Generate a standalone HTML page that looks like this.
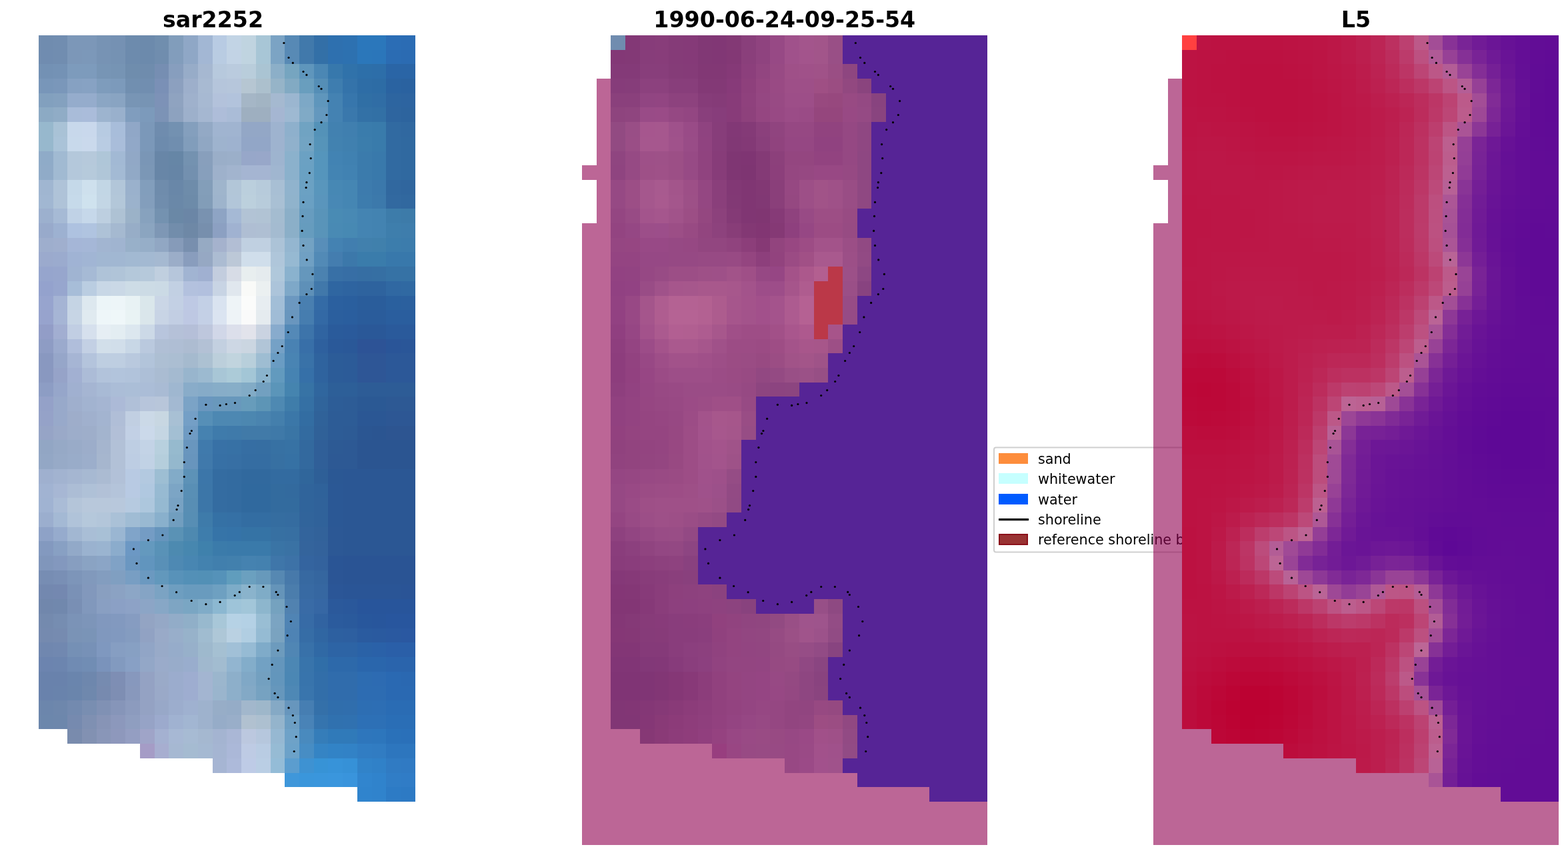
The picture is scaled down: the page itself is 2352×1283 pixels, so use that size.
<!DOCTYPE html>
<html lang="en"><head><meta charset="utf-8"><title>shoreline detection</title>
<style>
html,body{margin:0;padding:0;background:#fff;}
body{width:2352px;height:1283px;overflow:hidden;}
svg{display:block;}
</style></head><body>
<svg width="2352" height="1283" viewBox="0 0 2352 1283">
<rect width="2352" height="1283" fill="#fff"/>
<g font-family="'DejaVu Sans','Liberation Sans',sans-serif" font-size="33.25px" font-weight="bold" fill="#000">
<text x="319.5" y="41" text-anchor="middle">sar2252</text>
<text x="1176.8" y="41" text-anchor="middle">1990-06-24-09-25-54</text>
<text x="2034.0" y="41" text-anchor="middle">L5</text>
</g>
<g id="p1" shape-rendering="crispEdges">
<rect x="58" y="53" width="22" height="22" fill="#708caf"/>
<rect x="80" y="53" width="21" height="22" fill="#718db0"/>
<rect x="101" y="53" width="44" height="22" fill="#7c97b8"/>
<rect x="145" y="53" width="21" height="22" fill="#7793b4"/>
<rect x="166" y="53" width="22" height="22" fill="#7591b3"/>
<rect x="188" y="53" width="22" height="22" fill="#6d8bad"/>
<rect x="210" y="53" width="22" height="22" fill="#6c8aac"/>
<rect x="232" y="53" width="21" height="22" fill="#708eae"/>
<rect x="253" y="53" width="22" height="22" fill="#819dbb"/>
<rect x="275" y="53" width="22" height="22" fill="#8fa7c6"/>
<rect x="297" y="53" width="22" height="22" fill="#a2b7d4"/>
<rect x="319" y="53" width="21" height="22" fill="#b8cbe3"/>
<rect x="340" y="53" width="22" height="22" fill="#c2d4e5"/>
<rect x="362" y="53" width="22" height="22" fill="#c0d4e0"/>
<rect x="384" y="53" width="22" height="22" fill="#a8c6d6"/>
<rect x="406" y="53" width="21" height="22" fill="#7ba3c4"/>
<rect x="427" y="53" width="22" height="22" fill="#5789b5"/>
<rect x="449" y="53" width="22" height="22" fill="#4179ab"/>
<rect x="471" y="53" width="21" height="22" fill="#336fa7"/>
<rect x="492" y="53" width="22" height="22" fill="#2e70af"/>
<rect x="514" y="53" width="22" height="22" fill="#2d71b1"/>
<rect x="536" y="53" width="43" height="22" fill="#2b77bb"/>
<rect x="579" y="53" width="22" height="22" fill="#2b6db5"/>
<rect x="601" y="53" width="22" height="22" fill="#2b6cb4"/>
<rect x="58" y="75" width="22" height="21" fill="#708cb0"/>
<rect x="80" y="75" width="21" height="21" fill="#718db0"/>
<rect x="101" y="75" width="22" height="21" fill="#7c97b8"/>
<rect x="123" y="75" width="22" height="21" fill="#7c98b9"/>
<rect x="145" y="75" width="21" height="21" fill="#7793b4"/>
<rect x="166" y="75" width="22" height="21" fill="#7592b3"/>
<rect x="188" y="75" width="22" height="21" fill="#6d8bad"/>
<rect x="210" y="75" width="22" height="21" fill="#6c8aac"/>
<rect x="232" y="75" width="21" height="21" fill="#708dae"/>
<rect x="253" y="75" width="22" height="21" fill="#829dbc"/>
<rect x="275" y="75" width="22" height="21" fill="#8fa7c6"/>
<rect x="297" y="75" width="22" height="21" fill="#a3b7d4"/>
<rect x="319" y="75" width="21" height="21" fill="#b9cce2"/>
<rect x="340" y="75" width="22" height="21" fill="#c2d3e5"/>
<rect x="362" y="75" width="22" height="21" fill="#c0d4e0"/>
<rect x="384" y="75" width="22" height="21" fill="#a8c6d6"/>
<rect x="406" y="75" width="21" height="21" fill="#7ca4c4"/>
<rect x="427" y="75" width="22" height="21" fill="#588ab5"/>
<rect x="449" y="75" width="22" height="21" fill="#4179ab"/>
<rect x="471" y="75" width="21" height="21" fill="#3370a7"/>
<rect x="492" y="75" width="22" height="21" fill="#2e70af"/>
<rect x="514" y="75" width="22" height="21" fill="#2d71b0"/>
<rect x="536" y="75" width="22" height="21" fill="#2b77ba"/>
<rect x="558" y="75" width="21" height="21" fill="#2b76ba"/>
<rect x="579" y="75" width="22" height="21" fill="#2b6cb3"/>
<rect x="601" y="75" width="22" height="21" fill="#2b6bb2"/>
<rect x="58" y="96" width="22" height="22" fill="#7391b4"/>
<rect x="80" y="96" width="21" height="22" fill="#7492b5"/>
<rect x="101" y="96" width="44" height="22" fill="#7d9bbc"/>
<rect x="145" y="96" width="21" height="22" fill="#7795b5"/>
<rect x="166" y="96" width="22" height="22" fill="#7694b4"/>
<rect x="188" y="96" width="22" height="22" fill="#6f8dad"/>
<rect x="210" y="96" width="22" height="22" fill="#6f8cad"/>
<rect x="232" y="96" width="21" height="22" fill="#768eb2"/>
<rect x="253" y="96" width="22" height="22" fill="#879ebe"/>
<rect x="275" y="96" width="22" height="22" fill="#97acc8"/>
<rect x="297" y="96" width="22" height="22" fill="#a6b8d1"/>
<rect x="319" y="96" width="21" height="22" fill="#b7c9dd"/>
<rect x="340" y="96" width="22" height="22" fill="#bacbde"/>
<rect x="362" y="96" width="22" height="22" fill="#b9cddb"/>
<rect x="384" y="96" width="22" height="22" fill="#aac4d3"/>
<rect x="406" y="96" width="21" height="22" fill="#8cafc8"/>
<rect x="427" y="96" width="22" height="22" fill="#76a5c0"/>
<rect x="449" y="96" width="22" height="22" fill="#5f96bc"/>
<rect x="471" y="96" width="21" height="22" fill="#4b87b4"/>
<rect x="492" y="96" width="22" height="22" fill="#3778ac"/>
<rect x="514" y="96" width="22" height="22" fill="#3072aa"/>
<rect x="536" y="96" width="22" height="22" fill="#2d6fa9"/>
<rect x="558" y="96" width="21" height="22" fill="#2d6ea9"/>
<rect x="579" y="96" width="44" height="22" fill="#2a65a6"/>
<rect x="58" y="118" width="22" height="22" fill="#7896b9"/>
<rect x="80" y="118" width="21" height="22" fill="#7a97ba"/>
<rect x="101" y="118" width="22" height="22" fill="#86a1c2"/>
<rect x="123" y="118" width="22" height="22" fill="#87a2c3"/>
<rect x="145" y="118" width="21" height="22" fill="#7e9cbc"/>
<rect x="166" y="118" width="22" height="22" fill="#7c9abb"/>
<rect x="188" y="118" width="22" height="22" fill="#718fb0"/>
<rect x="210" y="118" width="22" height="22" fill="#718eb0"/>
<rect x="232" y="118" width="21" height="22" fill="#7a90b6"/>
<rect x="253" y="118" width="22" height="22" fill="#8ca0bf"/>
<rect x="275" y="118" width="22" height="22" fill="#9dafcb"/>
<rect x="297" y="118" width="22" height="22" fill="#a8bad2"/>
<rect x="319" y="118" width="21" height="22" fill="#b5c5db"/>
<rect x="340" y="118" width="22" height="22" fill="#b6c6db"/>
<rect x="362" y="118" width="22" height="22" fill="#b6c6d2"/>
<rect x="384" y="118" width="22" height="22" fill="#acc0cd"/>
<rect x="406" y="118" width="21" height="22" fill="#96b4c8"/>
<rect x="427" y="118" width="22" height="22" fill="#82aac3"/>
<rect x="449" y="118" width="22" height="22" fill="#699ebe"/>
<rect x="471" y="118" width="21" height="22" fill="#558eb6"/>
<rect x="492" y="118" width="22" height="22" fill="#3e7daf"/>
<rect x="514" y="118" width="22" height="22" fill="#3473aa"/>
<rect x="536" y="118" width="22" height="22" fill="#2e6da6"/>
<rect x="558" y="118" width="21" height="22" fill="#2d6ca5"/>
<rect x="579" y="118" width="22" height="22" fill="#2a63a1"/>
<rect x="601" y="118" width="22" height="22" fill="#2a62a0"/>
<rect x="58" y="140" width="22" height="21" fill="#82a0be"/>
<rect x="80" y="140" width="21" height="21" fill="#84a1bf"/>
<rect x="101" y="140" width="44" height="21" fill="#95accc"/>
<rect x="145" y="140" width="21" height="21" fill="#8ba6c4"/>
<rect x="166" y="140" width="22" height="21" fill="#89a4c2"/>
<rect x="188" y="140" width="22" height="21" fill="#7895b5"/>
<rect x="210" y="140" width="22" height="21" fill="#7794b4"/>
<rect x="232" y="140" width="21" height="21" fill="#7d92b7"/>
<rect x="253" y="140" width="22" height="21" fill="#8fa3c0"/>
<rect x="275" y="140" width="22" height="21" fill="#9fb1cc"/>
<rect x="297" y="140" width="22" height="21" fill="#a7b9d2"/>
<rect x="319" y="140" width="21" height="21" fill="#b3c2db"/>
<rect x="340" y="140" width="22" height="21" fill="#b2c3dc"/>
<rect x="362" y="140" width="22" height="21" fill="#a5b6c6"/>
<rect x="384" y="140" width="22" height="21" fill="#a2b4c3"/>
<rect x="406" y="140" width="21" height="21" fill="#a5b9d0"/>
<rect x="427" y="140" width="22" height="21" fill="#9bb6d0"/>
<rect x="449" y="140" width="22" height="21" fill="#7da8c6"/>
<rect x="471" y="140" width="21" height="21" fill="#5f96bc"/>
<rect x="492" y="140" width="22" height="21" fill="#4482b2"/>
<rect x="514" y="140" width="22" height="21" fill="#3776ac"/>
<rect x="536" y="140" width="22" height="21" fill="#306fa5"/>
<rect x="558" y="140" width="21" height="21" fill="#306da5"/>
<rect x="579" y="140" width="22" height="21" fill="#2d65a0"/>
<rect x="601" y="140" width="22" height="21" fill="#2d64a0"/>
<rect x="58" y="161" width="22" height="22" fill="#8caac4"/>
<rect x="80" y="161" width="21" height="22" fill="#90acc6"/>
<rect x="101" y="161" width="22" height="22" fill="#a9bcd9"/>
<rect x="123" y="161" width="22" height="22" fill="#aabcda"/>
<rect x="145" y="161" width="21" height="22" fill="#9db4cf"/>
<rect x="166" y="161" width="22" height="22" fill="#99b0cc"/>
<rect x="188" y="161" width="22" height="22" fill="#809dbe"/>
<rect x="210" y="161" width="22" height="22" fill="#7c9abb"/>
<rect x="232" y="161" width="21" height="22" fill="#7c93b6"/>
<rect x="253" y="161" width="22" height="22" fill="#8da2bf"/>
<rect x="275" y="161" width="22" height="22" fill="#9db0cb"/>
<rect x="297" y="161" width="22" height="22" fill="#a5b7d1"/>
<rect x="319" y="161" width="21" height="22" fill="#aebdd9"/>
<rect x="340" y="161" width="22" height="22" fill="#aabcd7"/>
<rect x="362" y="161" width="44" height="22" fill="#9eafc0"/>
<rect x="406" y="161" width="21" height="22" fill="#a5b6d2"/>
<rect x="427" y="161" width="22" height="22" fill="#9eb9d2"/>
<rect x="449" y="161" width="22" height="22" fill="#80aac6"/>
<rect x="471" y="161" width="21" height="22" fill="#6498be"/>
<rect x="492" y="161" width="22" height="22" fill="#4482b2"/>
<rect x="514" y="161" width="22" height="22" fill="#3a78ac"/>
<rect x="536" y="161" width="22" height="22" fill="#3371a6"/>
<rect x="558" y="161" width="21" height="22" fill="#3270a5"/>
<rect x="579" y="161" width="22" height="22" fill="#2e659f"/>
<rect x="601" y="161" width="22" height="22" fill="#2d649e"/>
<rect x="58" y="183" width="22" height="22" fill="#97b8cd"/>
<rect x="80" y="183" width="21" height="22" fill="#a9c2d6"/>
<rect x="101" y="183" width="22" height="22" fill="#c8d8eb"/>
<rect x="123" y="183" width="22" height="22" fill="#c9d8ec"/>
<rect x="145" y="183" width="21" height="22" fill="#b7cbe2"/>
<rect x="166" y="183" width="22" height="22" fill="#a8bdda"/>
<rect x="188" y="183" width="22" height="22" fill="#90a7c7"/>
<rect x="210" y="183" width="22" height="22" fill="#7b98b9"/>
<rect x="232" y="183" width="21" height="22" fill="#6f8cae"/>
<rect x="253" y="183" width="22" height="22" fill="#7391b1"/>
<rect x="275" y="183" width="22" height="22" fill="#849fbd"/>
<rect x="297" y="183" width="22" height="22" fill="#93a9c5"/>
<rect x="319" y="183" width="43" height="22" fill="#a0b4d0"/>
<rect x="362" y="183" width="44" height="22" fill="#93a7c6"/>
<rect x="406" y="183" width="21" height="22" fill="#9eb3cf"/>
<rect x="427" y="183" width="22" height="22" fill="#8eb0cc"/>
<rect x="449" y="183" width="22" height="22" fill="#70a3c2"/>
<rect x="471" y="183" width="21" height="22" fill="#5492b8"/>
<rect x="492" y="183" width="22" height="22" fill="#4281b0"/>
<rect x="514" y="183" width="22" height="22" fill="#407faf"/>
<rect x="536" y="183" width="22" height="22" fill="#3a7cac"/>
<rect x="558" y="183" width="21" height="22" fill="#397bab"/>
<rect x="579" y="183" width="22" height="22" fill="#316aa1"/>
<rect x="601" y="183" width="22" height="22" fill="#3068a0"/>
<rect x="58" y="205" width="22" height="22" fill="#97b8cd"/>
<rect x="80" y="205" width="21" height="22" fill="#aac3d8"/>
<rect x="101" y="205" width="22" height="22" fill="#c8d9eb"/>
<rect x="123" y="205" width="22" height="22" fill="#cad9ec"/>
<rect x="145" y="205" width="21" height="22" fill="#b9cce3"/>
<rect x="166" y="205" width="22" height="22" fill="#a9bdda"/>
<rect x="188" y="205" width="22" height="22" fill="#91a8c8"/>
<rect x="210" y="205" width="22" height="22" fill="#7b98b9"/>
<rect x="232" y="205" width="21" height="22" fill="#6d8bad"/>
<rect x="253" y="205" width="22" height="22" fill="#708eaf"/>
<rect x="275" y="205" width="22" height="22" fill="#819dbb"/>
<rect x="297" y="205" width="22" height="22" fill="#90a7c3"/>
<rect x="319" y="205" width="21" height="22" fill="#9eb3ce"/>
<rect x="340" y="205" width="22" height="22" fill="#9eb2cf"/>
<rect x="362" y="205" width="44" height="22" fill="#92a6c7"/>
<rect x="406" y="205" width="21" height="22" fill="#9eb3cf"/>
<rect x="427" y="205" width="22" height="22" fill="#90b1cc"/>
<rect x="449" y="205" width="22" height="22" fill="#72a4c3"/>
<rect x="471" y="205" width="21" height="22" fill="#5694b9"/>
<rect x="492" y="205" width="22" height="22" fill="#4282b0"/>
<rect x="514" y="205" width="22" height="22" fill="#4080af"/>
<rect x="536" y="205" width="22" height="22" fill="#3b7dac"/>
<rect x="558" y="205" width="21" height="22" fill="#397bab"/>
<rect x="579" y="205" width="22" height="22" fill="#316aa1"/>
<rect x="601" y="205" width="22" height="22" fill="#3069a0"/>
<rect x="58" y="227" width="22" height="21" fill="#8fabc8"/>
<rect x="80" y="227" width="21" height="21" fill="#a1bad2"/>
<rect x="101" y="227" width="22" height="21" fill="#b4c8db"/>
<rect x="123" y="227" width="22" height="21" fill="#b6c9db"/>
<rect x="145" y="227" width="21" height="21" fill="#afc6d8"/>
<rect x="166" y="227" width="22" height="21" fill="#a2b9d4"/>
<rect x="188" y="227" width="22" height="21" fill="#91a8c6"/>
<rect x="210" y="227" width="22" height="21" fill="#7a96b6"/>
<rect x="232" y="227" width="21" height="21" fill="#6886a7"/>
<rect x="253" y="227" width="22" height="21" fill="#6686a6"/>
<rect x="275" y="227" width="22" height="21" fill="#7492b0"/>
<rect x="297" y="227" width="22" height="21" fill="#889fbc"/>
<rect x="319" y="227" width="21" height="21" fill="#9aaec8"/>
<rect x="340" y="227" width="22" height="21" fill="#9bafc9"/>
<rect x="362" y="227" width="22" height="21" fill="#97a7c9"/>
<rect x="384" y="227" width="22" height="21" fill="#98a7c9"/>
<rect x="406" y="227" width="21" height="21" fill="#9eb4cf"/>
<rect x="427" y="227" width="22" height="21" fill="#8bb1cc"/>
<rect x="449" y="227" width="22" height="21" fill="#6ba1c3"/>
<rect x="471" y="227" width="21" height="21" fill="#5595bc"/>
<rect x="492" y="227" width="22" height="21" fill="#4283b3"/>
<rect x="514" y="227" width="22" height="21" fill="#4081b1"/>
<rect x="536" y="227" width="22" height="21" fill="#3b7bac"/>
<rect x="558" y="227" width="21" height="21" fill="#3979ab"/>
<rect x="579" y="227" width="22" height="21" fill="#316aa1"/>
<rect x="601" y="227" width="22" height="21" fill="#3069a0"/>
<rect x="58" y="248" width="22" height="22" fill="#90abc8"/>
<rect x="80" y="248" width="21" height="22" fill="#a1bad2"/>
<rect x="101" y="248" width="22" height="22" fill="#b4c8db"/>
<rect x="123" y="248" width="22" height="22" fill="#b6cadb"/>
<rect x="145" y="248" width="21" height="22" fill="#b0c6d8"/>
<rect x="166" y="248" width="22" height="22" fill="#a3bad4"/>
<rect x="188" y="248" width="22" height="22" fill="#91a9c6"/>
<rect x="210" y="248" width="22" height="22" fill="#7b97b6"/>
<rect x="232" y="248" width="21" height="22" fill="#6886a7"/>
<rect x="253" y="248" width="22" height="22" fill="#6685a6"/>
<rect x="275" y="248" width="22" height="22" fill="#7390af"/>
<rect x="297" y="248" width="22" height="22" fill="#879fbc"/>
<rect x="319" y="248" width="21" height="22" fill="#9eb1cb"/>
<rect x="340" y="248" width="22" height="22" fill="#a2b4ce"/>
<rect x="362" y="248" width="44" height="22" fill="#a5b5d2"/>
<rect x="406" y="248" width="21" height="22" fill="#a0b6d0"/>
<rect x="427" y="248" width="22" height="22" fill="#8bb1cc"/>
<rect x="449" y="248" width="22" height="22" fill="#6aa1c3"/>
<rect x="471" y="248" width="21" height="22" fill="#5595bc"/>
<rect x="492" y="248" width="22" height="22" fill="#4384b3"/>
<rect x="514" y="248" width="22" height="22" fill="#4182b2"/>
<rect x="536" y="248" width="22" height="22" fill="#3b7bac"/>
<rect x="558" y="248" width="21" height="22" fill="#3979ab"/>
<rect x="579" y="248" width="22" height="22" fill="#316aa1"/>
<rect x="601" y="248" width="22" height="22" fill="#3069a0"/>
<rect x="58" y="270" width="22" height="22" fill="#a0b6d1"/>
<rect x="80" y="270" width="21" height="22" fill="#afc3d8"/>
<rect x="101" y="270" width="22" height="22" fill="#c5d9e9"/>
<rect x="123" y="270" width="22" height="22" fill="#cee0ed"/>
<rect x="145" y="270" width="21" height="22" fill="#c2d6e5"/>
<rect x="166" y="270" width="22" height="22" fill="#b2c6d9"/>
<rect x="188" y="270" width="22" height="22" fill="#9ab1cc"/>
<rect x="210" y="270" width="22" height="22" fill="#829ebc"/>
<rect x="232" y="270" width="21" height="22" fill="#6f8cac"/>
<rect x="253" y="270" width="22" height="22" fill="#6987a8"/>
<rect x="275" y="270" width="22" height="22" fill="#6e8caa"/>
<rect x="297" y="270" width="22" height="22" fill="#839eb9"/>
<rect x="319" y="270" width="21" height="22" fill="#9fb5cc"/>
<rect x="340" y="270" width="22" height="22" fill="#b2c6d8"/>
<rect x="362" y="270" width="22" height="22" fill="#bbcfdd"/>
<rect x="384" y="270" width="22" height="22" fill="#b7cbdb"/>
<rect x="406" y="270" width="21" height="22" fill="#a8bfd4"/>
<rect x="427" y="270" width="22" height="22" fill="#90b3cd"/>
<rect x="449" y="270" width="22" height="22" fill="#6ba1c3"/>
<rect x="471" y="270" width="21" height="22" fill="#5996bc"/>
<rect x="492" y="270" width="22" height="22" fill="#4788b4"/>
<rect x="514" y="270" width="22" height="22" fill="#4586b3"/>
<rect x="536" y="270" width="22" height="22" fill="#3d7bad"/>
<rect x="558" y="270" width="21" height="22" fill="#3b78ab"/>
<rect x="579" y="270" width="22" height="22" fill="#31689f"/>
<rect x="601" y="270" width="22" height="22" fill="#30669e"/>
<rect x="58" y="292" width="22" height="21" fill="#a1b7d2"/>
<rect x="80" y="292" width="21" height="21" fill="#afc3d8"/>
<rect x="101" y="292" width="22" height="21" fill="#c6daea"/>
<rect x="123" y="292" width="22" height="21" fill="#cfe2ee"/>
<rect x="145" y="292" width="21" height="21" fill="#c3d6e5"/>
<rect x="166" y="292" width="22" height="21" fill="#b3c7d9"/>
<rect x="188" y="292" width="22" height="21" fill="#9bb2cc"/>
<rect x="210" y="292" width="22" height="21" fill="#839ebc"/>
<rect x="232" y="292" width="21" height="21" fill="#708dad"/>
<rect x="253" y="292" width="22" height="21" fill="#6a88a8"/>
<rect x="275" y="292" width="22" height="21" fill="#6d8ba9"/>
<rect x="297" y="292" width="22" height="21" fill="#829db8"/>
<rect x="319" y="292" width="21" height="21" fill="#9eb4cc"/>
<rect x="340" y="292" width="22" height="21" fill="#b2c6d9"/>
<rect x="362" y="292" width="22" height="21" fill="#bcd0dd"/>
<rect x="384" y="292" width="22" height="21" fill="#b8ccdb"/>
<rect x="406" y="292" width="21" height="21" fill="#a9c0d4"/>
<rect x="427" y="292" width="22" height="21" fill="#90b3cc"/>
<rect x="449" y="292" width="22" height="21" fill="#6aa0c3"/>
<rect x="471" y="292" width="21" height="21" fill="#5a95bc"/>
<rect x="492" y="292" width="22" height="21" fill="#4888b5"/>
<rect x="514" y="292" width="22" height="21" fill="#4586b3"/>
<rect x="536" y="292" width="22" height="21" fill="#3d7cad"/>
<rect x="558" y="292" width="21" height="21" fill="#3c79ab"/>
<rect x="579" y="292" width="22" height="21" fill="#3269a0"/>
<rect x="601" y="292" width="22" height="21" fill="#31689f"/>
<rect x="58" y="313" width="22" height="22" fill="#9cb0ce"/>
<rect x="80" y="313" width="21" height="22" fill="#a6bad5"/>
<rect x="101" y="313" width="22" height="22" fill="#c0d2e6"/>
<rect x="123" y="313" width="22" height="22" fill="#c6d8ea"/>
<rect x="145" y="313" width="21" height="22" fill="#bdcfe0"/>
<rect x="166" y="313" width="22" height="22" fill="#aec2d4"/>
<rect x="188" y="313" width="22" height="22" fill="#9bb2c8"/>
<rect x="210" y="313" width="22" height="22" fill="#87a2be"/>
<rect x="232" y="313" width="21" height="22" fill="#7492b0"/>
<rect x="253" y="313" width="22" height="22" fill="#6a88a6"/>
<rect x="275" y="313" width="22" height="22" fill="#6b86a6"/>
<rect x="297" y="313" width="22" height="22" fill="#7992b0"/>
<rect x="319" y="313" width="21" height="22" fill="#8ea4c4"/>
<rect x="340" y="313" width="22" height="22" fill="#a5b9d5"/>
<rect x="362" y="313" width="22" height="22" fill="#b2c3d5"/>
<rect x="384" y="313" width="22" height="22" fill="#b1c3d4"/>
<rect x="406" y="313" width="21" height="22" fill="#a4bcd0"/>
<rect x="427" y="313" width="22" height="22" fill="#8bafc8"/>
<rect x="449" y="313" width="22" height="22" fill="#679cbf"/>
<rect x="471" y="313" width="21" height="22" fill="#5994b9"/>
<rect x="492" y="313" width="22" height="22" fill="#498bb4"/>
<rect x="514" y="313" width="22" height="22" fill="#4889b4"/>
<rect x="536" y="313" width="22" height="22" fill="#4484b2"/>
<rect x="558" y="313" width="21" height="22" fill="#4383b1"/>
<rect x="579" y="313" width="22" height="22" fill="#3d7caa"/>
<rect x="601" y="313" width="22" height="22" fill="#3d7ba9"/>
<rect x="58" y="335" width="22" height="22" fill="#98aacb"/>
<rect x="80" y="335" width="21" height="22" fill="#9db1d1"/>
<rect x="101" y="335" width="22" height="22" fill="#aec2e0"/>
<rect x="123" y="335" width="22" height="22" fill="#b0c4e0"/>
<rect x="145" y="335" width="21" height="22" fill="#aec2d7"/>
<rect x="166" y="335" width="22" height="22" fill="#a5b9d0"/>
<rect x="188" y="335" width="22" height="22" fill="#97adc7"/>
<rect x="210" y="335" width="22" height="22" fill="#8ba5c0"/>
<rect x="232" y="335" width="21" height="22" fill="#7e97b5"/>
<rect x="253" y="335" width="22" height="22" fill="#728dab"/>
<rect x="275" y="335" width="22" height="22" fill="#6e88a6"/>
<rect x="297" y="335" width="22" height="22" fill="#778fad"/>
<rect x="319" y="335" width="21" height="22" fill="#8ca0c2"/>
<rect x="340" y="335" width="22" height="22" fill="#a0b2d1"/>
<rect x="362" y="335" width="22" height="22" fill="#afbed3"/>
<rect x="384" y="335" width="22" height="22" fill="#afbfd3"/>
<rect x="406" y="335" width="21" height="22" fill="#a4bbd0"/>
<rect x="427" y="335" width="22" height="22" fill="#8bafc8"/>
<rect x="449" y="335" width="22" height="22" fill="#669cbe"/>
<rect x="471" y="335" width="21" height="22" fill="#5994b9"/>
<rect x="492" y="335" width="22" height="22" fill="#498ab4"/>
<rect x="514" y="335" width="22" height="22" fill="#4789b3"/>
<rect x="536" y="335" width="22" height="22" fill="#4484b2"/>
<rect x="558" y="335" width="21" height="22" fill="#4383b1"/>
<rect x="579" y="335" width="22" height="22" fill="#3e7eac"/>
<rect x="601" y="335" width="22" height="22" fill="#3e7dac"/>
<rect x="58" y="357" width="22" height="21" fill="#9eaecd"/>
<rect x="80" y="357" width="21" height="21" fill="#a0afce"/>
<rect x="101" y="357" width="22" height="21" fill="#a5b6d7"/>
<rect x="123" y="357" width="22" height="21" fill="#a5b7d7"/>
<rect x="145" y="357" width="21" height="21" fill="#a2b5d1"/>
<rect x="166" y="357" width="22" height="21" fill="#a0b4d0"/>
<rect x="188" y="357" width="22" height="21" fill="#98b0c9"/>
<rect x="210" y="357" width="22" height="21" fill="#96aec8"/>
<rect x="232" y="357" width="21" height="21" fill="#91a7c3"/>
<rect x="253" y="357" width="22" height="21" fill="#869bb9"/>
<rect x="275" y="357" width="22" height="21" fill="#788fae"/>
<rect x="297" y="357" width="22" height="21" fill="#96aac3"/>
<rect x="319" y="357" width="21" height="21" fill="#a5b2cd"/>
<rect x="340" y="357" width="22" height="21" fill="#b2bed4"/>
<rect x="362" y="357" width="44" height="21" fill="#c0d0e1"/>
<rect x="406" y="357" width="21" height="21" fill="#acc3d7"/>
<rect x="427" y="357" width="22" height="21" fill="#94b6d0"/>
<rect x="449" y="357" width="22" height="21" fill="#73a2c3"/>
<rect x="471" y="357" width="21" height="21" fill="#588eb9"/>
<rect x="492" y="357" width="22" height="21" fill="#4482b2"/>
<rect x="514" y="357" width="22" height="21" fill="#417eaf"/>
<rect x="536" y="357" width="22" height="21" fill="#4180ad"/>
<rect x="558" y="357" width="21" height="21" fill="#4080ac"/>
<rect x="579" y="357" width="22" height="21" fill="#3c7dac"/>
<rect x="601" y="357" width="22" height="21" fill="#3c7cac"/>
<rect x="58" y="378" width="22" height="22" fill="#9baacd"/>
<rect x="80" y="378" width="21" height="22" fill="#9babce"/>
<rect x="101" y="378" width="22" height="22" fill="#a0b3d4"/>
<rect x="123" y="378" width="22" height="22" fill="#a1b5d4"/>
<rect x="145" y="378" width="43" height="22" fill="#a1b7d2"/>
<rect x="188" y="378" width="22" height="22" fill="#a2b9d2"/>
<rect x="210" y="378" width="22" height="22" fill="#a3b9d2"/>
<rect x="232" y="378" width="21" height="22" fill="#a5b9d1"/>
<rect x="253" y="378" width="22" height="22" fill="#9badc8"/>
<rect x="275" y="378" width="22" height="22" fill="#899dbd"/>
<rect x="297" y="378" width="22" height="22" fill="#96a8c3"/>
<rect x="319" y="378" width="21" height="22" fill="#acbcd2"/>
<rect x="340" y="378" width="22" height="22" fill="#bcc8d7"/>
<rect x="362" y="378" width="44" height="22" fill="#d0deeb"/>
<rect x="406" y="378" width="21" height="22" fill="#afc6da"/>
<rect x="427" y="378" width="22" height="22" fill="#96b9d2"/>
<rect x="449" y="378" width="22" height="22" fill="#70a0c3"/>
<rect x="471" y="378" width="21" height="22" fill="#528ab6"/>
<rect x="492" y="378" width="22" height="22" fill="#447daf"/>
<rect x="514" y="378" width="22" height="22" fill="#3c78aa"/>
<rect x="536" y="378" width="43" height="22" fill="#3a7cab"/>
<rect x="579" y="378" width="44" height="22" fill="#3878ab"/>
<rect x="58" y="400" width="22" height="22" fill="#96a5cd"/>
<rect x="80" y="400" width="21" height="22" fill="#97a6cd"/>
<rect x="101" y="400" width="22" height="22" fill="#a0b4d2"/>
<rect x="123" y="400" width="22" height="22" fill="#a6bad5"/>
<rect x="145" y="400" width="21" height="22" fill="#afc3d8"/>
<rect x="166" y="400" width="22" height="22" fill="#b0c4d8"/>
<rect x="188" y="400" width="22" height="22" fill="#b4c8da"/>
<rect x="210" y="400" width="22" height="22" fill="#b6c9db"/>
<rect x="232" y="400" width="21" height="22" fill="#c0cfdf"/>
<rect x="253" y="400" width="22" height="22" fill="#b6c6db"/>
<rect x="275" y="400" width="22" height="22" fill="#a1b4d2"/>
<rect x="297" y="400" width="22" height="22" fill="#a0b0d1"/>
<rect x="319" y="400" width="21" height="22" fill="#c3cdde"/>
<rect x="340" y="400" width="22" height="22" fill="#d7dce6"/>
<rect x="362" y="400" width="22" height="22" fill="#e8eeef"/>
<rect x="384" y="400" width="22" height="22" fill="#e5ebee"/>
<rect x="406" y="400" width="21" height="22" fill="#b0c8db"/>
<rect x="427" y="400" width="22" height="22" fill="#8ab2ce"/>
<rect x="449" y="400" width="22" height="22" fill="#6597bc"/>
<rect x="471" y="400" width="21" height="22" fill="#4b82b0"/>
<rect x="492" y="400" width="22" height="22" fill="#3870a6"/>
<rect x="514" y="400" width="22" height="22" fill="#376ea5"/>
<rect x="536" y="400" width="22" height="22" fill="#366ea3"/>
<rect x="558" y="400" width="21" height="22" fill="#366fa3"/>
<rect x="579" y="400" width="44" height="22" fill="#3672a5"/>
<rect x="58" y="422" width="22" height="22" fill="#94a2cd"/>
<rect x="80" y="422" width="21" height="22" fill="#97a6ce"/>
<rect x="101" y="422" width="22" height="22" fill="#a7bdd8"/>
<rect x="123" y="422" width="22" height="22" fill="#bacde1"/>
<rect x="145" y="422" width="21" height="22" fill="#c8d7e6"/>
<rect x="166" y="422" width="22" height="22" fill="#cad8e6"/>
<rect x="188" y="422" width="22" height="22" fill="#cddce6"/>
<rect x="210" y="422" width="22" height="22" fill="#ccdbe5"/>
<rect x="232" y="422" width="21" height="22" fill="#cbdae5"/>
<rect x="253" y="422" width="22" height="22" fill="#c2d0e3"/>
<rect x="275" y="422" width="22" height="22" fill="#b3c1de"/>
<rect x="297" y="422" width="22" height="22" fill="#b2c0de"/>
<rect x="319" y="422" width="21" height="22" fill="#c8d4e4"/>
<rect x="340" y="422" width="22" height="22" fill="#e0e7ee"/>
<rect x="362" y="422" width="22" height="22" fill="#f9faf8"/>
<rect x="384" y="422" width="22" height="22" fill="#ebf0f1"/>
<rect x="406" y="422" width="21" height="22" fill="#acc4da"/>
<rect x="427" y="422" width="22" height="22" fill="#7ea8c8"/>
<rect x="449" y="422" width="22" height="22" fill="#5e90b8"/>
<rect x="471" y="422" width="21" height="22" fill="#4178aa"/>
<rect x="492" y="422" width="22" height="22" fill="#2f66a1"/>
<rect x="514" y="422" width="22" height="22" fill="#2e64a0"/>
<rect x="536" y="422" width="43" height="22" fill="#2e639e"/>
<rect x="579" y="422" width="22" height="22" fill="#3068a2"/>
<rect x="601" y="422" width="22" height="22" fill="#3069a2"/>
<rect x="58" y="444" width="22" height="21" fill="#97a4ce"/>
<rect x="80" y="444" width="21" height="21" fill="#a5b4d4"/>
<rect x="101" y="444" width="22" height="21" fill="#c5d4e4"/>
<rect x="123" y="444" width="22" height="21" fill="#dde8ef"/>
<rect x="145" y="444" width="21" height="21" fill="#ecf5f8"/>
<rect x="166" y="444" width="22" height="21" fill="#edf5f8"/>
<rect x="188" y="444" width="22" height="21" fill="#e8f2f4"/>
<rect x="210" y="444" width="22" height="21" fill="#dae7eb"/>
<rect x="232" y="444" width="21" height="21" fill="#cad6e6"/>
<rect x="253" y="444" width="22" height="21" fill="#c3d0e4"/>
<rect x="275" y="444" width="22" height="21" fill="#bec9e4"/>
<rect x="297" y="444" width="22" height="21" fill="#c3d0e6"/>
<rect x="319" y="444" width="21" height="21" fill="#d9e3f0"/>
<rect x="340" y="444" width="22" height="21" fill="#eef4f7"/>
<rect x="362" y="444" width="22" height="21" fill="#fbfcfb"/>
<rect x="384" y="444" width="22" height="21" fill="#e7edf1"/>
<rect x="406" y="444" width="21" height="21" fill="#a2bed7"/>
<rect x="427" y="444" width="22" height="21" fill="#6c98c0"/>
<rect x="449" y="444" width="22" height="21" fill="#497fb0"/>
<rect x="471" y="444" width="21" height="21" fill="#346ba6"/>
<rect x="492" y="444" width="22" height="21" fill="#2b609f"/>
<rect x="514" y="444" width="22" height="21" fill="#2a5f9e"/>
<rect x="536" y="444" width="43" height="21" fill="#2a5d9b"/>
<rect x="579" y="444" width="22" height="21" fill="#2a609e"/>
<rect x="601" y="444" width="22" height="21" fill="#2b609e"/>
<rect x="58" y="465" width="22" height="22" fill="#97a3cd"/>
<rect x="80" y="465" width="21" height="22" fill="#a6b5d5"/>
<rect x="101" y="465" width="22" height="22" fill="#c7d5e5"/>
<rect x="123" y="465" width="22" height="22" fill="#e0eaf0"/>
<rect x="145" y="465" width="21" height="22" fill="#eef6f9"/>
<rect x="166" y="465" width="22" height="22" fill="#eff7f9"/>
<rect x="188" y="465" width="22" height="22" fill="#e9f3f4"/>
<rect x="210" y="465" width="22" height="22" fill="#dae6eb"/>
<rect x="232" y="465" width="21" height="22" fill="#c8d4e5"/>
<rect x="253" y="465" width="22" height="22" fill="#c2cee3"/>
<rect x="275" y="465" width="22" height="22" fill="#bec8e3"/>
<rect x="297" y="465" width="22" height="22" fill="#c4d0e6"/>
<rect x="319" y="465" width="21" height="22" fill="#dbe4f1"/>
<rect x="340" y="465" width="22" height="22" fill="#eef3f7"/>
<rect x="362" y="465" width="22" height="22" fill="#fafafa"/>
<rect x="384" y="465" width="22" height="22" fill="#e5ebef"/>
<rect x="406" y="465" width="21" height="22" fill="#a0bcd6"/>
<rect x="427" y="465" width="22" height="22" fill="#6996be"/>
<rect x="449" y="465" width="22" height="22" fill="#467daf"/>
<rect x="471" y="465" width="21" height="22" fill="#3369a5"/>
<rect x="492" y="465" width="22" height="22" fill="#2b5f9e"/>
<rect x="514" y="465" width="22" height="22" fill="#2a5e9e"/>
<rect x="536" y="465" width="43" height="22" fill="#2a5c9b"/>
<rect x="579" y="465" width="44" height="22" fill="#2a5e9e"/>
<rect x="58" y="487" width="22" height="22" fill="#929dc7"/>
<rect x="80" y="487" width="21" height="22" fill="#a2aed1"/>
<rect x="101" y="487" width="22" height="22" fill="#c1cee3"/>
<rect x="123" y="487" width="22" height="22" fill="#d6e0ed"/>
<rect x="145" y="487" width="21" height="22" fill="#e6eef4"/>
<rect x="166" y="487" width="22" height="22" fill="#e3edf2"/>
<rect x="188" y="487" width="22" height="22" fill="#dce7ef"/>
<rect x="210" y="487" width="22" height="22" fill="#ccd9e7"/>
<rect x="232" y="487" width="21" height="22" fill="#b8c5dd"/>
<rect x="253" y="487" width="22" height="22" fill="#b5c1d8"/>
<rect x="275" y="487" width="22" height="22" fill="#b5bfd8"/>
<rect x="297" y="487" width="22" height="22" fill="#bec7dd"/>
<rect x="319" y="487" width="21" height="22" fill="#d1d7e8"/>
<rect x="340" y="487" width="22" height="22" fill="#dcdfeb"/>
<rect x="362" y="487" width="22" height="22" fill="#e2e3eb"/>
<rect x="384" y="487" width="22" height="22" fill="#cad3e1"/>
<rect x="406" y="487" width="21" height="22" fill="#88abcd"/>
<rect x="427" y="487" width="22" height="22" fill="#5489b7"/>
<rect x="449" y="487" width="22" height="22" fill="#3d74aa"/>
<rect x="471" y="487" width="21" height="22" fill="#3064a1"/>
<rect x="492" y="487" width="22" height="22" fill="#2a5b9b"/>
<rect x="514" y="487" width="22" height="22" fill="#2a5a9b"/>
<rect x="536" y="487" width="43" height="22" fill="#2a5898"/>
<rect x="579" y="487" width="44" height="22" fill="#2a5a9b"/>
<rect x="58" y="509" width="22" height="21" fill="#8e9cc4"/>
<rect x="80" y="509" width="21" height="21" fill="#9baacd"/>
<rect x="101" y="509" width="22" height="21" fill="#b0bedb"/>
<rect x="123" y="509" width="22" height="21" fill="#c3d0e4"/>
<rect x="145" y="509" width="21" height="21" fill="#d2dfea"/>
<rect x="166" y="509" width="22" height="21" fill="#d1deea"/>
<rect x="188" y="509" width="22" height="21" fill="#c8d7e6"/>
<rect x="210" y="509" width="22" height="21" fill="#bac9de"/>
<rect x="232" y="509" width="21" height="21" fill="#b0bfd5"/>
<rect x="253" y="509" width="22" height="21" fill="#afbed4"/>
<rect x="275" y="509" width="22" height="21" fill="#adbcd1"/>
<rect x="297" y="509" width="22" height="21" fill="#b3c1d5"/>
<rect x="319" y="509" width="21" height="21" fill="#c3d0e0"/>
<rect x="340" y="509" width="22" height="21" fill="#cdd7e4"/>
<rect x="362" y="509" width="22" height="21" fill="#cbd6e1"/>
<rect x="384" y="509" width="22" height="21" fill="#b1c5d7"/>
<rect x="406" y="509" width="21" height="21" fill="#75a1c6"/>
<rect x="427" y="509" width="22" height="21" fill="#4982b3"/>
<rect x="449" y="509" width="22" height="21" fill="#386fa8"/>
<rect x="471" y="509" width="21" height="21" fill="#2e609e"/>
<rect x="492" y="509" width="22" height="21" fill="#2a5999"/>
<rect x="514" y="509" width="22" height="21" fill="#2a5898"/>
<rect x="536" y="509" width="43" height="21" fill="#2d5396"/>
<rect x="579" y="509" width="22" height="21" fill="#2a5598"/>
<rect x="601" y="509" width="22" height="21" fill="#2a5698"/>
<rect x="58" y="530" width="22" height="22" fill="#8998c0"/>
<rect x="80" y="530" width="21" height="22" fill="#96a6c9"/>
<rect x="101" y="530" width="22" height="22" fill="#a6b5d4"/>
<rect x="123" y="530" width="22" height="22" fill="#b4c4dc"/>
<rect x="145" y="530" width="43" height="22" fill="#becee1"/>
<rect x="188" y="530" width="22" height="22" fill="#b9c9de"/>
<rect x="210" y="530" width="22" height="22" fill="#b2c4da"/>
<rect x="232" y="530" width="21" height="22" fill="#adbfd3"/>
<rect x="253" y="530" width="22" height="22" fill="#abbed2"/>
<rect x="275" y="530" width="22" height="22" fill="#a5bace"/>
<rect x="297" y="530" width="22" height="22" fill="#acc1d2"/>
<rect x="319" y="530" width="21" height="22" fill="#bccfdb"/>
<rect x="340" y="530" width="22" height="22" fill="#c1d4de"/>
<rect x="362" y="530" width="22" height="22" fill="#b8cfdb"/>
<rect x="384" y="530" width="22" height="22" fill="#9ebdd2"/>
<rect x="406" y="530" width="21" height="22" fill="#6a9cc3"/>
<rect x="427" y="530" width="22" height="22" fill="#4984b3"/>
<rect x="449" y="530" width="22" height="22" fill="#3972a8"/>
<rect x="471" y="530" width="21" height="22" fill="#2f639e"/>
<rect x="492" y="530" width="22" height="22" fill="#2c5c98"/>
<rect x="514" y="530" width="22" height="22" fill="#2c5b98"/>
<rect x="536" y="530" width="43" height="22" fill="#2e5696"/>
<rect x="579" y="530" width="44" height="22" fill="#2c5898"/>
<rect x="58" y="552" width="22" height="22" fill="#8998c0"/>
<rect x="80" y="552" width="21" height="22" fill="#96a3c8"/>
<rect x="101" y="552" width="22" height="22" fill="#a2b0d2"/>
<rect x="123" y="552" width="22" height="22" fill="#acbcd7"/>
<rect x="145" y="552" width="21" height="22" fill="#b2c3db"/>
<rect x="166" y="552" width="22" height="22" fill="#b2c4dc"/>
<rect x="188" y="552" width="22" height="22" fill="#b1c3db"/>
<rect x="210" y="552" width="22" height="22" fill="#adbfd7"/>
<rect x="232" y="552" width="21" height="22" fill="#aabcd2"/>
<rect x="253" y="552" width="22" height="22" fill="#a4bad0"/>
<rect x="275" y="552" width="22" height="22" fill="#98b5cd"/>
<rect x="297" y="552" width="22" height="22" fill="#9cbad0"/>
<rect x="319" y="552" width="21" height="22" fill="#a8c6d6"/>
<rect x="340" y="552" width="22" height="22" fill="#accbd8"/>
<rect x="362" y="552" width="22" height="22" fill="#a3c6d6"/>
<rect x="384" y="552" width="22" height="22" fill="#8ab3cc"/>
<rect x="406" y="552" width="21" height="22" fill="#629abe"/>
<rect x="427" y="552" width="22" height="22" fill="#4683b2"/>
<rect x="449" y="552" width="22" height="22" fill="#3670a8"/>
<rect x="471" y="552" width="21" height="22" fill="#2f639e"/>
<rect x="492" y="552" width="22" height="22" fill="#2c5c98"/>
<rect x="514" y="552" width="22" height="22" fill="#2c5b98"/>
<rect x="536" y="552" width="43" height="22" fill="#2e5696"/>
<rect x="579" y="552" width="44" height="22" fill="#2c5898"/>
<rect x="58" y="574" width="22" height="21" fill="#8d9dc4"/>
<rect x="80" y="574" width="21" height="21" fill="#96a6ca"/>
<rect x="101" y="574" width="22" height="21" fill="#a0b0d0"/>
<rect x="123" y="574" width="22" height="21" fill="#a5b5d2"/>
<rect x="145" y="574" width="21" height="21" fill="#a8bad5"/>
<rect x="166" y="574" width="22" height="21" fill="#abbdd7"/>
<rect x="188" y="574" width="22" height="21" fill="#abbed7"/>
<rect x="210" y="574" width="22" height="21" fill="#abbdd7"/>
<rect x="232" y="574" width="21" height="21" fill="#a9bbd4"/>
<rect x="253" y="574" width="22" height="21" fill="#9fb7d0"/>
<rect x="275" y="574" width="22" height="21" fill="#89acc9"/>
<rect x="297" y="574" width="22" height="21" fill="#86abc8"/>
<rect x="319" y="574" width="21" height="21" fill="#87adc8"/>
<rect x="340" y="574" width="22" height="21" fill="#87aec8"/>
<rect x="362" y="574" width="22" height="21" fill="#82abc6"/>
<rect x="384" y="574" width="22" height="21" fill="#72a0c0"/>
<rect x="406" y="574" width="21" height="21" fill="#5b95b9"/>
<rect x="427" y="574" width="22" height="21" fill="#4584af"/>
<rect x="449" y="574" width="22" height="21" fill="#3773a5"/>
<rect x="471" y="574" width="21" height="21" fill="#30669e"/>
<rect x="492" y="574" width="44" height="21" fill="#2d5f98"/>
<rect x="536" y="574" width="87" height="21" fill="#2d5c96"/>
<rect x="58" y="595" width="22" height="22" fill="#94a1c8"/>
<rect x="80" y="595" width="21" height="22" fill="#98a9ca"/>
<rect x="101" y="595" width="22" height="22" fill="#9fafcd"/>
<rect x="123" y="595" width="22" height="22" fill="#a2b3d0"/>
<rect x="145" y="595" width="21" height="22" fill="#a5b5d2"/>
<rect x="166" y="595" width="22" height="22" fill="#acbad7"/>
<rect x="188" y="595" width="22" height="22" fill="#b0c0d8"/>
<rect x="210" y="595" width="22" height="22" fill="#b7c5db"/>
<rect x="232" y="595" width="21" height="22" fill="#b8c6da"/>
<rect x="253" y="595" width="22" height="22" fill="#a3b9d2"/>
<rect x="275" y="595" width="22" height="22" fill="#7ba3c6"/>
<rect x="297" y="595" width="22" height="22" fill="#6a97bf"/>
<rect x="319" y="595" width="21" height="22" fill="#6998bc"/>
<rect x="340" y="595" width="22" height="22" fill="#6898bc"/>
<rect x="362" y="595" width="22" height="22" fill="#679cbb"/>
<rect x="384" y="595" width="22" height="22" fill="#5d95b6"/>
<rect x="406" y="595" width="21" height="22" fill="#4e89b2"/>
<rect x="427" y="595" width="22" height="22" fill="#3f7daa"/>
<rect x="449" y="595" width="22" height="22" fill="#3570a4"/>
<rect x="471" y="595" width="21" height="22" fill="#30649b"/>
<rect x="492" y="595" width="22" height="22" fill="#2d5d97"/>
<rect x="514" y="595" width="22" height="22" fill="#2d5c96"/>
<rect x="536" y="595" width="43" height="22" fill="#2b5994"/>
<rect x="579" y="595" width="44" height="22" fill="#2d5994"/>
<rect x="58" y="617" width="22" height="22" fill="#95a2c8"/>
<rect x="80" y="617" width="21" height="22" fill="#98a9ca"/>
<rect x="101" y="617" width="22" height="22" fill="#9eadca"/>
<rect x="123" y="617" width="22" height="22" fill="#a0b0cd"/>
<rect x="145" y="617" width="21" height="22" fill="#a3b4d0"/>
<rect x="166" y="617" width="22" height="22" fill="#b0bed7"/>
<rect x="188" y="617" width="22" height="22" fill="#c1cfe2"/>
<rect x="210" y="617" width="22" height="22" fill="#cbd9e7"/>
<rect x="232" y="617" width="21" height="22" fill="#c8d7e2"/>
<rect x="253" y="617" width="22" height="22" fill="#a8c0d4"/>
<rect x="275" y="617" width="22" height="22" fill="#749fc6"/>
<rect x="297" y="617" width="22" height="22" fill="#568fb7"/>
<rect x="319" y="617" width="43" height="22" fill="#4d88b2"/>
<rect x="362" y="617" width="22" height="22" fill="#4c87b0"/>
<rect x="384" y="617" width="22" height="22" fill="#4a84af"/>
<rect x="406" y="617" width="21" height="22" fill="#447fac"/>
<rect x="427" y="617" width="22" height="22" fill="#3b77a8"/>
<rect x="449" y="617" width="22" height="22" fill="#336da2"/>
<rect x="471" y="617" width="21" height="22" fill="#306299"/>
<rect x="492" y="617" width="44" height="22" fill="#2d5c96"/>
<rect x="536" y="617" width="43" height="22" fill="#2b5794"/>
<rect x="579" y="617" width="44" height="22" fill="#2d5794"/>
<rect x="58" y="639" width="22" height="21" fill="#96a4c6"/>
<rect x="80" y="639" width="21" height="21" fill="#9aa9c8"/>
<rect x="101" y="639" width="22" height="21" fill="#9dadca"/>
<rect x="123" y="639" width="22" height="21" fill="#9eaeca"/>
<rect x="145" y="639" width="21" height="21" fill="#a3b4ce"/>
<rect x="166" y="639" width="22" height="21" fill="#b2bfd7"/>
<rect x="188" y="639" width="22" height="21" fill="#c2d0e5"/>
<rect x="210" y="639" width="22" height="21" fill="#cbd9ea"/>
<rect x="232" y="639" width="21" height="21" fill="#c5d6e3"/>
<rect x="253" y="639" width="22" height="21" fill="#a3bfd3"/>
<rect x="275" y="639" width="22" height="21" fill="#6f9bc3"/>
<rect x="297" y="639" width="22" height="21" fill="#4682b0"/>
<rect x="319" y="639" width="21" height="21" fill="#3f7bab"/>
<rect x="340" y="639" width="22" height="21" fill="#3f7aaa"/>
<rect x="362" y="639" width="44" height="21" fill="#417aa8"/>
<rect x="406" y="639" width="21" height="21" fill="#3f79a8"/>
<rect x="427" y="639" width="22" height="21" fill="#3a75a5"/>
<rect x="449" y="639" width="22" height="21" fill="#336ba0"/>
<rect x="471" y="639" width="21" height="21" fill="#306198"/>
<rect x="492" y="639" width="22" height="21" fill="#2d5c96"/>
<rect x="514" y="639" width="22" height="21" fill="#2d5b95"/>
<rect x="536" y="639" width="22" height="21" fill="#2b5692"/>
<rect x="558" y="639" width="21" height="21" fill="#2b5591"/>
<rect x="579" y="639" width="44" height="21" fill="#2d5591"/>
<rect x="58" y="660" width="22" height="22" fill="#92a6c4"/>
<rect x="80" y="660" width="21" height="22" fill="#96a9c6"/>
<rect x="101" y="660" width="22" height="22" fill="#99abc8"/>
<rect x="123" y="660" width="22" height="22" fill="#9cadca"/>
<rect x="145" y="660" width="21" height="22" fill="#a5b5ce"/>
<rect x="166" y="660" width="22" height="22" fill="#b2c1d7"/>
<rect x="188" y="660" width="22" height="22" fill="#becee3"/>
<rect x="210" y="660" width="22" height="22" fill="#c3d3e6"/>
<rect x="232" y="660" width="21" height="22" fill="#b8d0de"/>
<rect x="253" y="660" width="22" height="22" fill="#96bace"/>
<rect x="275" y="660" width="22" height="22" fill="#6996be"/>
<rect x="297" y="660" width="22" height="22" fill="#407aac"/>
<rect x="319" y="660" width="21" height="22" fill="#3871a6"/>
<rect x="340" y="660" width="22" height="22" fill="#3771a5"/>
<rect x="362" y="660" width="22" height="22" fill="#366ea3"/>
<rect x="384" y="660" width="22" height="22" fill="#366ea2"/>
<rect x="406" y="660" width="21" height="22" fill="#3771a3"/>
<rect x="427" y="660" width="22" height="22" fill="#3772a4"/>
<rect x="449" y="660" width="22" height="22" fill="#33699e"/>
<rect x="471" y="660" width="21" height="22" fill="#305f98"/>
<rect x="492" y="660" width="22" height="22" fill="#2d5a94"/>
<rect x="514" y="660" width="22" height="22" fill="#2d5994"/>
<rect x="536" y="660" width="87" height="22" fill="#2b5591"/>
<rect x="58" y="682" width="22" height="22" fill="#93a7c5"/>
<rect x="80" y="682" width="21" height="22" fill="#97aac7"/>
<rect x="101" y="682" width="22" height="22" fill="#99acc9"/>
<rect x="123" y="682" width="22" height="22" fill="#9caecb"/>
<rect x="145" y="682" width="21" height="22" fill="#a6b6ce"/>
<rect x="166" y="682" width="22" height="22" fill="#b2c1d7"/>
<rect x="188" y="682" width="22" height="22" fill="#bdcde3"/>
<rect x="210" y="682" width="22" height="22" fill="#c1d2e5"/>
<rect x="232" y="682" width="21" height="22" fill="#b5cedc"/>
<rect x="253" y="682" width="22" height="22" fill="#94b8cd"/>
<rect x="275" y="682" width="22" height="22" fill="#6895bd"/>
<rect x="297" y="682" width="22" height="22" fill="#4079ab"/>
<rect x="319" y="682" width="21" height="22" fill="#3770a5"/>
<rect x="340" y="682" width="22" height="22" fill="#376fa4"/>
<rect x="362" y="682" width="44" height="22" fill="#356da2"/>
<rect x="406" y="682" width="21" height="22" fill="#3770a2"/>
<rect x="427" y="682" width="22" height="22" fill="#3671a4"/>
<rect x="449" y="682" width="22" height="22" fill="#33699e"/>
<rect x="471" y="682" width="21" height="22" fill="#305f98"/>
<rect x="492" y="682" width="44" height="22" fill="#2d5994"/>
<rect x="536" y="682" width="87" height="22" fill="#2b5591"/>
<rect x="58" y="704" width="22" height="22" fill="#9fb0cf"/>
<rect x="80" y="704" width="21" height="22" fill="#a2b3d0"/>
<rect x="101" y="704" width="22" height="22" fill="#a5b6d1"/>
<rect x="123" y="704" width="22" height="22" fill="#a7b9d2"/>
<rect x="145" y="704" width="21" height="22" fill="#abbbd2"/>
<rect x="166" y="704" width="22" height="22" fill="#b2c1d8"/>
<rect x="188" y="704" width="22" height="22" fill="#b8cae3"/>
<rect x="210" y="704" width="22" height="22" fill="#b3c9e0"/>
<rect x="232" y="704" width="21" height="22" fill="#9dbed3"/>
<rect x="253" y="704" width="22" height="22" fill="#82abc8"/>
<rect x="275" y="704" width="22" height="22" fill="#5d92b7"/>
<rect x="297" y="704" width="22" height="22" fill="#3c76a9"/>
<rect x="319" y="704" width="21" height="22" fill="#346ca1"/>
<rect x="340" y="704" width="22" height="22" fill="#336ba0"/>
<rect x="362" y="704" width="44" height="22" fill="#31699e"/>
<rect x="406" y="704" width="43" height="22" fill="#336ba0"/>
<rect x="449" y="704" width="22" height="22" fill="#30669b"/>
<rect x="471" y="704" width="21" height="22" fill="#2e5f97"/>
<rect x="492" y="704" width="22" height="22" fill="#2b5894"/>
<rect x="514" y="704" width="109" height="22" fill="#2b5794"/>
<rect x="58" y="726" width="22" height="21" fill="#a1b3d2"/>
<rect x="80" y="726" width="21" height="21" fill="#a7b7d4"/>
<rect x="101" y="726" width="22" height="21" fill="#acbdd5"/>
<rect x="123" y="726" width="22" height="21" fill="#afc1d7"/>
<rect x="145" y="726" width="21" height="21" fill="#b2c1d7"/>
<rect x="166" y="726" width="22" height="21" fill="#b4c4da"/>
<rect x="188" y="726" width="22" height="21" fill="#b8cae3"/>
<rect x="210" y="726" width="22" height="21" fill="#b0c8e0"/>
<rect x="232" y="726" width="21" height="21" fill="#97bad2"/>
<rect x="253" y="726" width="22" height="21" fill="#7ca5c5"/>
<rect x="275" y="726" width="22" height="21" fill="#598fb5"/>
<rect x="297" y="726" width="22" height="21" fill="#3c76a8"/>
<rect x="319" y="726" width="21" height="21" fill="#346ca1"/>
<rect x="340" y="726" width="22" height="21" fill="#336ba0"/>
<rect x="362" y="726" width="44" height="21" fill="#30699e"/>
<rect x="406" y="726" width="21" height="21" fill="#336b9e"/>
<rect x="427" y="726" width="22" height="21" fill="#336a9e"/>
<rect x="449" y="726" width="22" height="21" fill="#30649b"/>
<rect x="471" y="726" width="21" height="21" fill="#2f629a"/>
<rect x="492" y="726" width="22" height="21" fill="#2b5895"/>
<rect x="514" y="726" width="109" height="21" fill="#2b5794"/>
<rect x="58" y="747" width="22" height="22" fill="#a0b3d2"/>
<rect x="80" y="747" width="21" height="22" fill="#aabcd6"/>
<rect x="101" y="747" width="22" height="22" fill="#b4c5d9"/>
<rect x="123" y="747" width="43" height="22" fill="#b8c8db"/>
<rect x="166" y="747" width="22" height="22" fill="#b8c8dc"/>
<rect x="188" y="747" width="22" height="22" fill="#b6cae0"/>
<rect x="210" y="747" width="22" height="22" fill="#adc7dd"/>
<rect x="232" y="747" width="21" height="22" fill="#95b9d1"/>
<rect x="253" y="747" width="22" height="22" fill="#78a2c3"/>
<rect x="275" y="747" width="22" height="22" fill="#588eb4"/>
<rect x="297" y="747" width="22" height="22" fill="#3c76a8"/>
<rect x="319" y="747" width="21" height="22" fill="#346ca1"/>
<rect x="340" y="747" width="22" height="22" fill="#336ba0"/>
<rect x="362" y="747" width="44" height="22" fill="#30699e"/>
<rect x="406" y="747" width="43" height="22" fill="#336b9e"/>
<rect x="449" y="747" width="22" height="22" fill="#30649b"/>
<rect x="471" y="747" width="21" height="22" fill="#30629a"/>
<rect x="492" y="747" width="22" height="22" fill="#2b5895"/>
<rect x="514" y="747" width="109" height="22" fill="#2b5794"/>
<rect x="58" y="769" width="22" height="22" fill="#9baece"/>
<rect x="80" y="769" width="21" height="22" fill="#a4b9d4"/>
<rect x="101" y="769" width="22" height="22" fill="#b0c3d9"/>
<rect x="123" y="769" width="22" height="22" fill="#b5c8db"/>
<rect x="145" y="769" width="21" height="22" fill="#b3c6da"/>
<rect x="166" y="769" width="22" height="22" fill="#aac1d7"/>
<rect x="188" y="769" width="22" height="22" fill="#a0bcd4"/>
<rect x="210" y="769" width="22" height="22" fill="#99b9d2"/>
<rect x="232" y="769" width="21" height="22" fill="#89b0cc"/>
<rect x="253" y="769" width="22" height="22" fill="#719ebf"/>
<rect x="275" y="769" width="22" height="22" fill="#578eb4"/>
<rect x="297" y="769" width="22" height="22" fill="#3e7baa"/>
<rect x="319" y="769" width="21" height="22" fill="#3571a5"/>
<rect x="340" y="769" width="22" height="22" fill="#3570a5"/>
<rect x="362" y="769" width="44" height="22" fill="#336da2"/>
<rect x="406" y="769" width="21" height="22" fill="#356da0"/>
<rect x="427" y="769" width="22" height="22" fill="#356ca0"/>
<rect x="449" y="769" width="22" height="22" fill="#31649b"/>
<rect x="471" y="769" width="21" height="22" fill="#30629a"/>
<rect x="492" y="769" width="22" height="22" fill="#2b5895"/>
<rect x="514" y="769" width="109" height="22" fill="#2b5794"/>
<rect x="58" y="791" width="22" height="21" fill="#8ea2c7"/>
<rect x="80" y="791" width="21" height="21" fill="#96abcd"/>
<rect x="101" y="791" width="22" height="21" fill="#a2b7d2"/>
<rect x="123" y="791" width="22" height="21" fill="#a9bed6"/>
<rect x="145" y="791" width="21" height="21" fill="#a8c0d6"/>
<rect x="166" y="791" width="22" height="21" fill="#9ab6d2"/>
<rect x="188" y="791" width="22" height="21" fill="#80a4c9"/>
<rect x="210" y="791" width="22" height="21" fill="#749cc4"/>
<rect x="232" y="791" width="21" height="21" fill="#6695bd"/>
<rect x="253" y="791" width="22" height="21" fill="#5a92b5"/>
<rect x="275" y="791" width="22" height="21" fill="#4e89b0"/>
<rect x="297" y="791" width="22" height="21" fill="#3e7dac"/>
<rect x="319" y="791" width="21" height="21" fill="#3674a8"/>
<rect x="340" y="791" width="22" height="21" fill="#3573a8"/>
<rect x="362" y="791" width="44" height="21" fill="#3573a5"/>
<rect x="406" y="791" width="21" height="21" fill="#3770a2"/>
<rect x="427" y="791" width="22" height="21" fill="#376fa2"/>
<rect x="449" y="791" width="22" height="21" fill="#33649c"/>
<rect x="471" y="791" width="21" height="21" fill="#32629a"/>
<rect x="492" y="791" width="22" height="21" fill="#2c5895"/>
<rect x="514" y="791" width="109" height="21" fill="#2b5794"/>
<rect x="58" y="812" width="22" height="22" fill="#8399bf"/>
<rect x="80" y="812" width="21" height="22" fill="#88a0c3"/>
<rect x="101" y="812" width="22" height="22" fill="#92a9c8"/>
<rect x="123" y="812" width="22" height="22" fill="#9ab2cf"/>
<rect x="145" y="812" width="21" height="22" fill="#9ab4d0"/>
<rect x="166" y="812" width="22" height="22" fill="#8baccc"/>
<rect x="188" y="812" width="22" height="22" fill="#6c98c4"/>
<rect x="210" y="812" width="22" height="22" fill="#6499be"/>
<rect x="232" y="812" width="21" height="22" fill="#5992b7"/>
<rect x="253" y="812" width="22" height="22" fill="#4d8ab0"/>
<rect x="275" y="812" width="22" height="22" fill="#4787af"/>
<rect x="297" y="812" width="22" height="22" fill="#3f81ac"/>
<rect x="319" y="812" width="21" height="22" fill="#3b7baa"/>
<rect x="340" y="812" width="66" height="22" fill="#3a7aaa"/>
<rect x="406" y="812" width="21" height="22" fill="#3a74a5"/>
<rect x="427" y="812" width="22" height="22" fill="#3a72a4"/>
<rect x="449" y="812" width="22" height="22" fill="#34649c"/>
<rect x="471" y="812" width="21" height="22" fill="#33629b"/>
<rect x="492" y="812" width="22" height="22" fill="#2c5895"/>
<rect x="514" y="812" width="109" height="22" fill="#2b5794"/>
<rect x="58" y="834" width="22" height="22" fill="#8096bb"/>
<rect x="80" y="834" width="21" height="22" fill="#8398be"/>
<rect x="101" y="834" width="22" height="22" fill="#879ec0"/>
<rect x="123" y="834" width="22" height="22" fill="#8aa3c3"/>
<rect x="145" y="834" width="21" height="22" fill="#8ba5c6"/>
<rect x="166" y="834" width="22" height="22" fill="#80a2c6"/>
<rect x="188" y="834" width="22" height="22" fill="#6b97c1"/>
<rect x="210" y="834" width="22" height="22" fill="#6195be"/>
<rect x="232" y="834" width="21" height="22" fill="#5990b7"/>
<rect x="253" y="834" width="22" height="22" fill="#4e89b3"/>
<rect x="275" y="834" width="22" height="22" fill="#4886b2"/>
<rect x="297" y="834" width="22" height="22" fill="#4382af"/>
<rect x="319" y="834" width="21" height="22" fill="#417fad"/>
<rect x="340" y="834" width="22" height="22" fill="#4280ad"/>
<rect x="362" y="834" width="22" height="22" fill="#4582b0"/>
<rect x="384" y="834" width="22" height="22" fill="#4481af"/>
<rect x="406" y="834" width="21" height="22" fill="#3f76a9"/>
<rect x="427" y="834" width="22" height="22" fill="#3d72a7"/>
<rect x="449" y="834" width="22" height="22" fill="#34649f"/>
<rect x="471" y="834" width="21" height="22" fill="#33629d"/>
<rect x="492" y="834" width="22" height="22" fill="#2a5595"/>
<rect x="514" y="834" width="109" height="22" fill="#2a5494"/>
<rect x="58" y="856" width="22" height="21" fill="#778db3"/>
<rect x="80" y="856" width="21" height="21" fill="#798fb5"/>
<rect x="101" y="856" width="22" height="21" fill="#7d95b9"/>
<rect x="123" y="856" width="22" height="21" fill="#8199bc"/>
<rect x="145" y="856" width="21" height="21" fill="#839dbf"/>
<rect x="166" y="856" width="22" height="21" fill="#809fc1"/>
<rect x="188" y="856" width="22" height="21" fill="#789ec3"/>
<rect x="210" y="856" width="22" height="21" fill="#6b99c0"/>
<rect x="232" y="856" width="21" height="21" fill="#6298bc"/>
<rect x="253" y="856" width="22" height="21" fill="#5892b9"/>
<rect x="275" y="856" width="22" height="21" fill="#5390b7"/>
<rect x="297" y="856" width="22" height="21" fill="#5290b6"/>
<rect x="319" y="856" width="21" height="21" fill="#5592b9"/>
<rect x="340" y="856" width="22" height="21" fill="#609dbd"/>
<rect x="362" y="856" width="22" height="21" fill="#6ba0bf"/>
<rect x="384" y="856" width="22" height="21" fill="#6799bb"/>
<rect x="406" y="856" width="21" height="21" fill="#5688b2"/>
<rect x="427" y="856" width="22" height="21" fill="#4779aa"/>
<rect x="449" y="856" width="22" height="21" fill="#3769a1"/>
<rect x="471" y="856" width="21" height="21" fill="#35669f"/>
<rect x="492" y="856" width="22" height="21" fill="#2b5595"/>
<rect x="514" y="856" width="109" height="21" fill="#2a5494"/>
<rect x="58" y="877" width="22" height="22" fill="#7388af"/>
<rect x="80" y="877" width="21" height="22" fill="#7488b0"/>
<rect x="101" y="877" width="22" height="22" fill="#7a91b6"/>
<rect x="123" y="877" width="22" height="22" fill="#8298bc"/>
<rect x="145" y="877" width="21" height="22" fill="#899fc0"/>
<rect x="166" y="877" width="22" height="22" fill="#8ba2c3"/>
<rect x="188" y="877" width="22" height="22" fill="#8ca6c6"/>
<rect x="210" y="877" width="22" height="22" fill="#85a4c5"/>
<rect x="232" y="877" width="21" height="22" fill="#7ba3c3"/>
<rect x="253" y="877" width="22" height="22" fill="#6e9ec0"/>
<rect x="275" y="877" width="44" height="22" fill="#699bbe"/>
<rect x="319" y="877" width="21" height="22" fill="#6ea0c1"/>
<rect x="340" y="877" width="22" height="22" fill="#7dacc8"/>
<rect x="362" y="877" width="22" height="22" fill="#8ab3cc"/>
<rect x="384" y="877" width="22" height="22" fill="#7facc7"/>
<rect x="406" y="877" width="21" height="22" fill="#6594b9"/>
<rect x="427" y="877" width="22" height="22" fill="#4b7dac"/>
<rect x="449" y="877" width="22" height="22" fill="#386aa3"/>
<rect x="471" y="877" width="21" height="22" fill="#3667a1"/>
<rect x="492" y="877" width="22" height="22" fill="#2b5697"/>
<rect x="514" y="877" width="87" height="22" fill="#2a5596"/>
<rect x="601" y="877" width="22" height="22" fill="#2a5496"/>
<rect x="58" y="899" width="22" height="22" fill="#7187ac"/>
<rect x="80" y="899" width="21" height="22" fill="#7188ad"/>
<rect x="101" y="899" width="22" height="22" fill="#798fb4"/>
<rect x="123" y="899" width="22" height="22" fill="#8198bc"/>
<rect x="145" y="899" width="21" height="22" fill="#899fc2"/>
<rect x="166" y="899" width="22" height="22" fill="#8ba0c5"/>
<rect x="188" y="899" width="22" height="22" fill="#8da2c6"/>
<rect x="210" y="899" width="22" height="22" fill="#8ca5c6"/>
<rect x="232" y="899" width="21" height="22" fill="#87a7c6"/>
<rect x="253" y="899" width="22" height="22" fill="#7ea5c3"/>
<rect x="275" y="899" width="22" height="22" fill="#7aa6c3"/>
<rect x="297" y="899" width="22" height="22" fill="#80acc8"/>
<rect x="319" y="899" width="21" height="22" fill="#8cb8d1"/>
<rect x="340" y="899" width="22" height="22" fill="#9ec4d9"/>
<rect x="362" y="899" width="22" height="22" fill="#a2c6d9"/>
<rect x="384" y="899" width="22" height="22" fill="#8db6cd"/>
<rect x="406" y="899" width="21" height="22" fill="#75a2bf"/>
<rect x="427" y="899" width="22" height="22" fill="#5182b0"/>
<rect x="449" y="899" width="22" height="22" fill="#396ba6"/>
<rect x="471" y="899" width="21" height="22" fill="#3667a4"/>
<rect x="492" y="899" width="22" height="22" fill="#2b599b"/>
<rect x="514" y="899" width="22" height="22" fill="#2a589b"/>
<rect x="536" y="899" width="87" height="22" fill="#28559b"/>
<rect x="58" y="921" width="22" height="22" fill="#748aae"/>
<rect x="80" y="921" width="21" height="22" fill="#768db1"/>
<rect x="101" y="921" width="22" height="22" fill="#7b93b7"/>
<rect x="123" y="921" width="22" height="22" fill="#7d95b9"/>
<rect x="145" y="921" width="21" height="22" fill="#8198be"/>
<rect x="166" y="921" width="22" height="22" fill="#8299bf"/>
<rect x="188" y="921" width="22" height="22" fill="#869cc1"/>
<rect x="210" y="921" width="22" height="22" fill="#93a4c3"/>
<rect x="232" y="921" width="21" height="22" fill="#95a8c6"/>
<rect x="253" y="921" width="22" height="22" fill="#92acc8"/>
<rect x="275" y="921" width="22" height="22" fill="#90afc8"/>
<rect x="297" y="921" width="22" height="22" fill="#98b9ce"/>
<rect x="319" y="921" width="21" height="22" fill="#a8c7d8"/>
<rect x="340" y="921" width="22" height="22" fill="#b6d2e5"/>
<rect x="362" y="921" width="22" height="22" fill="#b4d1e5"/>
<rect x="384" y="921" width="22" height="22" fill="#99bed4"/>
<rect x="406" y="921" width="21" height="22" fill="#7ba4c2"/>
<rect x="427" y="921" width="22" height="22" fill="#5084b4"/>
<rect x="449" y="921" width="22" height="22" fill="#376ba6"/>
<rect x="471" y="921" width="21" height="22" fill="#3163a1"/>
<rect x="492" y="921" width="22" height="22" fill="#2b5b9d"/>
<rect x="514" y="921" width="22" height="22" fill="#2a5a9c"/>
<rect x="536" y="921" width="22" height="22" fill="#28579c"/>
<rect x="558" y="921" width="21" height="22" fill="#28569c"/>
<rect x="579" y="921" width="44" height="22" fill="#28569e"/>
<rect x="58" y="943" width="22" height="21" fill="#758aaf"/>
<rect x="80" y="943" width="21" height="21" fill="#768bb0"/>
<rect x="101" y="943" width="22" height="21" fill="#7a93b6"/>
<rect x="123" y="943" width="22" height="21" fill="#7a94b7"/>
<rect x="145" y="943" width="21" height="21" fill="#8098be"/>
<rect x="166" y="943" width="22" height="21" fill="#8199bf"/>
<rect x="188" y="943" width="22" height="21" fill="#849cc0"/>
<rect x="210" y="943" width="22" height="21" fill="#91a2c3"/>
<rect x="232" y="943" width="21" height="21" fill="#99aac8"/>
<rect x="253" y="943" width="22" height="21" fill="#98aeca"/>
<rect x="275" y="943" width="22" height="21" fill="#97b2ca"/>
<rect x="297" y="943" width="22" height="21" fill="#a0bcd0"/>
<rect x="319" y="943" width="21" height="21" fill="#aec7d7"/>
<rect x="340" y="943" width="22" height="21" fill="#bad1e2"/>
<rect x="362" y="943" width="22" height="21" fill="#b1cee2"/>
<rect x="384" y="943" width="22" height="21" fill="#95bbd3"/>
<rect x="406" y="943" width="21" height="21" fill="#7aa3c0"/>
<rect x="427" y="943" width="22" height="21" fill="#4e83b4"/>
<rect x="449" y="943" width="22" height="21" fill="#366da6"/>
<rect x="471" y="943" width="21" height="21" fill="#3066a2"/>
<rect x="492" y="943" width="22" height="21" fill="#2d60a0"/>
<rect x="514" y="943" width="22" height="21" fill="#2d5fa0"/>
<rect x="536" y="943" width="22" height="21" fill="#2a5b9f"/>
<rect x="558" y="943" width="21" height="21" fill="#2a5a9f"/>
<rect x="579" y="943" width="22" height="21" fill="#2a59a0"/>
<rect x="601" y="943" width="22" height="21" fill="#2a58a1"/>
<rect x="58" y="964" width="22" height="22" fill="#7087af"/>
<rect x="80" y="964" width="21" height="22" fill="#7188b0"/>
<rect x="101" y="964" width="22" height="22" fill="#7590b5"/>
<rect x="123" y="964" width="22" height="22" fill="#7791b7"/>
<rect x="145" y="964" width="21" height="22" fill="#7f98bf"/>
<rect x="166" y="964" width="22" height="22" fill="#869ec2"/>
<rect x="188" y="964" width="22" height="22" fill="#87a0c3"/>
<rect x="210" y="964" width="22" height="22" fill="#91a5c6"/>
<rect x="232" y="964" width="21" height="22" fill="#98aac8"/>
<rect x="253" y="964" width="22" height="22" fill="#96acca"/>
<rect x="275" y="964" width="22" height="22" fill="#97b0ca"/>
<rect x="297" y="964" width="22" height="22" fill="#9eb9cd"/>
<rect x="319" y="964" width="21" height="22" fill="#a5c0d2"/>
<rect x="340" y="964" width="22" height="22" fill="#a1c0d7"/>
<rect x="362" y="964" width="22" height="22" fill="#96bbd4"/>
<rect x="384" y="964" width="22" height="22" fill="#7fabc9"/>
<rect x="406" y="964" width="21" height="22" fill="#6d9bbd"/>
<rect x="427" y="964" width="22" height="22" fill="#5086b4"/>
<rect x="449" y="964" width="22" height="22" fill="#3871a9"/>
<rect x="471" y="964" width="21" height="22" fill="#3069a5"/>
<rect x="492" y="964" width="44" height="22" fill="#2d64a5"/>
<rect x="536" y="964" width="22" height="22" fill="#2a62a7"/>
<rect x="558" y="964" width="21" height="22" fill="#2a61a8"/>
<rect x="579" y="964" width="44" height="22" fill="#2a5fa8"/>
<rect x="58" y="986" width="22" height="22" fill="#6c84af"/>
<rect x="80" y="986" width="21" height="22" fill="#6c85af"/>
<rect x="101" y="986" width="22" height="22" fill="#708bb3"/>
<rect x="123" y="986" width="22" height="22" fill="#718db4"/>
<rect x="145" y="986" width="21" height="22" fill="#7a93bb"/>
<rect x="166" y="986" width="22" height="22" fill="#829abf"/>
<rect x="188" y="986" width="22" height="22" fill="#88a0c5"/>
<rect x="210" y="986" width="22" height="22" fill="#93a7c7"/>
<rect x="232" y="986" width="21" height="22" fill="#9aabca"/>
<rect x="253" y="986" width="22" height="22" fill="#98acca"/>
<rect x="275" y="986" width="22" height="22" fill="#99adcd"/>
<rect x="297" y="986" width="22" height="22" fill="#a0b8ce"/>
<rect x="319" y="986" width="21" height="22" fill="#a2bcd0"/>
<rect x="340" y="986" width="22" height="22" fill="#92b5d0"/>
<rect x="362" y="986" width="22" height="22" fill="#83adca"/>
<rect x="384" y="986" width="22" height="22" fill="#72a1c3"/>
<rect x="406" y="986" width="21" height="22" fill="#6496bc"/>
<rect x="427" y="986" width="22" height="22" fill="#4c87b4"/>
<rect x="449" y="986" width="22" height="22" fill="#3874ab"/>
<rect x="471" y="986" width="21" height="22" fill="#306ea8"/>
<rect x="492" y="986" width="44" height="22" fill="#2d69aa"/>
<rect x="536" y="986" width="43" height="22" fill="#2a66ac"/>
<rect x="579" y="986" width="44" height="22" fill="#2a64ac"/>
<rect x="58" y="1008" width="43" height="21" fill="#6982ac"/>
<rect x="101" y="1008" width="22" height="21" fill="#6a85ad"/>
<rect x="123" y="1008" width="22" height="21" fill="#6e87ad"/>
<rect x="145" y="1008" width="21" height="21" fill="#768bb0"/>
<rect x="166" y="1008" width="22" height="21" fill="#7e8eb4"/>
<rect x="188" y="1008" width="22" height="21" fill="#8798bd"/>
<rect x="210" y="1008" width="22" height="21" fill="#94a2c3"/>
<rect x="232" y="1008" width="21" height="21" fill="#9aaac8"/>
<rect x="253" y="1008" width="22" height="21" fill="#9baccd"/>
<rect x="275" y="1008" width="22" height="21" fill="#9eadd0"/>
<rect x="297" y="1008" width="22" height="21" fill="#a3b5d1"/>
<rect x="319" y="1008" width="21" height="21" fill="#9bb6cd"/>
<rect x="340" y="1008" width="22" height="21" fill="#8dafca"/>
<rect x="362" y="1008" width="22" height="21" fill="#80a8c6"/>
<rect x="384" y="1008" width="22" height="21" fill="#73a0c0"/>
<rect x="406" y="1008" width="21" height="21" fill="#6396bc"/>
<rect x="427" y="1008" width="22" height="21" fill="#4b87b4"/>
<rect x="449" y="1008" width="22" height="21" fill="#3874ac"/>
<rect x="471" y="1008" width="21" height="21" fill="#326ea9"/>
<rect x="492" y="1008" width="44" height="21" fill="#306cac"/>
<rect x="536" y="1008" width="22" height="21" fill="#2d6cb1"/>
<rect x="558" y="1008" width="21" height="21" fill="#2d6bb2"/>
<rect x="579" y="1008" width="22" height="21" fill="#2a69b2"/>
<rect x="601" y="1008" width="22" height="21" fill="#2a68b1"/>
<rect x="58" y="1029" width="22" height="22" fill="#6982ac"/>
<rect x="80" y="1029" width="21" height="22" fill="#6983ac"/>
<rect x="101" y="1029" width="22" height="22" fill="#6a85ac"/>
<rect x="123" y="1029" width="22" height="22" fill="#6f88ad"/>
<rect x="145" y="1029" width="21" height="22" fill="#778aaf"/>
<rect x="166" y="1029" width="22" height="22" fill="#7e8eb3"/>
<rect x="188" y="1029" width="22" height="22" fill="#8898bc"/>
<rect x="210" y="1029" width="22" height="22" fill="#94a2c3"/>
<rect x="232" y="1029" width="21" height="22" fill="#9aa9c8"/>
<rect x="253" y="1029" width="22" height="22" fill="#9baccd"/>
<rect x="275" y="1029" width="22" height="22" fill="#9eadd0"/>
<rect x="297" y="1029" width="22" height="22" fill="#a3b5d1"/>
<rect x="319" y="1029" width="21" height="22" fill="#9ab5cd"/>
<rect x="340" y="1029" width="22" height="22" fill="#8dafca"/>
<rect x="362" y="1029" width="22" height="22" fill="#83a9c6"/>
<rect x="384" y="1029" width="22" height="22" fill="#76a2c1"/>
<rect x="406" y="1029" width="21" height="22" fill="#6697bc"/>
<rect x="427" y="1029" width="22" height="22" fill="#4e88b5"/>
<rect x="449" y="1029" width="22" height="22" fill="#3975ad"/>
<rect x="471" y="1029" width="21" height="22" fill="#326ea9"/>
<rect x="492" y="1029" width="44" height="22" fill="#306cac"/>
<rect x="536" y="1029" width="43" height="22" fill="#2d6cb2"/>
<rect x="579" y="1029" width="44" height="22" fill="#2a69b2"/>
<rect x="58" y="1051" width="22" height="22" fill="#6c86ac"/>
<rect x="80" y="1051" width="21" height="22" fill="#6e87ac"/>
<rect x="101" y="1051" width="22" height="22" fill="#738aaf"/>
<rect x="123" y="1051" width="22" height="22" fill="#798eb1"/>
<rect x="145" y="1051" width="21" height="22" fill="#8091b4"/>
<rect x="166" y="1051" width="22" height="22" fill="#8695b9"/>
<rect x="188" y="1051" width="22" height="22" fill="#8c9bbe"/>
<rect x="210" y="1051" width="22" height="22" fill="#94a2c3"/>
<rect x="232" y="1051" width="21" height="22" fill="#98a8c8"/>
<rect x="253" y="1051" width="22" height="22" fill="#9cadcd"/>
<rect x="275" y="1051" width="22" height="22" fill="#9fb1d0"/>
<rect x="297" y="1051" width="22" height="22" fill="#9eb2cd"/>
<rect x="319" y="1051" width="21" height="22" fill="#97adc7"/>
<rect x="340" y="1051" width="22" height="22" fill="#95acc7"/>
<rect x="362" y="1051" width="22" height="22" fill="#a2b7cc"/>
<rect x="384" y="1051" width="22" height="22" fill="#9eb7ca"/>
<rect x="406" y="1051" width="21" height="22" fill="#85a9c5"/>
<rect x="427" y="1051" width="22" height="22" fill="#6796bd"/>
<rect x="449" y="1051" width="22" height="22" fill="#467eb2"/>
<rect x="471" y="1051" width="21" height="22" fill="#3470a9"/>
<rect x="492" y="1051" width="22" height="22" fill="#306eac"/>
<rect x="514" y="1051" width="22" height="22" fill="#306ead"/>
<rect x="536" y="1051" width="22" height="22" fill="#2d6eb3"/>
<rect x="558" y="1051" width="21" height="22" fill="#2d6eb4"/>
<rect x="579" y="1051" width="44" height="22" fill="#2a6cb4"/>
<rect x="58" y="1073" width="22" height="21" fill="#6c87ac"/>
<rect x="80" y="1073" width="21" height="21" fill="#6d87ac"/>
<rect x="101" y="1073" width="22" height="21" fill="#768aaf"/>
<rect x="123" y="1073" width="22" height="21" fill="#7f90b2"/>
<rect x="145" y="1073" width="21" height="21" fill="#8794b6"/>
<rect x="166" y="1073" width="22" height="21" fill="#8c98bc"/>
<rect x="188" y="1073" width="22" height="21" fill="#8f9ec0"/>
<rect x="210" y="1073" width="22" height="21" fill="#96a3c6"/>
<rect x="232" y="1073" width="21" height="21" fill="#9caacd"/>
<rect x="253" y="1073" width="22" height="21" fill="#a0b2d1"/>
<rect x="275" y="1073" width="22" height="21" fill="#a2b6d2"/>
<rect x="297" y="1073" width="22" height="21" fill="#9eb2cd"/>
<rect x="319" y="1073" width="21" height="21" fill="#96acc8"/>
<rect x="340" y="1073" width="22" height="21" fill="#99aec9"/>
<rect x="362" y="1073" width="22" height="21" fill="#b1c1d0"/>
<rect x="384" y="1073" width="22" height="21" fill="#adc0d0"/>
<rect x="406" y="1073" width="21" height="21" fill="#94b4cc"/>
<rect x="427" y="1073" width="22" height="21" fill="#6c9ec3"/>
<rect x="449" y="1073" width="22" height="21" fill="#4983b7"/>
<rect x="471" y="1073" width="21" height="21" fill="#3574ae"/>
<rect x="492" y="1073" width="22" height="21" fill="#3071af"/>
<rect x="514" y="1073" width="22" height="21" fill="#3071b0"/>
<rect x="536" y="1073" width="43" height="21" fill="#2d70b6"/>
<rect x="579" y="1073" width="44" height="21" fill="#2a6eb6"/>
<rect x="101" y="1094" width="22" height="22" fill="#798bad"/>
<rect x="123" y="1094" width="22" height="22" fill="#8291b2"/>
<rect x="145" y="1094" width="21" height="22" fill="#8996b8"/>
<rect x="166" y="1094" width="22" height="22" fill="#8e98bc"/>
<rect x="188" y="1094" width="22" height="22" fill="#949ec2"/>
<rect x="210" y="1094" width="22" height="22" fill="#9fa4c8"/>
<rect x="232" y="1094" width="21" height="22" fill="#a4b1d1"/>
<rect x="253" y="1094" width="22" height="22" fill="#a7b8d4"/>
<rect x="275" y="1094" width="22" height="22" fill="#a7bbd3"/>
<rect x="297" y="1094" width="22" height="22" fill="#a5b8d0"/>
<rect x="319" y="1094" width="21" height="22" fill="#a4b4d1"/>
<rect x="340" y="1094" width="22" height="22" fill="#aab7d6"/>
<rect x="362" y="1094" width="22" height="22" fill="#bcc8df"/>
<rect x="384" y="1094" width="22" height="22" fill="#b6c7dd"/>
<rect x="406" y="1094" width="21" height="22" fill="#96b8d2"/>
<rect x="427" y="1094" width="22" height="22" fill="#6ea2c8"/>
<rect x="449" y="1094" width="22" height="22" fill="#498abe"/>
<rect x="471" y="1094" width="21" height="22" fill="#357db9"/>
<rect x="492" y="1094" width="44" height="22" fill="#307ab9"/>
<rect x="536" y="1094" width="22" height="22" fill="#2e76bc"/>
<rect x="558" y="1094" width="21" height="22" fill="#2d76bc"/>
<rect x="579" y="1094" width="22" height="22" fill="#2a71b9"/>
<rect x="601" y="1094" width="22" height="22" fill="#2a70b9"/>
<rect x="210" y="1116" width="22" height="22" fill="#a59cc6"/>
<rect x="232" y="1116" width="21" height="22" fill="#a7aed0"/>
<rect x="253" y="1116" width="22" height="22" fill="#a6b8d2"/>
<rect x="275" y="1116" width="22" height="22" fill="#a5bbd1"/>
<rect x="297" y="1116" width="22" height="22" fill="#a5b9d2"/>
<rect x="319" y="1116" width="21" height="22" fill="#a5b5d2"/>
<rect x="340" y="1116" width="22" height="22" fill="#abb8d8"/>
<rect x="362" y="1116" width="22" height="22" fill="#becbe4"/>
<rect x="384" y="1116" width="22" height="22" fill="#b9cce3"/>
<rect x="406" y="1116" width="21" height="22" fill="#96bbd4"/>
<rect x="427" y="1116" width="22" height="22" fill="#6ca2c9"/>
<rect x="449" y="1116" width="22" height="22" fill="#478dc4"/>
<rect x="471" y="1116" width="21" height="22" fill="#3584c4"/>
<rect x="492" y="1116" width="22" height="22" fill="#3283c6"/>
<rect x="514" y="1116" width="22" height="22" fill="#3282c6"/>
<rect x="536" y="1116" width="22" height="22" fill="#317dc3"/>
<rect x="558" y="1116" width="21" height="22" fill="#317cc2"/>
<rect x="579" y="1116" width="44" height="22" fill="#2d76be"/>
<rect x="319" y="1138" width="21" height="22" fill="#a6b5d3"/>
<rect x="340" y="1138" width="22" height="22" fill="#adbada"/>
<rect x="362" y="1138" width="22" height="22" fill="#becbe6"/>
<rect x="384" y="1138" width="22" height="22" fill="#bacee4"/>
<rect x="406" y="1138" width="21" height="22" fill="#94bcd7"/>
<rect x="427" y="1138" width="22" height="22" fill="#5b9dcf"/>
<rect x="449" y="1138" width="22" height="22" fill="#3e92d2"/>
<rect x="471" y="1138" width="21" height="22" fill="#3793d6"/>
<rect x="492" y="1138" width="22" height="22" fill="#3793d9"/>
<rect x="514" y="1138" width="22" height="22" fill="#3691d7"/>
<rect x="536" y="1138" width="22" height="22" fill="#3183c9"/>
<rect x="558" y="1138" width="21" height="22" fill="#3081c8"/>
<rect x="579" y="1138" width="22" height="22" fill="#307bc3"/>
<rect x="601" y="1138" width="22" height="22" fill="#307ac3"/>
<rect x="427" y="1160" width="22" height="21" fill="#3f97da"/>
<rect x="449" y="1160" width="22" height="21" fill="#3a96db"/>
<rect x="471" y="1160" width="21" height="21" fill="#3a96dc"/>
<rect x="492" y="1160" width="22" height="21" fill="#3a96dd"/>
<rect x="514" y="1160" width="22" height="21" fill="#3994dc"/>
<rect x="536" y="1160" width="22" height="21" fill="#3185ce"/>
<rect x="558" y="1160" width="21" height="21" fill="#3083cc"/>
<rect x="579" y="1160" width="22" height="21" fill="#307dc6"/>
<rect x="601" y="1160" width="22" height="21" fill="#307cc6"/>
<rect x="536" y="1181" width="22" height="22" fill="#3084cd"/>
<rect x="558" y="1181" width="21" height="22" fill="#3083cc"/>
<rect x="579" y="1181" width="22" height="22" fill="#2d7bc5"/>
<rect x="601" y="1181" width="22" height="22" fill="#2d7ac4"/>
</g>
<g fill="#000"><circle cx="425.9" cy="64.5" r="1.6"/><circle cx="433.0" cy="86.5" r="1.6"/><circle cx="439.3" cy="94.4" r="1.6"/><circle cx="455.0" cy="107.5" r="1.6"/><circle cx="459.9" cy="112.4" r="1.6"/><circle cx="478.2" cy="129.5" r="1.6"/><circle cx="482.0" cy="133.3" r="1.6"/><circle cx="492.1" cy="151.6" r="1.6"/><circle cx="489.9" cy="172.5" r="1.6"/><circle cx="482.0" cy="183.7" r="1.6"/><circle cx="472.2" cy="194.6" r="1.6"/><circle cx="465.1" cy="216.6" r="1.6"/><circle cx="466.2" cy="237.6" r="1.6"/><circle cx="464.3" cy="259.6" r="1.6"/><circle cx="459.9" cy="273.7" r="1.6"/><circle cx="459.1" cy="281.6" r="1.6"/><circle cx="455.0" cy="303.4" r="1.6"/><circle cx="454.0" cy="324.4" r="1.6"/><circle cx="453.1" cy="346.4" r="1.6"/><circle cx="455.0" cy="368.4" r="1.6"/><circle cx="460.2" cy="389.9" r="1.6"/><circle cx="468.9" cy="411.4" r="1.6"/><circle cx="467.3" cy="433.5" r="1.6"/><circle cx="459.9" cy="441.6" r="1.6"/><circle cx="449.1" cy="454.4" r="1.6"/><circle cx="438.4" cy="475.9" r="1.6"/><circle cx="432.2" cy="498.5" r="1.6"/><circle cx="423.2" cy="519.5" r="1.6"/><circle cx="416.9" cy="529.5" r="1.6"/><circle cx="410.1" cy="541.5" r="1.6"/><circle cx="400.4" cy="563.5" r="1.6"/><circle cx="395.2" cy="572.5" r="1.6"/><circle cx="383.2" cy="585.6" r="1.6"/><circle cx="374.2" cy="593.5" r="1.6"/><circle cx="352.5" cy="604.6" r="1.6"/><circle cx="339.4" cy="606.5" r="1.6"/><circle cx="330.1" cy="608.4" r="1.6"/><circle cx="308.9" cy="607.3" r="1.6"/><circle cx="293.1" cy="628.3" r="1.6"/><circle cx="287.4" cy="646.5" r="1.6"/><circle cx="285.0" cy="650.6" r="1.6"/><circle cx="280.4" cy="671.6" r="1.6"/><circle cx="276.3" cy="693.6" r="1.6"/><circle cx="276.3" cy="715.4" r="1.6"/><circle cx="272.2" cy="736.6" r="1.6"/><circle cx="267.0" cy="758.6" r="1.6"/><circle cx="265.1" cy="764.6" r="1.6"/><circle cx="260.2" cy="780.4" r="1.6"/><circle cx="243.9" cy="803.0" r="1.6"/><circle cx="222.4" cy="810.6" r="1.6"/><circle cx="200.4" cy="823.9" r="1.6"/><circle cx="205.0" cy="845.4" r="1.6"/><circle cx="222.4" cy="867.2" r="1.6"/><circle cx="243.1" cy="879.5" r="1.6"/><circle cx="264.6" cy="888.7" r="1.6"/><circle cx="287.2" cy="901.5" r="1.6"/><circle cx="308.9" cy="906.7" r="1.6"/><circle cx="330.1" cy="903.4" r="1.6"/><circle cx="352.2" cy="893.6" r="1.6"/><circle cx="359.3" cy="888.4" r="1.6"/><circle cx="374.2" cy="880.5" r="1.6"/><circle cx="394.9" cy="880.5" r="1.6"/><circle cx="414.2" cy="888.4" r="1.6"/><circle cx="416.9" cy="892.5" r="1.6"/><circle cx="430.0" cy="910.5" r="1.6"/><circle cx="436.3" cy="932.5" r="1.6"/><circle cx="431.1" cy="953.7" r="1.6"/><circle cx="416.9" cy="976.1" r="1.6"/><circle cx="408.2" cy="997.4" r="1.6"/><circle cx="403.1" cy="1018.6" r="1.6"/><circle cx="412.1" cy="1040.4" r="1.6"/><circle cx="416.9" cy="1046.4" r="1.6"/><circle cx="433.0" cy="1062.2" r="1.6"/><circle cx="439.3" cy="1073.6" r="1.6"/><circle cx="442.3" cy="1084.5" r="1.6"/><circle cx="444.2" cy="1105.7" r="1.6"/><circle cx="441.2" cy="1127.5" r="1.6"/></g>
<g id="p2" shape-rendering="crispEdges">
<rect x="916" y="53" width="22" height="22" fill="#708caf"/>
<rect x="938" y="53" width="22" height="22" fill="#833876"/>
<rect x="960" y="53" width="22" height="22" fill="#873c7a"/>
<rect x="982" y="53" width="21" height="22" fill="#883d7a"/>
<rect x="1003" y="53" width="22" height="22" fill="#853b78"/>
<rect x="1025" y="53" width="22" height="22" fill="#853a78"/>
<rect x="1047" y="53" width="21" height="22" fill="#813875"/>
<rect x="1068" y="53" width="22" height="22" fill="#813775"/>
<rect x="1090" y="53" width="22" height="22" fill="#833975"/>
<rect x="1112" y="53" width="22" height="22" fill="#893f7b"/>
<rect x="1134" y="53" width="21" height="22" fill="#8f437f"/>
<rect x="1155" y="53" width="22" height="22" fill="#974985"/>
<rect x="1177" y="53" width="22" height="22" fill="#a0518b"/>
<rect x="1199" y="53" width="22" height="22" fill="#a3558c"/>
<rect x="1221" y="53" width="21" height="22" fill="#a2558a"/>
<rect x="1242" y="53" width="22" height="22" fill="#994f86"/>
<rect x="1264" y="53" width="217" height="22" fill="#562496"/>
<rect x="916" y="75" width="22" height="21" fill="#833876"/>
<rect x="938" y="75" width="22" height="21" fill="#833976"/>
<rect x="960" y="75" width="22" height="21" fill="#873d7a"/>
<rect x="982" y="75" width="21" height="21" fill="#883d7a"/>
<rect x="1003" y="75" width="22" height="21" fill="#853b78"/>
<rect x="1025" y="75" width="22" height="21" fill="#853a78"/>
<rect x="1047" y="75" width="21" height="21" fill="#813875"/>
<rect x="1068" y="75" width="22" height="21" fill="#813775"/>
<rect x="1090" y="75" width="22" height="21" fill="#833875"/>
<rect x="1112" y="75" width="22" height="21" fill="#8a3f7b"/>
<rect x="1134" y="75" width="21" height="21" fill="#8f437f"/>
<rect x="1155" y="75" width="22" height="21" fill="#974985"/>
<rect x="1177" y="75" width="22" height="21" fill="#a0518b"/>
<rect x="1199" y="75" width="22" height="21" fill="#a3548c"/>
<rect x="1221" y="75" width="21" height="21" fill="#a2558a"/>
<rect x="1242" y="75" width="22" height="21" fill="#994f86"/>
<rect x="1264" y="75" width="217" height="21" fill="#562496"/>
<rect x="916" y="96" width="44" height="22" fill="#843a78"/>
<rect x="960" y="96" width="43" height="22" fill="#883e7b"/>
<rect x="1003" y="96" width="22" height="22" fill="#853c78"/>
<rect x="1025" y="96" width="22" height="22" fill="#853b78"/>
<rect x="1047" y="96" width="43" height="22" fill="#823875"/>
<rect x="1090" y="96" width="22" height="22" fill="#853977"/>
<rect x="1112" y="96" width="22" height="22" fill="#8c3f7c"/>
<rect x="1134" y="96" width="21" height="22" fill="#924580"/>
<rect x="1155" y="96" width="22" height="22" fill="#984a84"/>
<rect x="1177" y="96" width="22" height="22" fill="#9f5088"/>
<rect x="1199" y="96" width="22" height="22" fill="#a05189"/>
<rect x="1221" y="96" width="21" height="22" fill="#a05288"/>
<rect x="1242" y="96" width="22" height="22" fill="#9a4e84"/>
<rect x="1264" y="96" width="22" height="22" fill="#8e4680"/>
<rect x="1286" y="96" width="195" height="22" fill="#562496"/>
<rect x="895" y="118" width="21" height="22" fill="#bc6696"/>
<rect x="916" y="118" width="22" height="22" fill="#863c7a"/>
<rect x="938" y="118" width="22" height="22" fill="#863d7a"/>
<rect x="960" y="118" width="43" height="22" fill="#8c417e"/>
<rect x="1003" y="118" width="44" height="22" fill="#883e7b"/>
<rect x="1047" y="118" width="43" height="22" fill="#833976"/>
<rect x="1090" y="118" width="22" height="22" fill="#873a79"/>
<rect x="1112" y="118" width="22" height="22" fill="#8e407c"/>
<rect x="1134" y="118" width="21" height="22" fill="#954681"/>
<rect x="1155" y="118" width="22" height="22" fill="#994a84"/>
<rect x="1177" y="118" width="44" height="22" fill="#9e4f88"/>
<rect x="1221" y="118" width="21" height="22" fill="#9f4f84"/>
<rect x="1242" y="118" width="22" height="22" fill="#9b4d82"/>
<rect x="1264" y="118" width="22" height="22" fill="#924880"/>
<rect x="1286" y="118" width="21" height="22" fill="#8a447e"/>
<rect x="1307" y="118" width="174" height="22" fill="#562496"/>
<rect x="895" y="140" width="21" height="21" fill="#bc6696"/>
<rect x="916" y="140" width="44" height="21" fill="#8a407c"/>
<rect x="960" y="140" width="22" height="21" fill="#914582"/>
<rect x="982" y="140" width="21" height="21" fill="#924582"/>
<rect x="1003" y="140" width="44" height="21" fill="#8d427e"/>
<rect x="1047" y="140" width="21" height="21" fill="#863c79"/>
<rect x="1068" y="140" width="22" height="21" fill="#853b78"/>
<rect x="1090" y="140" width="22" height="21" fill="#883b79"/>
<rect x="1112" y="140" width="22" height="21" fill="#8f417d"/>
<rect x="1134" y="140" width="21" height="21" fill="#954782"/>
<rect x="1155" y="140" width="22" height="21" fill="#984a84"/>
<rect x="1177" y="140" width="44" height="21" fill="#9d4e88"/>
<rect x="1221" y="140" width="21" height="21" fill="#98497f"/>
<rect x="1242" y="140" width="22" height="21" fill="#97487e"/>
<rect x="1264" y="140" width="22" height="21" fill="#984a83"/>
<rect x="1286" y="140" width="21" height="21" fill="#944983"/>
<rect x="1307" y="140" width="22" height="21" fill="#88437f"/>
<rect x="1329" y="140" width="152" height="21" fill="#562496"/>
<rect x="895" y="161" width="21" height="22" fill="#bc6696"/>
<rect x="916" y="161" width="22" height="22" fill="#8e447e"/>
<rect x="938" y="161" width="22" height="22" fill="#8f457f"/>
<rect x="960" y="161" width="22" height="22" fill="#994b87"/>
<rect x="982" y="161" width="21" height="22" fill="#9a4b87"/>
<rect x="1003" y="161" width="22" height="22" fill="#954883"/>
<rect x="1025" y="161" width="22" height="22" fill="#934682"/>
<rect x="1047" y="161" width="21" height="22" fill="#893f7c"/>
<rect x="1068" y="161" width="22" height="22" fill="#873d7b"/>
<rect x="1090" y="161" width="22" height="22" fill="#883b79"/>
<rect x="1112" y="161" width="22" height="22" fill="#8e417c"/>
<rect x="1134" y="161" width="21" height="22" fill="#954681"/>
<rect x="1155" y="161" width="22" height="22" fill="#984984"/>
<rect x="1177" y="161" width="22" height="22" fill="#9b4c87"/>
<rect x="1199" y="161" width="22" height="22" fill="#9a4b86"/>
<rect x="1221" y="161" width="43" height="22" fill="#95467d"/>
<rect x="1264" y="161" width="22" height="22" fill="#984984"/>
<rect x="1286" y="161" width="21" height="22" fill="#954a84"/>
<rect x="1307" y="161" width="22" height="22" fill="#89447f"/>
<rect x="1329" y="161" width="152" height="22" fill="#562496"/>
<rect x="895" y="183" width="21" height="22" fill="#bc6696"/>
<rect x="916" y="183" width="22" height="22" fill="#924a82"/>
<rect x="938" y="183" width="22" height="22" fill="#994e86"/>
<rect x="960" y="183" width="22" height="22" fill="#a6568e"/>
<rect x="982" y="183" width="21" height="22" fill="#a6578e"/>
<rect x="1003" y="183" width="22" height="22" fill="#9f518b"/>
<rect x="1025" y="183" width="22" height="22" fill="#994b87"/>
<rect x="1047" y="183" width="21" height="22" fill="#8f4380"/>
<rect x="1068" y="183" width="22" height="22" fill="#873d7a"/>
<rect x="1090" y="183" width="22" height="22" fill="#823876"/>
<rect x="1112" y="183" width="22" height="22" fill="#843a77"/>
<rect x="1134" y="183" width="21" height="22" fill="#8b407c"/>
<rect x="1155" y="183" width="22" height="22" fill="#90447f"/>
<rect x="1177" y="183" width="44" height="22" fill="#964883"/>
<rect x="1221" y="183" width="43" height="22" fill="#91437f"/>
<rect x="1264" y="183" width="22" height="22" fill="#954883"/>
<rect x="1286" y="183" width="21" height="22" fill="#8f4782"/>
<rect x="1307" y="183" width="174" height="22" fill="#562496"/>
<rect x="895" y="205" width="21" height="22" fill="#bc6696"/>
<rect x="916" y="205" width="22" height="22" fill="#924a82"/>
<rect x="938" y="205" width="22" height="22" fill="#9a4e86"/>
<rect x="960" y="205" width="43" height="22" fill="#a6578e"/>
<rect x="1003" y="205" width="22" height="22" fill="#a0528b"/>
<rect x="1025" y="205" width="22" height="22" fill="#994c87"/>
<rect x="1047" y="205" width="21" height="22" fill="#904380"/>
<rect x="1068" y="205" width="22" height="22" fill="#873d7a"/>
<rect x="1090" y="205" width="22" height="22" fill="#813875"/>
<rect x="1112" y="205" width="22" height="22" fill="#833976"/>
<rect x="1134" y="205" width="21" height="22" fill="#893f7b"/>
<rect x="1155" y="205" width="22" height="22" fill="#90437e"/>
<rect x="1177" y="205" width="44" height="22" fill="#954783"/>
<rect x="1221" y="205" width="43" height="22" fill="#904280"/>
<rect x="1264" y="205" width="22" height="22" fill="#954883"/>
<rect x="1286" y="205" width="21" height="22" fill="#8f4782"/>
<rect x="1307" y="205" width="174" height="22" fill="#562496"/>
<rect x="895" y="227" width="21" height="21" fill="#bc6696"/>
<rect x="916" y="227" width="22" height="21" fill="#8f4580"/>
<rect x="938" y="227" width="22" height="21" fill="#964a84"/>
<rect x="960" y="227" width="22" height="21" fill="#9e5088"/>
<rect x="982" y="227" width="21" height="21" fill="#9e5188"/>
<rect x="1003" y="227" width="22" height="21" fill="#9c4f86"/>
<rect x="1025" y="227" width="22" height="21" fill="#974a85"/>
<rect x="1047" y="227" width="21" height="21" fill="#90437f"/>
<rect x="1068" y="227" width="22" height="21" fill="#873c79"/>
<rect x="1090" y="227" width="22" height="21" fill="#7f3673"/>
<rect x="1112" y="227" width="22" height="21" fill="#7f3573"/>
<rect x="1134" y="227" width="21" height="21" fill="#843a76"/>
<rect x="1155" y="227" width="22" height="21" fill="#8c407b"/>
<rect x="1177" y="227" width="44" height="21" fill="#944680"/>
<rect x="1221" y="227" width="43" height="21" fill="#924380"/>
<rect x="1264" y="227" width="22" height="21" fill="#954883"/>
<rect x="1286" y="227" width="21" height="21" fill="#8e4782"/>
<rect x="1307" y="227" width="174" height="21" fill="#562496"/>
<rect x="873" y="248" width="43" height="22" fill="#bc6696"/>
<rect x="916" y="248" width="22" height="22" fill="#8f4480"/>
<rect x="938" y="248" width="22" height="22" fill="#964a84"/>
<rect x="960" y="248" width="22" height="22" fill="#9e5087"/>
<rect x="982" y="248" width="21" height="22" fill="#9f5188"/>
<rect x="1003" y="248" width="22" height="22" fill="#9c4f86"/>
<rect x="1025" y="248" width="22" height="22" fill="#974a85"/>
<rect x="1047" y="248" width="21" height="22" fill="#90437f"/>
<rect x="1068" y="248" width="22" height="22" fill="#873c79"/>
<rect x="1090" y="248" width="22" height="22" fill="#7f3673"/>
<rect x="1112" y="248" width="22" height="22" fill="#7e3572"/>
<rect x="1134" y="248" width="21" height="22" fill="#843a76"/>
<rect x="1155" y="248" width="22" height="22" fill="#8c3f7b"/>
<rect x="1177" y="248" width="22" height="22" fill="#954781"/>
<rect x="1199" y="248" width="22" height="22" fill="#964882"/>
<rect x="1221" y="248" width="43" height="22" fill="#984884"/>
<rect x="1264" y="248" width="22" height="22" fill="#964983"/>
<rect x="1286" y="248" width="21" height="22" fill="#8e4782"/>
<rect x="1307" y="248" width="174" height="22" fill="#562496"/>
<rect x="895" y="270" width="21" height="22" fill="#bc6696"/>
<rect x="916" y="270" width="22" height="22" fill="#964984"/>
<rect x="938" y="270" width="22" height="22" fill="#9c4e86"/>
<rect x="960" y="270" width="22" height="22" fill="#a5578d"/>
<rect x="982" y="270" width="21" height="22" fill="#a85a8f"/>
<rect x="1003" y="270" width="22" height="22" fill="#a3558b"/>
<rect x="1025" y="270" width="22" height="22" fill="#9d4f87"/>
<rect x="1047" y="270" width="21" height="22" fill="#944782"/>
<rect x="1068" y="270" width="22" height="22" fill="#8a3f7b"/>
<rect x="1090" y="270" width="22" height="22" fill="#823875"/>
<rect x="1112" y="270" width="22" height="22" fill="#803673"/>
<rect x="1134" y="270" width="21" height="22" fill="#823874"/>
<rect x="1155" y="270" width="22" height="22" fill="#8a3f7a"/>
<rect x="1177" y="270" width="22" height="22" fill="#964882"/>
<rect x="1199" y="270" width="22" height="22" fill="#9d4f87"/>
<rect x="1221" y="270" width="21" height="22" fill="#a15388"/>
<rect x="1242" y="270" width="22" height="22" fill="#9f5188"/>
<rect x="1264" y="270" width="22" height="22" fill="#994d85"/>
<rect x="1286" y="270" width="21" height="22" fill="#8f4882"/>
<rect x="1307" y="270" width="174" height="22" fill="#562496"/>
<rect x="895" y="292" width="21" height="21" fill="#bc6696"/>
<rect x="916" y="292" width="22" height="21" fill="#964984"/>
<rect x="938" y="292" width="22" height="21" fill="#9c4e86"/>
<rect x="960" y="292" width="22" height="21" fill="#a5578d"/>
<rect x="982" y="292" width="21" height="21" fill="#a95a8f"/>
<rect x="1003" y="292" width="22" height="21" fill="#a4568c"/>
<rect x="1025" y="292" width="22" height="21" fill="#9d5087"/>
<rect x="1047" y="292" width="21" height="21" fill="#944782"/>
<rect x="1068" y="292" width="22" height="21" fill="#8a3f7b"/>
<rect x="1090" y="292" width="22" height="21" fill="#823975"/>
<rect x="1112" y="292" width="22" height="21" fill="#803673"/>
<rect x="1134" y="292" width="21" height="21" fill="#813874"/>
<rect x="1155" y="292" width="22" height="21" fill="#8a3f7a"/>
<rect x="1177" y="292" width="22" height="21" fill="#954881"/>
<rect x="1199" y="292" width="22" height="21" fill="#9d4f87"/>
<rect x="1221" y="292" width="21" height="21" fill="#a15388"/>
<rect x="1242" y="292" width="22" height="21" fill="#9f5188"/>
<rect x="1264" y="292" width="22" height="21" fill="#994d85"/>
<rect x="1286" y="292" width="21" height="21" fill="#8f4882"/>
<rect x="1307" y="292" width="174" height="21" fill="#562496"/>
<rect x="895" y="313" width="21" height="22" fill="#bc6696"/>
<rect x="916" y="313" width="22" height="22" fill="#944682"/>
<rect x="938" y="313" width="22" height="22" fill="#984b85"/>
<rect x="960" y="313" width="22" height="22" fill="#a3548c"/>
<rect x="982" y="313" width="21" height="22" fill="#a5568d"/>
<rect x="1003" y="313" width="22" height="22" fill="#a1538a"/>
<rect x="1025" y="313" width="22" height="22" fill="#9c4e85"/>
<rect x="1047" y="313" width="21" height="22" fill="#944780"/>
<rect x="1068" y="313" width="22" height="22" fill="#8c417c"/>
<rect x="1090" y="313" width="22" height="22" fill="#843a76"/>
<rect x="1112" y="313" width="22" height="22" fill="#803673"/>
<rect x="1134" y="313" width="21" height="22" fill="#803672"/>
<rect x="1155" y="313" width="22" height="22" fill="#863a77"/>
<rect x="1177" y="313" width="22" height="22" fill="#8f427e"/>
<rect x="1199" y="313" width="22" height="22" fill="#984a85"/>
<rect x="1221" y="313" width="43" height="22" fill="#9d4e85"/>
<rect x="1264" y="313" width="22" height="22" fill="#984b83"/>
<rect x="1286" y="313" width="195" height="22" fill="#562496"/>
<rect x="873" y="335" width="43" height="22" fill="#bc6696"/>
<rect x="916" y="335" width="22" height="22" fill="#934481"/>
<rect x="938" y="335" width="22" height="22" fill="#954784"/>
<rect x="960" y="335" width="22" height="22" fill="#9c4e89"/>
<rect x="982" y="335" width="21" height="22" fill="#9c4e8a"/>
<rect x="1003" y="335" width="22" height="22" fill="#9c4e86"/>
<rect x="1025" y="335" width="22" height="22" fill="#984a83"/>
<rect x="1047" y="335" width="21" height="22" fill="#92457f"/>
<rect x="1068" y="335" width="22" height="22" fill="#8d427d"/>
<rect x="1090" y="335" width="22" height="22" fill="#883d78"/>
<rect x="1112" y="335" width="22" height="22" fill="#833874"/>
<rect x="1134" y="335" width="21" height="22" fill="#823673"/>
<rect x="1155" y="335" width="22" height="22" fill="#853975"/>
<rect x="1177" y="335" width="22" height="22" fill="#8e407e"/>
<rect x="1199" y="335" width="22" height="22" fill="#964784"/>
<rect x="1221" y="335" width="43" height="22" fill="#9c4c84"/>
<rect x="1264" y="335" width="22" height="22" fill="#974b83"/>
<rect x="1286" y="335" width="195" height="22" fill="#562496"/>
<rect x="873" y="357" width="43" height="21" fill="#bc6696"/>
<rect x="916" y="357" width="22" height="21" fill="#954682"/>
<rect x="938" y="357" width="22" height="21" fill="#964682"/>
<rect x="960" y="357" width="43" height="21" fill="#984986"/>
<rect x="1003" y="357" width="22" height="21" fill="#964984"/>
<rect x="1025" y="357" width="22" height="21" fill="#964883"/>
<rect x="1047" y="357" width="43" height="21" fill="#924680"/>
<rect x="1090" y="357" width="22" height="21" fill="#90437e"/>
<rect x="1112" y="357" width="22" height="21" fill="#8c3e7a"/>
<rect x="1134" y="357" width="21" height="21" fill="#863975"/>
<rect x="1155" y="357" width="22" height="21" fill="#92447e"/>
<rect x="1177" y="357" width="22" height="21" fill="#984782"/>
<rect x="1199" y="357" width="22" height="21" fill="#9d4c85"/>
<rect x="1221" y="357" width="43" height="21" fill="#a3538a"/>
<rect x="1264" y="357" width="22" height="21" fill="#9b4e86"/>
<rect x="1286" y="357" width="21" height="21" fill="#914983"/>
<rect x="1307" y="357" width="174" height="21" fill="#562496"/>
<rect x="873" y="378" width="43" height="22" fill="#bc6696"/>
<rect x="916" y="378" width="44" height="22" fill="#944482"/>
<rect x="960" y="378" width="43" height="22" fill="#964885"/>
<rect x="1003" y="378" width="44" height="22" fill="#964984"/>
<rect x="1047" y="378" width="43" height="22" fill="#974a84"/>
<rect x="1090" y="378" width="22" height="22" fill="#984a84"/>
<rect x="1112" y="378" width="22" height="22" fill="#944580"/>
<rect x="1134" y="378" width="21" height="22" fill="#8d3f7c"/>
<rect x="1155" y="378" width="22" height="22" fill="#92437e"/>
<rect x="1177" y="378" width="22" height="22" fill="#9b4b84"/>
<rect x="1199" y="378" width="22" height="22" fill="#a15086"/>
<rect x="1221" y="378" width="43" height="22" fill="#a9598e"/>
<rect x="1264" y="378" width="22" height="22" fill="#9c4f87"/>
<rect x="1286" y="378" width="21" height="22" fill="#924a84"/>
<rect x="1307" y="378" width="174" height="22" fill="#562496"/>
<rect x="873" y="400" width="43" height="22" fill="#bc6696"/>
<rect x="916" y="400" width="22" height="22" fill="#924282"/>
<rect x="938" y="400" width="22" height="22" fill="#924382"/>
<rect x="960" y="400" width="22" height="22" fill="#964884"/>
<rect x="982" y="400" width="21" height="22" fill="#984b85"/>
<rect x="1003" y="400" width="44" height="22" fill="#9c4e86"/>
<rect x="1047" y="400" width="21" height="22" fill="#9e5087"/>
<rect x="1068" y="400" width="22" height="22" fill="#9e5088"/>
<rect x="1090" y="400" width="22" height="22" fill="#a25389"/>
<rect x="1112" y="400" width="22" height="22" fill="#9f4f87"/>
<rect x="1134" y="400" width="21" height="22" fill="#964884"/>
<rect x="1155" y="400" width="22" height="22" fill="#964684"/>
<rect x="1177" y="400" width="22" height="22" fill="#a45289"/>
<rect x="1199" y="400" width="22" height="22" fill="#ac588c"/>
<rect x="1221" y="400" width="21" height="22" fill="#b35f90"/>
<rect x="1242" y="400" width="22" height="22" fill="#bb3848"/>
<rect x="1264" y="400" width="22" height="22" fill="#9c5088"/>
<rect x="1286" y="400" width="21" height="22" fill="#8d4783"/>
<rect x="1307" y="400" width="174" height="22" fill="#562496"/>
<rect x="873" y="422" width="43" height="22" fill="#bc6696"/>
<rect x="916" y="422" width="22" height="22" fill="#914182"/>
<rect x="938" y="422" width="22" height="22" fill="#924283"/>
<rect x="960" y="422" width="22" height="22" fill="#994c86"/>
<rect x="982" y="422" width="21" height="22" fill="#a0528a"/>
<rect x="1003" y="422" width="22" height="22" fill="#a6568c"/>
<rect x="1025" y="422" width="22" height="22" fill="#a6578c"/>
<rect x="1047" y="422" width="43" height="22" fill="#a8588c"/>
<rect x="1090" y="422" width="22" height="22" fill="#a7578c"/>
<rect x="1112" y="422" width="22" height="22" fill="#a3538b"/>
<rect x="1134" y="422" width="43" height="22" fill="#9d4d89"/>
<rect x="1177" y="422" width="22" height="22" fill="#a6558b"/>
<rect x="1199" y="422" width="22" height="22" fill="#af5c8f"/>
<rect x="1221" y="422" width="43" height="22" fill="#bb3848"/>
<rect x="1264" y="422" width="22" height="22" fill="#9a4f87"/>
<rect x="1286" y="422" width="21" height="22" fill="#884380"/>
<rect x="1307" y="422" width="174" height="22" fill="#562496"/>
<rect x="873" y="444" width="43" height="21" fill="#bc6696"/>
<rect x="916" y="444" width="22" height="21" fill="#924282"/>
<rect x="938" y="444" width="22" height="21" fill="#984885"/>
<rect x="960" y="444" width="22" height="21" fill="#a4558b"/>
<rect x="982" y="444" width="21" height="21" fill="#ae5d90"/>
<rect x="1003" y="444" width="44" height="21" fill="#b46293"/>
<rect x="1047" y="444" width="21" height="21" fill="#b36191"/>
<rect x="1068" y="444" width="22" height="21" fill="#ad5c8e"/>
<rect x="1090" y="444" width="22" height="21" fill="#a6568c"/>
<rect x="1112" y="444" width="22" height="21" fill="#a4538b"/>
<rect x="1134" y="444" width="21" height="21" fill="#a2508b"/>
<rect x="1155" y="444" width="22" height="21" fill="#a4538c"/>
<rect x="1177" y="444" width="22" height="21" fill="#ad5b90"/>
<rect x="1199" y="444" width="22" height="21" fill="#b56193"/>
<rect x="1221" y="444" width="43" height="21" fill="#bb3848"/>
<rect x="1264" y="444" width="22" height="21" fill="#974c86"/>
<rect x="1286" y="444" width="195" height="21" fill="#562496"/>
<rect x="873" y="465" width="43" height="22" fill="#bc6696"/>
<rect x="916" y="465" width="22" height="22" fill="#924182"/>
<rect x="938" y="465" width="22" height="22" fill="#984885"/>
<rect x="960" y="465" width="22" height="22" fill="#a5558c"/>
<rect x="982" y="465" width="21" height="22" fill="#af5d90"/>
<rect x="1003" y="465" width="44" height="22" fill="#b56394"/>
<rect x="1047" y="465" width="21" height="22" fill="#b36192"/>
<rect x="1068" y="465" width="22" height="22" fill="#ad5c8e"/>
<rect x="1090" y="465" width="22" height="22" fill="#a6558c"/>
<rect x="1112" y="465" width="22" height="22" fill="#a3538b"/>
<rect x="1134" y="465" width="21" height="22" fill="#a2508b"/>
<rect x="1155" y="465" width="22" height="22" fill="#a4538c"/>
<rect x="1177" y="465" width="22" height="22" fill="#ad5b90"/>
<rect x="1199" y="465" width="22" height="22" fill="#b56193"/>
<rect x="1221" y="465" width="43" height="22" fill="#bb3848"/>
<rect x="1264" y="465" width="22" height="22" fill="#964b86"/>
<rect x="1286" y="465" width="195" height="22" fill="#562496"/>
<rect x="873" y="487" width="43" height="22" fill="#bc6696"/>
<rect x="916" y="487" width="22" height="22" fill="#903f80"/>
<rect x="938" y="487" width="22" height="22" fill="#964684"/>
<rect x="960" y="487" width="22" height="22" fill="#a3528b"/>
<rect x="982" y="487" width="21" height="22" fill="#ab5a8f"/>
<rect x="1003" y="487" width="22" height="22" fill="#b25f92"/>
<rect x="1025" y="487" width="22" height="22" fill="#b15f91"/>
<rect x="1047" y="487" width="21" height="22" fill="#ae5c90"/>
<rect x="1068" y="487" width="22" height="22" fill="#a7578c"/>
<rect x="1090" y="487" width="22" height="22" fill="#a04f88"/>
<rect x="1112" y="487" width="43" height="22" fill="#9e4d86"/>
<rect x="1155" y="487" width="22" height="22" fill="#a25088"/>
<rect x="1177" y="487" width="22" height="22" fill="#a9568d"/>
<rect x="1199" y="487" width="22" height="22" fill="#ae598e"/>
<rect x="1221" y="487" width="21" height="22" fill="#bb3848"/>
<rect x="1242" y="487" width="22" height="22" fill="#a7548a"/>
<rect x="1264" y="487" width="217" height="22" fill="#562496"/>
<rect x="873" y="509" width="43" height="21" fill="#bc6696"/>
<rect x="916" y="509" width="22" height="21" fill="#8e3e7e"/>
<rect x="938" y="509" width="22" height="21" fill="#944482"/>
<rect x="960" y="509" width="22" height="21" fill="#9c4c88"/>
<rect x="982" y="509" width="21" height="21" fill="#a4538b"/>
<rect x="1003" y="509" width="44" height="21" fill="#aa598e"/>
<rect x="1047" y="509" width="21" height="21" fill="#a6568c"/>
<rect x="1068" y="509" width="22" height="21" fill="#a05189"/>
<rect x="1090" y="509" width="44" height="21" fill="#9c4c85"/>
<rect x="1134" y="509" width="21" height="21" fill="#9b4b84"/>
<rect x="1155" y="509" width="22" height="21" fill="#9e4d85"/>
<rect x="1177" y="509" width="22" height="21" fill="#a4538a"/>
<rect x="1199" y="509" width="22" height="21" fill="#a8568b"/>
<rect x="1221" y="509" width="21" height="21" fill="#a7568a"/>
<rect x="1242" y="509" width="22" height="21" fill="#9d4f86"/>
<rect x="1264" y="509" width="217" height="21" fill="#562496"/>
<rect x="873" y="530" width="43" height="22" fill="#bc6696"/>
<rect x="916" y="530" width="22" height="22" fill="#8d3d7d"/>
<rect x="938" y="530" width="22" height="22" fill="#924280"/>
<rect x="960" y="530" width="22" height="22" fill="#984885"/>
<rect x="982" y="530" width="21" height="22" fill="#9e4e88"/>
<rect x="1003" y="530" width="44" height="22" fill="#a2528a"/>
<rect x="1047" y="530" width="21" height="22" fill="#a05089"/>
<rect x="1068" y="530" width="22" height="22" fill="#9d4e87"/>
<rect x="1090" y="530" width="22" height="22" fill="#9b4c84"/>
<rect x="1112" y="530" width="22" height="22" fill="#9a4c84"/>
<rect x="1134" y="530" width="21" height="22" fill="#984a82"/>
<rect x="1155" y="530" width="22" height="22" fill="#9b4d84"/>
<rect x="1177" y="530" width="22" height="22" fill="#a15388"/>
<rect x="1199" y="530" width="22" height="22" fill="#a35589"/>
<rect x="1221" y="530" width="21" height="22" fill="#9f5388"/>
<rect x="1242" y="530" width="239" height="22" fill="#562496"/>
<rect x="873" y="552" width="43" height="22" fill="#bc6696"/>
<rect x="916" y="552" width="22" height="22" fill="#8d3d7d"/>
<rect x="938" y="552" width="22" height="22" fill="#924180"/>
<rect x="960" y="552" width="22" height="22" fill="#974684"/>
<rect x="982" y="552" width="21" height="22" fill="#9b4b86"/>
<rect x="1003" y="552" width="65" height="22" fill="#9d4e88"/>
<rect x="1068" y="552" width="22" height="22" fill="#9b4c86"/>
<rect x="1090" y="552" width="22" height="22" fill="#9a4b84"/>
<rect x="1112" y="552" width="22" height="22" fill="#984a83"/>
<rect x="1134" y="552" width="21" height="22" fill="#924882"/>
<rect x="1155" y="552" width="22" height="22" fill="#944a83"/>
<rect x="1177" y="552" width="22" height="22" fill="#994f86"/>
<rect x="1199" y="552" width="22" height="22" fill="#9b5187"/>
<rect x="1221" y="552" width="21" height="22" fill="#974f85"/>
<rect x="1242" y="552" width="239" height="22" fill="#562496"/>
<rect x="873" y="574" width="43" height="21" fill="#bc6696"/>
<rect x="916" y="574" width="22" height="21" fill="#8e3f7e"/>
<rect x="938" y="574" width="22" height="21" fill="#924281"/>
<rect x="960" y="574" width="22" height="21" fill="#964683"/>
<rect x="982" y="574" width="21" height="21" fill="#984984"/>
<rect x="1003" y="574" width="22" height="21" fill="#994a85"/>
<rect x="1025" y="574" width="65" height="21" fill="#9a4c86"/>
<rect x="1090" y="574" width="22" height="21" fill="#994b85"/>
<rect x="1112" y="574" width="22" height="21" fill="#964983"/>
<rect x="1134" y="574" width="21" height="21" fill="#8d4580"/>
<rect x="1155" y="574" width="22" height="21" fill="#8c4480"/>
<rect x="1177" y="574" width="22" height="21" fill="#8c4580"/>
<rect x="1199" y="574" width="282" height="21" fill="#562496"/>
<rect x="873" y="595" width="43" height="22" fill="#bc6696"/>
<rect x="916" y="595" width="22" height="22" fill="#914180"/>
<rect x="938" y="595" width="22" height="22" fill="#934381"/>
<rect x="960" y="595" width="22" height="22" fill="#964682"/>
<rect x="982" y="595" width="21" height="22" fill="#974883"/>
<rect x="1003" y="595" width="22" height="22" fill="#984984"/>
<rect x="1025" y="595" width="22" height="22" fill="#9b4b86"/>
<rect x="1047" y="595" width="21" height="22" fill="#9c4d86"/>
<rect x="1068" y="595" width="44" height="22" fill="#9f4f87"/>
<rect x="1112" y="595" width="22" height="22" fill="#974a84"/>
<rect x="1134" y="595" width="347" height="22" fill="#562496"/>
<rect x="873" y="617" width="43" height="22" fill="#bc6696"/>
<rect x="916" y="617" width="22" height="22" fill="#914180"/>
<rect x="938" y="617" width="22" height="22" fill="#934381"/>
<rect x="960" y="617" width="22" height="22" fill="#954581"/>
<rect x="982" y="617" width="21" height="22" fill="#964682"/>
<rect x="1003" y="617" width="22" height="22" fill="#974883"/>
<rect x="1025" y="617" width="22" height="22" fill="#9c4c86"/>
<rect x="1047" y="617" width="21" height="22" fill="#a3538b"/>
<rect x="1068" y="617" width="22" height="22" fill="#a7578c"/>
<rect x="1090" y="617" width="22" height="22" fill="#a6568b"/>
<rect x="1112" y="617" width="22" height="22" fill="#994d85"/>
<rect x="1134" y="617" width="347" height="22" fill="#562496"/>
<rect x="873" y="639" width="43" height="21" fill="#bc6696"/>
<rect x="916" y="639" width="22" height="21" fill="#92417f"/>
<rect x="938" y="639" width="22" height="21" fill="#944480"/>
<rect x="960" y="639" width="43" height="21" fill="#954581"/>
<rect x="1003" y="639" width="22" height="21" fill="#974882"/>
<rect x="1025" y="639" width="22" height="21" fill="#9d4d86"/>
<rect x="1047" y="639" width="21" height="21" fill="#a3538c"/>
<rect x="1068" y="639" width="22" height="21" fill="#a7578d"/>
<rect x="1090" y="639" width="22" height="21" fill="#a5568b"/>
<rect x="1112" y="639" width="22" height="21" fill="#974d85"/>
<rect x="1134" y="639" width="347" height="21" fill="#562496"/>
<rect x="873" y="660" width="43" height="22" fill="#bc6696"/>
<rect x="916" y="660" width="22" height="22" fill="#90427e"/>
<rect x="938" y="660" width="22" height="22" fill="#92447f"/>
<rect x="960" y="660" width="22" height="22" fill="#934480"/>
<rect x="982" y="660" width="21" height="22" fill="#944581"/>
<rect x="1003" y="660" width="22" height="22" fill="#984882"/>
<rect x="1025" y="660" width="22" height="22" fill="#9d4d86"/>
<rect x="1047" y="660" width="21" height="22" fill="#a2528b"/>
<rect x="1068" y="660" width="22" height="22" fill="#a4548c"/>
<rect x="1090" y="660" width="22" height="22" fill="#a05389"/>
<rect x="1112" y="660" width="369" height="22" fill="#562496"/>
<rect x="873" y="682" width="43" height="22" fill="#bc6696"/>
<rect x="916" y="682" width="22" height="22" fill="#91437f"/>
<rect x="938" y="682" width="22" height="22" fill="#92447f"/>
<rect x="960" y="682" width="22" height="22" fill="#934580"/>
<rect x="982" y="682" width="21" height="22" fill="#944681"/>
<rect x="1003" y="682" width="22" height="22" fill="#984982"/>
<rect x="1025" y="682" width="22" height="22" fill="#9d4d86"/>
<rect x="1047" y="682" width="21" height="22" fill="#a1528b"/>
<rect x="1068" y="682" width="22" height="22" fill="#a3548c"/>
<rect x="1090" y="682" width="22" height="22" fill="#9e5288"/>
<rect x="1112" y="682" width="369" height="22" fill="#562496"/>
<rect x="873" y="704" width="43" height="22" fill="#bc6696"/>
<rect x="916" y="704" width="22" height="22" fill="#954683"/>
<rect x="938" y="704" width="22" height="22" fill="#964783"/>
<rect x="960" y="704" width="22" height="22" fill="#984984"/>
<rect x="982" y="704" width="21" height="22" fill="#994a84"/>
<rect x="1003" y="704" width="22" height="22" fill="#9a4b84"/>
<rect x="1025" y="704" width="22" height="22" fill="#9d4d86"/>
<rect x="1047" y="704" width="21" height="22" fill="#a0518b"/>
<rect x="1068" y="704" width="22" height="22" fill="#9e508a"/>
<rect x="1090" y="704" width="22" height="22" fill="#954c85"/>
<rect x="1112" y="704" width="369" height="22" fill="#562496"/>
<rect x="873" y="726" width="43" height="21" fill="#bc6696"/>
<rect x="916" y="726" width="22" height="21" fill="#964884"/>
<rect x="938" y="726" width="22" height="21" fill="#994985"/>
<rect x="960" y="726" width="22" height="21" fill="#9b4c85"/>
<rect x="982" y="726" width="21" height="21" fill="#9c4d86"/>
<rect x="1003" y="726" width="22" height="21" fill="#9d4d86"/>
<rect x="1025" y="726" width="22" height="21" fill="#9e4f87"/>
<rect x="1047" y="726" width="21" height="21" fill="#9f518b"/>
<rect x="1068" y="726" width="22" height="21" fill="#9c508a"/>
<rect x="1090" y="726" width="22" height="21" fill="#924a84"/>
<rect x="1112" y="726" width="369" height="21" fill="#562496"/>
<rect x="873" y="747" width="43" height="22" fill="#bc6696"/>
<rect x="916" y="747" width="22" height="22" fill="#964884"/>
<rect x="938" y="747" width="22" height="22" fill="#9a4b86"/>
<rect x="960" y="747" width="22" height="22" fill="#9e4f87"/>
<rect x="982" y="747" width="65" height="22" fill="#9f5088"/>
<rect x="1047" y="747" width="21" height="22" fill="#9f5189"/>
<rect x="1068" y="747" width="22" height="22" fill="#9b5088"/>
<rect x="1090" y="747" width="22" height="22" fill="#914a84"/>
<rect x="1112" y="747" width="369" height="22" fill="#562496"/>
<rect x="873" y="769" width="43" height="22" fill="#bc6696"/>
<rect x="916" y="769" width="22" height="22" fill="#944582"/>
<rect x="938" y="769" width="22" height="22" fill="#984a85"/>
<rect x="960" y="769" width="22" height="22" fill="#9c4e87"/>
<rect x="982" y="769" width="21" height="22" fill="#9e5088"/>
<rect x="1003" y="769" width="22" height="22" fill="#9d4f87"/>
<rect x="1025" y="769" width="22" height="22" fill="#9a4d86"/>
<rect x="1047" y="769" width="21" height="22" fill="#964b85"/>
<rect x="1068" y="769" width="22" height="22" fill="#934a84"/>
<rect x="1090" y="769" width="391" height="22" fill="#562496"/>
<rect x="873" y="791" width="43" height="21" fill="#bc6696"/>
<rect x="916" y="791" width="22" height="21" fill="#8e417f"/>
<rect x="938" y="791" width="22" height="21" fill="#924582"/>
<rect x="960" y="791" width="22" height="21" fill="#964984"/>
<rect x="982" y="791" width="21" height="21" fill="#994c86"/>
<rect x="1003" y="791" width="22" height="21" fill="#994d86"/>
<rect x="1025" y="791" width="22" height="21" fill="#934984"/>
<rect x="1047" y="791" width="434" height="21" fill="#562496"/>
<rect x="873" y="812" width="43" height="22" fill="#bc6696"/>
<rect x="916" y="812" width="22" height="22" fill="#8a3d7c"/>
<rect x="938" y="812" width="22" height="22" fill="#8c407e"/>
<rect x="960" y="812" width="22" height="22" fill="#904480"/>
<rect x="982" y="812" width="21" height="22" fill="#934783"/>
<rect x="1003" y="812" width="22" height="22" fill="#934883"/>
<rect x="1025" y="812" width="22" height="22" fill="#8d4582"/>
<rect x="1047" y="812" width="434" height="22" fill="#562496"/>
<rect x="873" y="834" width="43" height="22" fill="#bc6696"/>
<rect x="916" y="834" width="22" height="22" fill="#893c7b"/>
<rect x="938" y="834" width="22" height="22" fill="#8a3d7c"/>
<rect x="960" y="834" width="22" height="22" fill="#8c3f7d"/>
<rect x="982" y="834" width="21" height="22" fill="#8d417e"/>
<rect x="1003" y="834" width="22" height="22" fill="#8e427f"/>
<rect x="1025" y="834" width="22" height="22" fill="#89417f"/>
<rect x="1047" y="834" width="434" height="22" fill="#562496"/>
<rect x="873" y="856" width="43" height="21" fill="#bc6696"/>
<rect x="916" y="856" width="22" height="21" fill="#853878"/>
<rect x="938" y="856" width="22" height="21" fill="#863978"/>
<rect x="960" y="856" width="22" height="21" fill="#883c7a"/>
<rect x="982" y="856" width="21" height="21" fill="#893d7b"/>
<rect x="1003" y="856" width="22" height="21" fill="#8a3f7c"/>
<rect x="1025" y="856" width="22" height="21" fill="#89407d"/>
<rect x="1047" y="856" width="434" height="21" fill="#562496"/>
<rect x="873" y="877" width="43" height="22" fill="#bc6696"/>
<rect x="916" y="877" width="22" height="22" fill="#843676"/>
<rect x="938" y="877" width="22" height="22" fill="#843776"/>
<rect x="960" y="877" width="22" height="22" fill="#873a79"/>
<rect x="982" y="877" width="21" height="22" fill="#8a3d7b"/>
<rect x="1003" y="877" width="22" height="22" fill="#8d407d"/>
<rect x="1025" y="877" width="22" height="22" fill="#8d417e"/>
<rect x="1047" y="877" width="21" height="22" fill="#8e427f"/>
<rect x="1068" y="877" width="22" height="22" fill="#8b427f"/>
<rect x="1090" y="877" width="391" height="22" fill="#562496"/>
<rect x="873" y="899" width="43" height="22" fill="#bc6696"/>
<rect x="916" y="899" width="44" height="22" fill="#833675"/>
<rect x="960" y="899" width="22" height="22" fill="#863978"/>
<rect x="982" y="899" width="21" height="22" fill="#8a3d7b"/>
<rect x="1003" y="899" width="22" height="22" fill="#8d407e"/>
<rect x="1025" y="899" width="22" height="22" fill="#8d407f"/>
<rect x="1047" y="899" width="21" height="22" fill="#8e417f"/>
<rect x="1068" y="899" width="22" height="22" fill="#8e427f"/>
<rect x="1090" y="899" width="22" height="22" fill="#8c437f"/>
<rect x="1112" y="899" width="22" height="22" fill="#88427e"/>
<rect x="1134" y="899" width="87" height="22" fill="#562496"/>
<rect x="1221" y="899" width="21" height="22" fill="#974f87"/>
<rect x="1242" y="899" width="22" height="22" fill="#8e4982"/>
<rect x="1264" y="899" width="217" height="22" fill="#562496"/>
<rect x="873" y="921" width="43" height="22" fill="#bc6696"/>
<rect x="916" y="921" width="22" height="22" fill="#843776"/>
<rect x="938" y="921" width="22" height="22" fill="#853977"/>
<rect x="960" y="921" width="22" height="22" fill="#873b79"/>
<rect x="982" y="921" width="21" height="22" fill="#883b7a"/>
<rect x="1003" y="921" width="22" height="22" fill="#893d7c"/>
<rect x="1025" y="921" width="22" height="22" fill="#8a3d7c"/>
<rect x="1047" y="921" width="21" height="22" fill="#8b3e7d"/>
<rect x="1068" y="921" width="22" height="22" fill="#91417e"/>
<rect x="1090" y="921" width="22" height="22" fill="#91437f"/>
<rect x="1112" y="921" width="22" height="22" fill="#904580"/>
<rect x="1134" y="921" width="21" height="22" fill="#904680"/>
<rect x="1155" y="921" width="22" height="22" fill="#924a82"/>
<rect x="1177" y="921" width="22" height="22" fill="#994f86"/>
<rect x="1199" y="921" width="22" height="22" fill="#9f548c"/>
<rect x="1221" y="921" width="21" height="22" fill="#9e548c"/>
<rect x="1242" y="921" width="22" height="22" fill="#934c85"/>
<rect x="1264" y="921" width="217" height="22" fill="#562496"/>
<rect x="873" y="943" width="43" height="21" fill="#bc6696"/>
<rect x="916" y="943" width="22" height="21" fill="#853776"/>
<rect x="938" y="943" width="22" height="21" fill="#853876"/>
<rect x="960" y="943" width="22" height="21" fill="#863b79"/>
<rect x="982" y="943" width="21" height="21" fill="#873b79"/>
<rect x="1003" y="943" width="44" height="21" fill="#893d7c"/>
<rect x="1047" y="943" width="21" height="21" fill="#8a3e7d"/>
<rect x="1068" y="943" width="22" height="21" fill="#90417e"/>
<rect x="1090" y="943" width="22" height="21" fill="#934480"/>
<rect x="1112" y="943" width="22" height="21" fill="#924681"/>
<rect x="1134" y="943" width="21" height="21" fill="#924781"/>
<rect x="1155" y="943" width="22" height="21" fill="#964b83"/>
<rect x="1177" y="943" width="22" height="21" fill="#9b5086"/>
<rect x="1199" y="943" width="22" height="21" fill="#a0548b"/>
<rect x="1221" y="943" width="21" height="21" fill="#9c528a"/>
<rect x="1242" y="943" width="22" height="21" fill="#914b84"/>
<rect x="1264" y="943" width="217" height="21" fill="#562496"/>
<rect x="873" y="964" width="43" height="22" fill="#bc6696"/>
<rect x="916" y="964" width="44" height="22" fill="#833676"/>
<rect x="960" y="964" width="43" height="22" fill="#853a79"/>
<rect x="1003" y="964" width="22" height="22" fill="#893d7c"/>
<rect x="1025" y="964" width="22" height="22" fill="#8b3f7e"/>
<rect x="1047" y="964" width="21" height="22" fill="#8c407e"/>
<rect x="1068" y="964" width="22" height="22" fill="#90427f"/>
<rect x="1090" y="964" width="22" height="22" fill="#934480"/>
<rect x="1112" y="964" width="22" height="22" fill="#924581"/>
<rect x="1134" y="964" width="21" height="22" fill="#924681"/>
<rect x="1155" y="964" width="22" height="22" fill="#954a82"/>
<rect x="1177" y="964" width="22" height="22" fill="#984d84"/>
<rect x="1199" y="964" width="22" height="22" fill="#964d86"/>
<rect x="1221" y="964" width="21" height="22" fill="#924b85"/>
<rect x="1242" y="964" width="22" height="22" fill="#884480"/>
<rect x="1264" y="964" width="217" height="22" fill="#562496"/>
<rect x="873" y="986" width="43" height="22" fill="#bc6696"/>
<rect x="916" y="986" width="44" height="22" fill="#813576"/>
<rect x="960" y="986" width="22" height="22" fill="#823878"/>
<rect x="982" y="986" width="21" height="22" fill="#833878"/>
<rect x="1003" y="986" width="22" height="22" fill="#873b7b"/>
<rect x="1025" y="986" width="22" height="22" fill="#8a3e7d"/>
<rect x="1047" y="986" width="21" height="22" fill="#8c407f"/>
<rect x="1068" y="986" width="22" height="22" fill="#914380"/>
<rect x="1090" y="986" width="44" height="22" fill="#934581"/>
<rect x="1134" y="986" width="21" height="22" fill="#934582"/>
<rect x="1155" y="986" width="22" height="22" fill="#964a82"/>
<rect x="1177" y="986" width="22" height="22" fill="#974b83"/>
<rect x="1199" y="986" width="22" height="22" fill="#904883"/>
<rect x="1221" y="986" width="21" height="22" fill="#8a4581"/>
<rect x="1242" y="986" width="239" height="22" fill="#562496"/>
<rect x="873" y="1008" width="43" height="21" fill="#bc6696"/>
<rect x="916" y="1008" width="44" height="21" fill="#803475"/>
<rect x="960" y="1008" width="22" height="21" fill="#803575"/>
<rect x="982" y="1008" width="21" height="21" fill="#823675"/>
<rect x="1003" y="1008" width="22" height="21" fill="#853776"/>
<rect x="1025" y="1008" width="22" height="21" fill="#883978"/>
<rect x="1047" y="1008" width="21" height="21" fill="#8c3d7b"/>
<rect x="1068" y="1008" width="22" height="21" fill="#91417e"/>
<rect x="1090" y="1008" width="22" height="21" fill="#944480"/>
<rect x="1112" y="1008" width="22" height="21" fill="#944582"/>
<rect x="1134" y="1008" width="21" height="21" fill="#954583"/>
<rect x="1155" y="1008" width="22" height="21" fill="#974984"/>
<rect x="1177" y="1008" width="22" height="21" fill="#944982"/>
<rect x="1199" y="1008" width="22" height="21" fill="#8e4681"/>
<rect x="1221" y="1008" width="21" height="21" fill="#89437f"/>
<rect x="1242" y="1008" width="239" height="21" fill="#562496"/>
<rect x="873" y="1029" width="43" height="22" fill="#bc6696"/>
<rect x="916" y="1029" width="44" height="22" fill="#803475"/>
<rect x="960" y="1029" width="22" height="22" fill="#803575"/>
<rect x="982" y="1029" width="21" height="22" fill="#823675"/>
<rect x="1003" y="1029" width="22" height="22" fill="#853776"/>
<rect x="1025" y="1029" width="22" height="22" fill="#883978"/>
<rect x="1047" y="1029" width="21" height="22" fill="#8c3d7b"/>
<rect x="1068" y="1029" width="22" height="22" fill="#91417e"/>
<rect x="1090" y="1029" width="22" height="22" fill="#944480"/>
<rect x="1112" y="1029" width="22" height="22" fill="#944582"/>
<rect x="1134" y="1029" width="21" height="22" fill="#954583"/>
<rect x="1155" y="1029" width="22" height="22" fill="#974884"/>
<rect x="1177" y="1029" width="22" height="22" fill="#944882"/>
<rect x="1199" y="1029" width="22" height="22" fill="#8e4681"/>
<rect x="1221" y="1029" width="21" height="22" fill="#8a447f"/>
<rect x="1242" y="1029" width="239" height="22" fill="#562496"/>
<rect x="873" y="1051" width="43" height="22" fill="#bc6696"/>
<rect x="916" y="1051" width="22" height="22" fill="#813675"/>
<rect x="938" y="1051" width="22" height="22" fill="#823675"/>
<rect x="960" y="1051" width="22" height="22" fill="#843776"/>
<rect x="982" y="1051" width="21" height="22" fill="#863977"/>
<rect x="1003" y="1051" width="22" height="22" fill="#893a78"/>
<rect x="1025" y="1051" width="22" height="22" fill="#8c3c7a"/>
<rect x="1047" y="1051" width="21" height="22" fill="#8e3e7c"/>
<rect x="1068" y="1051" width="22" height="22" fill="#91417e"/>
<rect x="1090" y="1051" width="22" height="22" fill="#934380"/>
<rect x="1112" y="1051" width="22" height="22" fill="#944582"/>
<rect x="1134" y="1051" width="21" height="22" fill="#964783"/>
<rect x="1155" y="1051" width="22" height="22" fill="#954782"/>
<rect x="1177" y="1051" width="22" height="22" fill="#924580"/>
<rect x="1199" y="1051" width="22" height="22" fill="#914580"/>
<rect x="1221" y="1051" width="21" height="22" fill="#974982"/>
<rect x="1242" y="1051" width="22" height="22" fill="#954981"/>
<rect x="1264" y="1051" width="217" height="22" fill="#562496"/>
<rect x="873" y="1073" width="43" height="21" fill="#bc6696"/>
<rect x="916" y="1073" width="44" height="21" fill="#813675"/>
<rect x="960" y="1073" width="22" height="21" fill="#853776"/>
<rect x="982" y="1073" width="21" height="21" fill="#893a77"/>
<rect x="1003" y="1073" width="22" height="21" fill="#8c3b79"/>
<rect x="1025" y="1073" width="22" height="21" fill="#8e3d7b"/>
<rect x="1047" y="1073" width="21" height="21" fill="#8f3f7d"/>
<rect x="1068" y="1073" width="22" height="21" fill="#92417f"/>
<rect x="1090" y="1073" width="22" height="21" fill="#944482"/>
<rect x="1112" y="1073" width="22" height="21" fill="#964784"/>
<rect x="1134" y="1073" width="21" height="21" fill="#974984"/>
<rect x="1155" y="1073" width="22" height="21" fill="#954782"/>
<rect x="1177" y="1073" width="22" height="21" fill="#924580"/>
<rect x="1199" y="1073" width="22" height="21" fill="#934681"/>
<rect x="1221" y="1073" width="21" height="21" fill="#9d4d83"/>
<rect x="1242" y="1073" width="22" height="21" fill="#9b4d83"/>
<rect x="1264" y="1073" width="22" height="21" fill="#914882"/>
<rect x="1286" y="1073" width="195" height="21" fill="#562496"/>
<rect x="873" y="1094" width="87" height="22" fill="#bc6696"/>
<rect x="960" y="1094" width="22" height="22" fill="#863875"/>
<rect x="982" y="1094" width="21" height="22" fill="#8a3a77"/>
<rect x="1003" y="1094" width="22" height="22" fill="#8d3c7a"/>
<rect x="1025" y="1094" width="22" height="22" fill="#8f3d7b"/>
<rect x="1047" y="1094" width="21" height="22" fill="#913f7e"/>
<rect x="1068" y="1094" width="22" height="22" fill="#954280"/>
<rect x="1090" y="1094" width="22" height="22" fill="#984784"/>
<rect x="1112" y="1094" width="22" height="22" fill="#994a85"/>
<rect x="1134" y="1094" width="21" height="22" fill="#994b84"/>
<rect x="1155" y="1094" width="22" height="22" fill="#984a83"/>
<rect x="1177" y="1094" width="22" height="22" fill="#974884"/>
<rect x="1199" y="1094" width="22" height="22" fill="#9a4986"/>
<rect x="1221" y="1094" width="21" height="22" fill="#a15089"/>
<rect x="1242" y="1094" width="22" height="22" fill="#9f5088"/>
<rect x="1264" y="1094" width="22" height="22" fill="#924a84"/>
<rect x="1286" y="1094" width="195" height="22" fill="#562496"/>
<rect x="873" y="1116" width="195" height="22" fill="#bc6696"/>
<rect x="1068" y="1116" width="22" height="22" fill="#983e7f"/>
<rect x="1090" y="1116" width="22" height="22" fill="#994683"/>
<rect x="1112" y="1116" width="22" height="22" fill="#984a84"/>
<rect x="1134" y="1116" width="21" height="22" fill="#984b84"/>
<rect x="1155" y="1116" width="22" height="22" fill="#984a84"/>
<rect x="1177" y="1116" width="22" height="22" fill="#984884"/>
<rect x="1199" y="1116" width="22" height="22" fill="#9a4a86"/>
<rect x="1221" y="1116" width="21" height="22" fill="#a2518b"/>
<rect x="1242" y="1116" width="22" height="22" fill="#a0518b"/>
<rect x="1264" y="1116" width="22" height="22" fill="#924b85"/>
<rect x="1286" y="1116" width="195" height="22" fill="#562496"/>
<rect x="873" y="1138" width="304" height="22" fill="#bc6696"/>
<rect x="1177" y="1138" width="22" height="22" fill="#984884"/>
<rect x="1199" y="1138" width="22" height="22" fill="#9b4a87"/>
<rect x="1221" y="1138" width="21" height="22" fill="#a2518c"/>
<rect x="1242" y="1138" width="22" height="22" fill="#a0528b"/>
<rect x="1264" y="1138" width="217" height="22" fill="#562496"/>
<rect x="873" y="1160" width="413" height="21" fill="#bc6696"/>
<rect x="1286" y="1160" width="195" height="21" fill="#562496"/>
<rect x="873" y="1181" width="521" height="22" fill="#bc6696"/>
<rect x="1394" y="1181" width="87" height="22" fill="#562496"/>
<rect x="873" y="1203" width="608" height="22" fill="#bc6696"/>
<rect x="873" y="1225" width="608" height="21" fill="#bc6696"/>
<rect x="873" y="1246" width="608" height="22" fill="#bc6696"/>
</g>
<g fill="#000"><circle cx="1283.4" cy="64.5" r="1.6"/><circle cx="1290.5" cy="86.5" r="1.6"/><circle cx="1296.8" cy="94.4" r="1.6"/><circle cx="1312.5" cy="107.5" r="1.6"/><circle cx="1317.4" cy="112.4" r="1.6"/><circle cx="1335.7" cy="129.5" r="1.6"/><circle cx="1339.5" cy="133.3" r="1.6"/><circle cx="1349.6" cy="151.6" r="1.6"/><circle cx="1347.4" cy="172.5" r="1.6"/><circle cx="1339.5" cy="183.7" r="1.6"/><circle cx="1329.7" cy="194.6" r="1.6"/><circle cx="1322.6" cy="216.6" r="1.6"/><circle cx="1323.7" cy="237.6" r="1.6"/><circle cx="1321.8" cy="259.6" r="1.6"/><circle cx="1317.4" cy="273.7" r="1.6"/><circle cx="1316.6" cy="281.6" r="1.6"/><circle cx="1312.5" cy="303.4" r="1.6"/><circle cx="1311.5" cy="324.4" r="1.6"/><circle cx="1310.6" cy="346.4" r="1.6"/><circle cx="1312.5" cy="368.4" r="1.6"/><circle cx="1317.7" cy="389.9" r="1.6"/><circle cx="1326.4" cy="411.4" r="1.6"/><circle cx="1324.8" cy="433.5" r="1.6"/><circle cx="1317.4" cy="441.6" r="1.6"/><circle cx="1306.6" cy="454.4" r="1.6"/><circle cx="1295.9" cy="475.9" r="1.6"/><circle cx="1289.7" cy="498.5" r="1.6"/><circle cx="1280.7" cy="519.5" r="1.6"/><circle cx="1274.4" cy="529.5" r="1.6"/><circle cx="1267.6" cy="541.5" r="1.6"/><circle cx="1257.9" cy="563.5" r="1.6"/><circle cx="1252.7" cy="572.5" r="1.6"/><circle cx="1240.7" cy="585.6" r="1.6"/><circle cx="1231.7" cy="593.5" r="1.6"/><circle cx="1210.0" cy="604.6" r="1.6"/><circle cx="1196.9" cy="606.5" r="1.6"/><circle cx="1187.6" cy="608.4" r="1.6"/><circle cx="1166.4" cy="607.3" r="1.6"/><circle cx="1150.6" cy="628.3" r="1.6"/><circle cx="1144.9" cy="646.5" r="1.6"/><circle cx="1142.5" cy="650.6" r="1.6"/><circle cx="1137.9" cy="671.6" r="1.6"/><circle cx="1133.8" cy="693.6" r="1.6"/><circle cx="1133.8" cy="715.4" r="1.6"/><circle cx="1129.7" cy="736.6" r="1.6"/><circle cx="1124.5" cy="758.6" r="1.6"/><circle cx="1122.6" cy="764.6" r="1.6"/><circle cx="1117.7" cy="780.4" r="1.6"/><circle cx="1101.4" cy="803.0" r="1.6"/><circle cx="1079.9" cy="810.6" r="1.6"/><circle cx="1057.9" cy="823.9" r="1.6"/><circle cx="1062.5" cy="845.4" r="1.6"/><circle cx="1079.9" cy="867.2" r="1.6"/><circle cx="1100.6" cy="879.5" r="1.6"/><circle cx="1122.1" cy="888.7" r="1.6"/><circle cx="1144.7" cy="901.5" r="1.6"/><circle cx="1166.4" cy="906.7" r="1.6"/><circle cx="1187.6" cy="903.4" r="1.6"/><circle cx="1209.7" cy="893.6" r="1.6"/><circle cx="1216.8" cy="888.4" r="1.6"/><circle cx="1231.7" cy="880.5" r="1.6"/><circle cx="1252.4" cy="880.5" r="1.6"/><circle cx="1271.7" cy="888.4" r="1.6"/><circle cx="1274.4" cy="892.5" r="1.6"/><circle cx="1287.5" cy="910.5" r="1.6"/><circle cx="1293.8" cy="932.5" r="1.6"/><circle cx="1288.6" cy="953.7" r="1.6"/><circle cx="1274.4" cy="976.1" r="1.6"/><circle cx="1265.7" cy="997.4" r="1.6"/><circle cx="1260.6" cy="1018.6" r="1.6"/><circle cx="1269.6" cy="1040.4" r="1.6"/><circle cx="1274.4" cy="1046.4" r="1.6"/><circle cx="1290.5" cy="1062.2" r="1.6"/><circle cx="1296.8" cy="1073.6" r="1.6"/><circle cx="1299.8" cy="1084.5" r="1.6"/><circle cx="1301.7" cy="1105.7" r="1.6"/><circle cx="1298.7" cy="1127.5" r="1.6"/></g>
<g id="legend">
<rect x="1491" y="671.5" width="400" height="157" rx="3" ry="3" fill="#fff" fill-opacity=".8" stroke="#cfcfcf" stroke-width="2"/>
<rect x="1498" y="680" width="44" height="16" fill="#fd8d3c"/>
<rect x="1498" y="710" width="44" height="16" fill="#c6ffff"/>
<rect x="1498" y="741" width="44" height="16" fill="#005bff"/>
<rect x="1498" y="778" width="45" height="3.2" fill="#000"/>
<rect x="1499" y="802" width="42" height="15" fill="#993333" stroke="#8b101a" stroke-width="2"/>
<g font-family="'DejaVu Sans','Liberation Sans',sans-serif" font-size="20.7px" fill="#000">
<text x="1557" y="696">sand</text>
<text x="1557" y="726">whitewater</text>
<text x="1557" y="757">water</text>
<text x="1557" y="787">shoreline</text>
<text x="1557" y="817">reference shoreline buffer</text>
</g></g>
<g id="p3" shape-rendering="crispEdges">
<rect x="1773" y="53" width="22" height="22" fill="#ff4040"/>
<rect x="1795" y="53" width="22" height="22" fill="#bc1343"/>
<rect x="1817" y="53" width="108" height="22" fill="#bc1242"/>
<rect x="1925" y="53" width="22" height="22" fill="#bc1343"/>
<rect x="1947" y="53" width="22" height="22" fill="#bc1444"/>
<rect x="1969" y="53" width="22" height="22" fill="#bc1545"/>
<rect x="1991" y="53" width="21" height="22" fill="#bc1747"/>
<rect x="2012" y="53" width="22" height="22" fill="#bc1a4a"/>
<rect x="2034" y="53" width="22" height="22" fill="#bc1f4f"/>
<rect x="2056" y="53" width="22" height="22" fill="#bc2555"/>
<rect x="2078" y="53" width="21" height="22" fill="#bc3060"/>
<rect x="2099" y="53" width="22" height="22" fill="#bc4070"/>
<rect x="2121" y="53" width="22" height="22" fill="#bc5989"/>
<rect x="2143" y="53" width="21" height="22" fill="#a34d96"/>
<rect x="2164" y="53" width="22" height="22" fill="#883296"/>
<rect x="2186" y="53" width="22" height="22" fill="#792496"/>
<rect x="2208" y="53" width="22" height="22" fill="#711b96"/>
<rect x="2230" y="53" width="21" height="22" fill="#6b1596"/>
<rect x="2251" y="53" width="22" height="22" fill="#671196"/>
<rect x="2273" y="53" width="22" height="22" fill="#640e96"/>
<rect x="2295" y="53" width="22" height="22" fill="#620d96"/>
<rect x="2317" y="53" width="21" height="22" fill="#620c96"/>
<rect x="1773" y="75" width="22" height="21" fill="#bc1343"/>
<rect x="1795" y="75" width="44" height="21" fill="#bc1242"/>
<rect x="1839" y="75" width="86" height="21" fill="#bc1141"/>
<rect x="1925" y="75" width="22" height="21" fill="#bc1242"/>
<rect x="1947" y="75" width="22" height="21" fill="#bc1343"/>
<rect x="1969" y="75" width="22" height="21" fill="#bc1444"/>
<rect x="1991" y="75" width="21" height="21" fill="#bc1747"/>
<rect x="2012" y="75" width="22" height="21" fill="#bc1a4a"/>
<rect x="2034" y="75" width="22" height="21" fill="#bc1e4e"/>
<rect x="2056" y="75" width="22" height="21" fill="#bc2454"/>
<rect x="2078" y="75" width="21" height="21" fill="#bc2d5d"/>
<rect x="2099" y="75" width="22" height="21" fill="#bc3b6b"/>
<rect x="2121" y="75" width="22" height="21" fill="#bc5181"/>
<rect x="2143" y="75" width="21" height="21" fill="#b05a96"/>
<rect x="2164" y="75" width="22" height="21" fill="#974196"/>
<rect x="2186" y="75" width="22" height="21" fill="#853096"/>
<rect x="2208" y="75" width="22" height="21" fill="#792396"/>
<rect x="2230" y="75" width="21" height="21" fill="#6f1a96"/>
<rect x="2251" y="75" width="22" height="21" fill="#691396"/>
<rect x="2273" y="75" width="22" height="21" fill="#640e96"/>
<rect x="2295" y="75" width="22" height="21" fill="#620c96"/>
<rect x="2317" y="75" width="21" height="21" fill="#610b96"/>
<rect x="1773" y="96" width="22" height="22" fill="#bc1343"/>
<rect x="1795" y="96" width="22" height="22" fill="#bc1242"/>
<rect x="1817" y="96" width="43" height="22" fill="#bc1141"/>
<rect x="1860" y="96" width="65" height="22" fill="#bc1040"/>
<rect x="1925" y="96" width="22" height="22" fill="#bc1141"/>
<rect x="1947" y="96" width="22" height="22" fill="#bc1242"/>
<rect x="1969" y="96" width="22" height="22" fill="#bc1444"/>
<rect x="1991" y="96" width="21" height="22" fill="#bc1646"/>
<rect x="2012" y="96" width="22" height="22" fill="#bc1848"/>
<rect x="2034" y="96" width="22" height="22" fill="#bc1c4c"/>
<rect x="2056" y="96" width="22" height="22" fill="#bc2252"/>
<rect x="2078" y="96" width="21" height="22" fill="#bc2a5a"/>
<rect x="2099" y="96" width="22" height="22" fill="#bc3565"/>
<rect x="2121" y="96" width="22" height="22" fill="#bc4575"/>
<rect x="2143" y="96" width="21" height="22" fill="#bc5787"/>
<rect x="2164" y="96" width="22" height="22" fill="#b35d96"/>
<rect x="2186" y="96" width="22" height="22" fill="#994396"/>
<rect x="2208" y="96" width="22" height="22" fill="#842e96"/>
<rect x="2230" y="96" width="21" height="22" fill="#752096"/>
<rect x="2251" y="96" width="22" height="22" fill="#6b1596"/>
<rect x="2273" y="96" width="22" height="22" fill="#640f96"/>
<rect x="2295" y="96" width="22" height="22" fill="#610c96"/>
<rect x="2317" y="96" width="21" height="22" fill="#600b96"/>
<rect x="1752" y="118" width="21" height="22" fill="#8f0050" fill-opacity=".6"/>
<rect x="1773" y="118" width="22" height="22" fill="#bc1343"/>
<rect x="1795" y="118" width="22" height="22" fill="#bc1242"/>
<rect x="1817" y="118" width="43" height="22" fill="#bc1141"/>
<rect x="1860" y="118" width="87" height="22" fill="#bc1040"/>
<rect x="1947" y="118" width="22" height="22" fill="#bc1141"/>
<rect x="1969" y="118" width="22" height="22" fill="#bc1343"/>
<rect x="1991" y="118" width="21" height="22" fill="#bc1545"/>
<rect x="2012" y="118" width="22" height="22" fill="#bc1747"/>
<rect x="2034" y="118" width="22" height="22" fill="#bc1b4b"/>
<rect x="2056" y="118" width="22" height="22" fill="#bc2050"/>
<rect x="2078" y="118" width="21" height="22" fill="#bc2656"/>
<rect x="2099" y="118" width="22" height="22" fill="#bc2e5e"/>
<rect x="2121" y="118" width="22" height="22" fill="#bc3767"/>
<rect x="2143" y="118" width="21" height="22" fill="#bc4373"/>
<rect x="2164" y="118" width="22" height="22" fill="#bc5585"/>
<rect x="2186" y="118" width="22" height="22" fill="#b45e96"/>
<rect x="2208" y="118" width="22" height="22" fill="#964096"/>
<rect x="2230" y="118" width="21" height="22" fill="#7c2696"/>
<rect x="2251" y="118" width="22" height="22" fill="#6e1896"/>
<rect x="2273" y="118" width="22" height="22" fill="#651096"/>
<rect x="2295" y="118" width="22" height="22" fill="#610c96"/>
<rect x="2317" y="118" width="21" height="22" fill="#600a96"/>
<rect x="1752" y="140" width="21" height="21" fill="#8f0050" fill-opacity=".6"/>
<rect x="1773" y="140" width="22" height="21" fill="#bc1343"/>
<rect x="1795" y="140" width="44" height="21" fill="#bc1242"/>
<rect x="1839" y="140" width="21" height="21" fill="#bc1141"/>
<rect x="1860" y="140" width="87" height="21" fill="#bc1040"/>
<rect x="1947" y="140" width="22" height="21" fill="#bc1141"/>
<rect x="1969" y="140" width="22" height="21" fill="#bc1242"/>
<rect x="1991" y="140" width="21" height="21" fill="#bc1444"/>
<rect x="2012" y="140" width="22" height="21" fill="#bc1747"/>
<rect x="2034" y="140" width="22" height="21" fill="#bc1949"/>
<rect x="2056" y="140" width="22" height="21" fill="#bc1d4d"/>
<rect x="2078" y="140" width="21" height="21" fill="#bc2151"/>
<rect x="2099" y="140" width="22" height="21" fill="#bc2656"/>
<rect x="2121" y="140" width="22" height="21" fill="#bc2d5d"/>
<rect x="2143" y="140" width="21" height="21" fill="#bc3666"/>
<rect x="2164" y="140" width="22" height="21" fill="#bc4373"/>
<rect x="2186" y="140" width="22" height="21" fill="#bc5a8a"/>
<rect x="2208" y="140" width="22" height="21" fill="#a34d96"/>
<rect x="2230" y="140" width="21" height="21" fill="#812b96"/>
<rect x="2251" y="140" width="22" height="21" fill="#6f1996"/>
<rect x="2273" y="140" width="22" height="21" fill="#661096"/>
<rect x="2295" y="140" width="22" height="21" fill="#610b96"/>
<rect x="2317" y="140" width="21" height="21" fill="#600a96"/>
<rect x="1752" y="161" width="21" height="22" fill="#8f0050" fill-opacity=".6"/>
<rect x="1773" y="161" width="22" height="22" fill="#bc1444"/>
<rect x="1795" y="161" width="44" height="22" fill="#bc1343"/>
<rect x="1839" y="161" width="21" height="22" fill="#bc1242"/>
<rect x="1860" y="161" width="22" height="22" fill="#bc1141"/>
<rect x="1882" y="161" width="65" height="22" fill="#bc1040"/>
<rect x="1947" y="161" width="22" height="22" fill="#bc1141"/>
<rect x="1969" y="161" width="22" height="22" fill="#bc1242"/>
<rect x="1991" y="161" width="21" height="22" fill="#bc1444"/>
<rect x="2012" y="161" width="22" height="22" fill="#bc1646"/>
<rect x="2034" y="161" width="22" height="22" fill="#bc1848"/>
<rect x="2056" y="161" width="22" height="22" fill="#bc1b4b"/>
<rect x="2078" y="161" width="21" height="22" fill="#bc1e4e"/>
<rect x="2099" y="161" width="22" height="22" fill="#bc2353"/>
<rect x="2121" y="161" width="22" height="22" fill="#bc2c5c"/>
<rect x="2143" y="161" width="21" height="22" fill="#bc3868"/>
<rect x="2164" y="161" width="22" height="22" fill="#bc4676"/>
<rect x="2186" y="161" width="22" height="22" fill="#bc5c8c"/>
<rect x="2208" y="161" width="22" height="22" fill="#9e4896"/>
<rect x="2230" y="161" width="21" height="22" fill="#7d2796"/>
<rect x="2251" y="161" width="22" height="22" fill="#6d1796"/>
<rect x="2273" y="161" width="22" height="22" fill="#650f96"/>
<rect x="2295" y="161" width="22" height="22" fill="#610b96"/>
<rect x="2317" y="161" width="21" height="22" fill="#600a96"/>
<rect x="1752" y="183" width="21" height="22" fill="#8f0050" fill-opacity=".6"/>
<rect x="1773" y="183" width="22" height="22" fill="#bc1444"/>
<rect x="1795" y="183" width="22" height="22" fill="#bc1545"/>
<rect x="1817" y="183" width="43" height="22" fill="#bc1444"/>
<rect x="1860" y="183" width="22" height="22" fill="#bc1343"/>
<rect x="1882" y="183" width="22" height="22" fill="#bc1242"/>
<rect x="1904" y="183" width="43" height="22" fill="#bc1141"/>
<rect x="1947" y="183" width="22" height="22" fill="#bc1242"/>
<rect x="1969" y="183" width="22" height="22" fill="#bc1343"/>
<rect x="1991" y="183" width="21" height="22" fill="#bc1444"/>
<rect x="2012" y="183" width="22" height="22" fill="#bc1646"/>
<rect x="2034" y="183" width="22" height="22" fill="#bc1848"/>
<rect x="2056" y="183" width="22" height="22" fill="#bc1b4b"/>
<rect x="2078" y="183" width="21" height="22" fill="#bc1f4f"/>
<rect x="2099" y="183" width="22" height="22" fill="#bc2656"/>
<rect x="2121" y="183" width="22" height="22" fill="#bc3060"/>
<rect x="2143" y="183" width="21" height="22" fill="#bc3e6e"/>
<rect x="2164" y="183" width="22" height="22" fill="#bc5585"/>
<rect x="2186" y="183" width="22" height="22" fill="#aa5496"/>
<rect x="2208" y="183" width="22" height="22" fill="#8c3796"/>
<rect x="2230" y="183" width="21" height="22" fill="#772196"/>
<rect x="2251" y="183" width="22" height="22" fill="#6b1596"/>
<rect x="2273" y="183" width="22" height="22" fill="#640e96"/>
<rect x="2295" y="183" width="22" height="22" fill="#610b96"/>
<rect x="2317" y="183" width="21" height="22" fill="#600b96"/>
<rect x="1752" y="205" width="21" height="22" fill="#8f0050" fill-opacity=".6"/>
<rect x="1773" y="205" width="22" height="22" fill="#bc1545"/>
<rect x="1795" y="205" width="44" height="22" fill="#bc1646"/>
<rect x="1839" y="205" width="21" height="22" fill="#bc1545"/>
<rect x="1860" y="205" width="22" height="22" fill="#bc1444"/>
<rect x="1882" y="205" width="65" height="22" fill="#bc1343"/>
<rect x="1947" y="205" width="22" height="22" fill="#bc1444"/>
<rect x="1969" y="205" width="22" height="22" fill="#bc1545"/>
<rect x="1991" y="205" width="21" height="22" fill="#bc1646"/>
<rect x="2012" y="205" width="22" height="22" fill="#bc1747"/>
<rect x="2034" y="205" width="22" height="22" fill="#bc1949"/>
<rect x="2056" y="205" width="22" height="22" fill="#bc1c4c"/>
<rect x="2078" y="205" width="21" height="22" fill="#bc2050"/>
<rect x="2099" y="205" width="22" height="22" fill="#bc2757"/>
<rect x="2121" y="205" width="22" height="22" fill="#bc3262"/>
<rect x="2143" y="205" width="21" height="22" fill="#bc4474"/>
<rect x="2164" y="205" width="22" height="22" fill="#bc5f8f"/>
<rect x="2186" y="205" width="22" height="22" fill="#964096"/>
<rect x="2208" y="205" width="22" height="22" fill="#7a2496"/>
<rect x="2230" y="205" width="21" height="22" fill="#6e1896"/>
<rect x="2251" y="205" width="22" height="22" fill="#671196"/>
<rect x="2273" y="205" width="22" height="22" fill="#630d96"/>
<rect x="2295" y="205" width="22" height="22" fill="#610c96"/>
<rect x="2317" y="205" width="21" height="22" fill="#610b96"/>
<rect x="1752" y="227" width="21" height="21" fill="#8f0050" fill-opacity=".6"/>
<rect x="1773" y="227" width="22" height="21" fill="#bc1646"/>
<rect x="1795" y="227" width="44" height="21" fill="#bc1747"/>
<rect x="1839" y="227" width="43" height="21" fill="#bc1646"/>
<rect x="1882" y="227" width="65" height="21" fill="#bc1545"/>
<rect x="1947" y="227" width="22" height="21" fill="#bc1646"/>
<rect x="1969" y="227" width="43" height="21" fill="#bc1747"/>
<rect x="2012" y="227" width="22" height="21" fill="#bc1848"/>
<rect x="2034" y="227" width="22" height="21" fill="#bc1a4a"/>
<rect x="2056" y="227" width="22" height="21" fill="#bc1c4c"/>
<rect x="2078" y="227" width="21" height="21" fill="#bc2050"/>
<rect x="2099" y="227" width="22" height="21" fill="#bc2757"/>
<rect x="2121" y="227" width="22" height="21" fill="#bc3262"/>
<rect x="2143" y="227" width="21" height="21" fill="#bc4373"/>
<rect x="2164" y="227" width="22" height="21" fill="#bc5d8d"/>
<rect x="2186" y="227" width="22" height="21" fill="#943f96"/>
<rect x="2208" y="227" width="22" height="21" fill="#782396"/>
<rect x="2230" y="227" width="21" height="21" fill="#6c1696"/>
<rect x="2251" y="227" width="22" height="21" fill="#651096"/>
<rect x="2273" y="227" width="22" height="21" fill="#630d96"/>
<rect x="2295" y="227" width="22" height="21" fill="#620c96"/>
<rect x="2317" y="227" width="21" height="21" fill="#610c96"/>
<rect x="1730" y="248" width="43" height="22" fill="#8f0050" fill-opacity=".6"/>
<rect x="1773" y="248" width="22" height="22" fill="#bc1646"/>
<rect x="1795" y="248" width="87" height="22" fill="#bc1747"/>
<rect x="1882" y="248" width="43" height="22" fill="#bc1646"/>
<rect x="1925" y="248" width="22" height="22" fill="#bc1747"/>
<rect x="1947" y="248" width="22" height="22" fill="#bc1848"/>
<rect x="1969" y="248" width="43" height="22" fill="#bc1949"/>
<rect x="2012" y="248" width="22" height="22" fill="#bc1a4a"/>
<rect x="2034" y="248" width="22" height="22" fill="#bc1b4b"/>
<rect x="2056" y="248" width="22" height="22" fill="#bc1d4d"/>
<rect x="2078" y="248" width="21" height="22" fill="#bc2252"/>
<rect x="2099" y="248" width="22" height="22" fill="#bc2959"/>
<rect x="2121" y="248" width="22" height="22" fill="#bc3464"/>
<rect x="2143" y="248" width="21" height="22" fill="#bc4676"/>
<rect x="2164" y="248" width="22" height="22" fill="#bc6090"/>
<rect x="2186" y="248" width="22" height="22" fill="#913b96"/>
<rect x="2208" y="248" width="22" height="22" fill="#772296"/>
<rect x="2230" y="248" width="21" height="22" fill="#6b1696"/>
<rect x="2251" y="248" width="22" height="22" fill="#661096"/>
<rect x="2273" y="248" width="22" height="22" fill="#630d96"/>
<rect x="2295" y="248" width="43" height="22" fill="#620c96"/>
<rect x="1752" y="270" width="21" height="22" fill="#8f0050" fill-opacity=".6"/>
<rect x="1773" y="270" width="44" height="22" fill="#bc1646"/>
<rect x="1817" y="270" width="87" height="22" fill="#bc1747"/>
<rect x="1904" y="270" width="21" height="22" fill="#bc1848"/>
<rect x="1925" y="270" width="22" height="22" fill="#bc1949"/>
<rect x="1947" y="270" width="44" height="22" fill="#bc1a4a"/>
<rect x="1991" y="270" width="43" height="22" fill="#bc1b4b"/>
<rect x="2034" y="270" width="22" height="22" fill="#bc1c4c"/>
<rect x="2056" y="270" width="22" height="22" fill="#bc1e4e"/>
<rect x="2078" y="270" width="21" height="22" fill="#bc2353"/>
<rect x="2099" y="270" width="22" height="22" fill="#bc2b5b"/>
<rect x="2121" y="270" width="22" height="22" fill="#bc3767"/>
<rect x="2143" y="270" width="21" height="22" fill="#bc4a7a"/>
<rect x="2164" y="270" width="22" height="22" fill="#b76196"/>
<rect x="2186" y="270" width="22" height="22" fill="#893496"/>
<rect x="2208" y="270" width="22" height="22" fill="#741e96"/>
<rect x="2230" y="270" width="21" height="22" fill="#6a1496"/>
<rect x="2251" y="270" width="22" height="22" fill="#650f96"/>
<rect x="2273" y="270" width="22" height="22" fill="#630d96"/>
<rect x="2295" y="270" width="43" height="22" fill="#620c96"/>
<rect x="1752" y="292" width="21" height="21" fill="#8f0050" fill-opacity=".6"/>
<rect x="1773" y="292" width="22" height="21" fill="#bc1545"/>
<rect x="1795" y="292" width="65" height="21" fill="#bc1646"/>
<rect x="1860" y="292" width="44" height="21" fill="#bc1747"/>
<rect x="1904" y="292" width="21" height="21" fill="#bc1848"/>
<rect x="1925" y="292" width="22" height="21" fill="#bc1949"/>
<rect x="1947" y="292" width="22" height="21" fill="#bc1a4a"/>
<rect x="1969" y="292" width="65" height="21" fill="#bc1b4b"/>
<rect x="2034" y="292" width="22" height="21" fill="#bc1c4c"/>
<rect x="2056" y="292" width="22" height="21" fill="#bc1f4f"/>
<rect x="2078" y="292" width="21" height="21" fill="#bc2454"/>
<rect x="2099" y="292" width="22" height="21" fill="#bc2c5c"/>
<rect x="2121" y="292" width="22" height="21" fill="#bc3a6a"/>
<rect x="2143" y="292" width="21" height="21" fill="#bc4f7f"/>
<rect x="2164" y="292" width="22" height="21" fill="#ac5696"/>
<rect x="2186" y="292" width="22" height="21" fill="#852f96"/>
<rect x="2208" y="292" width="22" height="21" fill="#711c96"/>
<rect x="2230" y="292" width="21" height="21" fill="#681396"/>
<rect x="2251" y="292" width="22" height="21" fill="#640e96"/>
<rect x="2273" y="292" width="22" height="21" fill="#620d96"/>
<rect x="2295" y="292" width="22" height="21" fill="#620c96"/>
<rect x="2317" y="292" width="21" height="21" fill="#610c96"/>
<rect x="1752" y="313" width="21" height="22" fill="#8f0050" fill-opacity=".6"/>
<rect x="1773" y="313" width="44" height="22" fill="#bc1545"/>
<rect x="1817" y="313" width="65" height="22" fill="#bc1646"/>
<rect x="1882" y="313" width="22" height="22" fill="#bc1747"/>
<rect x="1904" y="313" width="21" height="22" fill="#bc1848"/>
<rect x="1925" y="313" width="22" height="22" fill="#bc1949"/>
<rect x="1947" y="313" width="22" height="22" fill="#bc1a4a"/>
<rect x="1969" y="313" width="65" height="22" fill="#bc1b4b"/>
<rect x="2034" y="313" width="22" height="22" fill="#bc1c4c"/>
<rect x="2056" y="313" width="22" height="22" fill="#bc1f4f"/>
<rect x="2078" y="313" width="21" height="22" fill="#bc2454"/>
<rect x="2099" y="313" width="22" height="22" fill="#bc2d5d"/>
<rect x="2121" y="313" width="22" height="22" fill="#bc3a6a"/>
<rect x="2143" y="313" width="21" height="22" fill="#bc5080"/>
<rect x="2164" y="313" width="22" height="22" fill="#a85396"/>
<rect x="2186" y="313" width="22" height="22" fill="#832d96"/>
<rect x="2208" y="313" width="22" height="22" fill="#701a96"/>
<rect x="2230" y="313" width="21" height="22" fill="#671196"/>
<rect x="2251" y="313" width="22" height="22" fill="#630d96"/>
<rect x="2273" y="313" width="22" height="22" fill="#610c96"/>
<rect x="2295" y="313" width="43" height="22" fill="#610b96"/>
<rect x="1730" y="335" width="43" height="22" fill="#8f0050" fill-opacity=".6"/>
<rect x="1773" y="335" width="44" height="22" fill="#bc1545"/>
<rect x="1817" y="335" width="65" height="22" fill="#bc1646"/>
<rect x="1882" y="335" width="22" height="22" fill="#bc1747"/>
<rect x="1904" y="335" width="43" height="22" fill="#bc1848"/>
<rect x="1947" y="335" width="22" height="22" fill="#bc1949"/>
<rect x="1969" y="335" width="65" height="22" fill="#bc1a4a"/>
<rect x="2034" y="335" width="22" height="22" fill="#bc1c4c"/>
<rect x="2056" y="335" width="22" height="22" fill="#bc1f4f"/>
<rect x="2078" y="335" width="21" height="22" fill="#bc2454"/>
<rect x="2099" y="335" width="22" height="22" fill="#bc2d5d"/>
<rect x="2121" y="335" width="22" height="22" fill="#bc3b6b"/>
<rect x="2143" y="335" width="21" height="22" fill="#bc5181"/>
<rect x="2164" y="335" width="22" height="22" fill="#a65196"/>
<rect x="2186" y="335" width="22" height="22" fill="#822c96"/>
<rect x="2208" y="335" width="22" height="22" fill="#6f1996"/>
<rect x="2230" y="335" width="21" height="22" fill="#661196"/>
<rect x="2251" y="335" width="22" height="22" fill="#620d96"/>
<rect x="2273" y="335" width="22" height="22" fill="#610b96"/>
<rect x="2295" y="335" width="22" height="22" fill="#600a96"/>
<rect x="2317" y="335" width="21" height="22" fill="#600b96"/>
<rect x="1730" y="357" width="43" height="21" fill="#8f0050" fill-opacity=".6"/>
<rect x="1773" y="357" width="22" height="21" fill="#bc1545"/>
<rect x="1795" y="357" width="65" height="21" fill="#bc1646"/>
<rect x="1860" y="357" width="44" height="21" fill="#bc1747"/>
<rect x="1904" y="357" width="65" height="21" fill="#bc1848"/>
<rect x="1969" y="357" width="43" height="21" fill="#bc1949"/>
<rect x="2012" y="357" width="22" height="21" fill="#bc1a4a"/>
<rect x="2034" y="357" width="22" height="21" fill="#bc1b4b"/>
<rect x="2056" y="357" width="22" height="21" fill="#bc1e4e"/>
<rect x="2078" y="357" width="21" height="21" fill="#bc2454"/>
<rect x="2099" y="357" width="22" height="21" fill="#bc2c5c"/>
<rect x="2121" y="357" width="22" height="21" fill="#bc3a6a"/>
<rect x="2143" y="357" width="21" height="21" fill="#bc4f7f"/>
<rect x="2164" y="357" width="22" height="21" fill="#ab5596"/>
<rect x="2186" y="357" width="22" height="21" fill="#852f96"/>
<rect x="2208" y="357" width="22" height="21" fill="#701a96"/>
<rect x="2230" y="357" width="21" height="21" fill="#671196"/>
<rect x="2251" y="357" width="22" height="21" fill="#620c96"/>
<rect x="2273" y="357" width="22" height="21" fill="#600b96"/>
<rect x="2295" y="357" width="43" height="21" fill="#600a96"/>
<rect x="1730" y="378" width="43" height="22" fill="#8f0050" fill-opacity=".6"/>
<rect x="1773" y="378" width="22" height="22" fill="#bc1545"/>
<rect x="1795" y="378" width="22" height="22" fill="#bc1646"/>
<rect x="1817" y="378" width="43" height="22" fill="#bc1747"/>
<rect x="1860" y="378" width="152" height="22" fill="#bc1848"/>
<rect x="2012" y="378" width="22" height="22" fill="#bc1949"/>
<rect x="2034" y="378" width="22" height="22" fill="#bc1b4b"/>
<rect x="2056" y="378" width="22" height="22" fill="#bc1e4e"/>
<rect x="2078" y="378" width="21" height="22" fill="#bc2353"/>
<rect x="2099" y="378" width="22" height="22" fill="#bc2a5a"/>
<rect x="2121" y="378" width="22" height="22" fill="#bc3767"/>
<rect x="2143" y="378" width="21" height="22" fill="#bc4a7a"/>
<rect x="2164" y="378" width="22" height="22" fill="#b96496"/>
<rect x="2186" y="378" width="22" height="22" fill="#8d3796"/>
<rect x="2208" y="378" width="22" height="22" fill="#741e96"/>
<rect x="2230" y="378" width="21" height="22" fill="#691396"/>
<rect x="2251" y="378" width="22" height="22" fill="#630d96"/>
<rect x="2273" y="378" width="22" height="22" fill="#600b96"/>
<rect x="2295" y="378" width="43" height="22" fill="#600a96"/>
<rect x="1730" y="400" width="43" height="22" fill="#8f0050" fill-opacity=".6"/>
<rect x="1773" y="400" width="44" height="22" fill="#bc1646"/>
<rect x="1817" y="400" width="22" height="22" fill="#bc1747"/>
<rect x="1839" y="400" width="21" height="22" fill="#bc1848"/>
<rect x="1860" y="400" width="87" height="22" fill="#bc1949"/>
<rect x="1947" y="400" width="65" height="22" fill="#bc1848"/>
<rect x="2012" y="400" width="22" height="22" fill="#bc1949"/>
<rect x="2034" y="400" width="22" height="22" fill="#bc1b4b"/>
<rect x="2056" y="400" width="22" height="22" fill="#bc1d4d"/>
<rect x="2078" y="400" width="21" height="22" fill="#bc2252"/>
<rect x="2099" y="400" width="22" height="22" fill="#bc2858"/>
<rect x="2121" y="400" width="22" height="22" fill="#bc3363"/>
<rect x="2143" y="400" width="21" height="22" fill="#bc4272"/>
<rect x="2164" y="400" width="22" height="22" fill="#bc5a8a"/>
<rect x="2186" y="400" width="22" height="22" fill="#994496"/>
<rect x="2208" y="400" width="22" height="22" fill="#792396"/>
<rect x="2230" y="400" width="21" height="22" fill="#6a1596"/>
<rect x="2251" y="400" width="22" height="22" fill="#640e96"/>
<rect x="2273" y="400" width="22" height="22" fill="#610b96"/>
<rect x="2295" y="400" width="43" height="22" fill="#600a96"/>
<rect x="1730" y="422" width="43" height="22" fill="#8f0050" fill-opacity=".6"/>
<rect x="1773" y="422" width="22" height="22" fill="#bc1545"/>
<rect x="1795" y="422" width="22" height="22" fill="#bc1646"/>
<rect x="1817" y="422" width="22" height="22" fill="#bc1848"/>
<rect x="1839" y="422" width="21" height="22" fill="#bc1949"/>
<rect x="1860" y="422" width="87" height="22" fill="#bc1a4a"/>
<rect x="1947" y="422" width="22" height="22" fill="#bc1949"/>
<rect x="1969" y="422" width="22" height="22" fill="#bc1848"/>
<rect x="1991" y="422" width="21" height="22" fill="#bc1949"/>
<rect x="2012" y="422" width="22" height="22" fill="#bc1a4a"/>
<rect x="2034" y="422" width="22" height="22" fill="#bc1c4c"/>
<rect x="2056" y="422" width="22" height="22" fill="#bc1f4f"/>
<rect x="2078" y="422" width="21" height="22" fill="#bc2555"/>
<rect x="2099" y="422" width="22" height="22" fill="#bc2d5d"/>
<rect x="2121" y="422" width="22" height="22" fill="#bc3969"/>
<rect x="2143" y="422" width="21" height="22" fill="#bc4878"/>
<rect x="2164" y="422" width="22" height="22" fill="#bc5d8d"/>
<rect x="2186" y="422" width="22" height="22" fill="#964196"/>
<rect x="2208" y="422" width="22" height="22" fill="#782296"/>
<rect x="2230" y="422" width="21" height="22" fill="#6a1496"/>
<rect x="2251" y="422" width="22" height="22" fill="#640e96"/>
<rect x="2273" y="422" width="22" height="22" fill="#610b96"/>
<rect x="2295" y="422" width="43" height="22" fill="#600a96"/>
<rect x="1730" y="444" width="43" height="21" fill="#8f0050" fill-opacity=".6"/>
<rect x="1773" y="444" width="22" height="21" fill="#bc1545"/>
<rect x="1795" y="444" width="22" height="21" fill="#bc1646"/>
<rect x="1817" y="444" width="22" height="21" fill="#bc1747"/>
<rect x="1839" y="444" width="21" height="21" fill="#bc1949"/>
<rect x="1860" y="444" width="22" height="21" fill="#bc1a4a"/>
<rect x="1882" y="444" width="43" height="21" fill="#bc1b4b"/>
<rect x="1925" y="444" width="44" height="21" fill="#bc1a4a"/>
<rect x="1969" y="444" width="43" height="21" fill="#bc1949"/>
<rect x="2012" y="444" width="22" height="21" fill="#bc1a4a"/>
<rect x="2034" y="444" width="22" height="21" fill="#bc1d4d"/>
<rect x="2056" y="444" width="22" height="21" fill="#bc2151"/>
<rect x="2078" y="444" width="21" height="21" fill="#bc2858"/>
<rect x="2099" y="444" width="22" height="21" fill="#bc3262"/>
<rect x="2121" y="444" width="22" height="21" fill="#bc4171"/>
<rect x="2143" y="444" width="21" height="21" fill="#bc5888"/>
<rect x="2164" y="444" width="22" height="21" fill="#a34e96"/>
<rect x="2186" y="444" width="22" height="21" fill="#873196"/>
<rect x="2208" y="444" width="22" height="21" fill="#741e96"/>
<rect x="2230" y="444" width="21" height="21" fill="#691496"/>
<rect x="2251" y="444" width="22" height="21" fill="#640e96"/>
<rect x="2273" y="444" width="22" height="21" fill="#610c96"/>
<rect x="2295" y="444" width="22" height="21" fill="#610b96"/>
<rect x="2317" y="444" width="21" height="21" fill="#600b96"/>
<rect x="1730" y="465" width="43" height="22" fill="#8f0050" fill-opacity=".6"/>
<rect x="1773" y="465" width="22" height="22" fill="#bc1343"/>
<rect x="1795" y="465" width="22" height="22" fill="#bc1444"/>
<rect x="1817" y="465" width="22" height="22" fill="#bc1646"/>
<rect x="1839" y="465" width="21" height="22" fill="#bc1747"/>
<rect x="1860" y="465" width="22" height="22" fill="#bc1949"/>
<rect x="1882" y="465" width="22" height="22" fill="#bc1a4a"/>
<rect x="1904" y="465" width="87" height="22" fill="#bc1b4b"/>
<rect x="1991" y="465" width="21" height="22" fill="#bc1a4a"/>
<rect x="2012" y="465" width="22" height="22" fill="#bc1c4c"/>
<rect x="2034" y="465" width="22" height="22" fill="#bc1e4e"/>
<rect x="2056" y="465" width="22" height="22" fill="#bc2353"/>
<rect x="2078" y="465" width="21" height="22" fill="#bc2b5b"/>
<rect x="2099" y="465" width="22" height="22" fill="#bc3767"/>
<rect x="2121" y="465" width="22" height="22" fill="#bc4a7a"/>
<rect x="2143" y="465" width="21" height="22" fill="#ba6496"/>
<rect x="2164" y="465" width="22" height="22" fill="#8e3896"/>
<rect x="2186" y="465" width="22" height="22" fill="#772196"/>
<rect x="2208" y="465" width="22" height="22" fill="#6d1796"/>
<rect x="2230" y="465" width="21" height="22" fill="#671196"/>
<rect x="2251" y="465" width="22" height="22" fill="#630e96"/>
<rect x="2273" y="465" width="22" height="22" fill="#620c96"/>
<rect x="2295" y="465" width="43" height="22" fill="#610b96"/>
<rect x="1730" y="487" width="43" height="22" fill="#8f0050" fill-opacity=".6"/>
<rect x="1773" y="487" width="22" height="22" fill="#bc1141"/>
<rect x="1795" y="487" width="22" height="22" fill="#bc1242"/>
<rect x="1817" y="487" width="22" height="22" fill="#bc1343"/>
<rect x="1839" y="487" width="21" height="22" fill="#bc1545"/>
<rect x="1860" y="487" width="22" height="22" fill="#bc1747"/>
<rect x="1882" y="487" width="22" height="22" fill="#bc1949"/>
<rect x="1904" y="487" width="21" height="22" fill="#bc1a4a"/>
<rect x="1925" y="487" width="22" height="22" fill="#bc1b4b"/>
<rect x="1947" y="487" width="22" height="22" fill="#bc1c4c"/>
<rect x="1969" y="487" width="65" height="22" fill="#bc1d4d"/>
<rect x="2034" y="487" width="22" height="22" fill="#bc2151"/>
<rect x="2056" y="487" width="22" height="22" fill="#bc2757"/>
<rect x="2078" y="487" width="21" height="22" fill="#bc2f5f"/>
<rect x="2099" y="487" width="22" height="22" fill="#bc3d6d"/>
<rect x="2121" y="487" width="22" height="22" fill="#bc5181"/>
<rect x="2143" y="487" width="21" height="22" fill="#a95496"/>
<rect x="2164" y="487" width="22" height="22" fill="#842e96"/>
<rect x="2186" y="487" width="22" height="22" fill="#711c96"/>
<rect x="2208" y="487" width="22" height="22" fill="#691396"/>
<rect x="2230" y="487" width="21" height="22" fill="#650f96"/>
<rect x="2251" y="487" width="22" height="22" fill="#630d96"/>
<rect x="2273" y="487" width="22" height="22" fill="#620c96"/>
<rect x="2295" y="487" width="43" height="22" fill="#610c96"/>
<rect x="1730" y="509" width="43" height="21" fill="#8f0050" fill-opacity=".6"/>
<rect x="1773" y="509" width="44" height="21" fill="#bc0f3f"/>
<rect x="1817" y="509" width="22" height="21" fill="#bc1040"/>
<rect x="1839" y="509" width="21" height="21" fill="#bc1242"/>
<rect x="1860" y="509" width="22" height="21" fill="#bc1545"/>
<rect x="1882" y="509" width="22" height="21" fill="#bc1747"/>
<rect x="1904" y="509" width="21" height="21" fill="#bc1a4a"/>
<rect x="1925" y="509" width="22" height="21" fill="#bc1c4c"/>
<rect x="1947" y="509" width="22" height="21" fill="#bc1e4e"/>
<rect x="1969" y="509" width="22" height="21" fill="#bc2050"/>
<rect x="1991" y="509" width="21" height="21" fill="#bc2151"/>
<rect x="2012" y="509" width="22" height="21" fill="#bc2252"/>
<rect x="2034" y="509" width="22" height="21" fill="#bc2353"/>
<rect x="2056" y="509" width="22" height="21" fill="#bc2b5b"/>
<rect x="2078" y="509" width="21" height="21" fill="#bc3666"/>
<rect x="2099" y="509" width="22" height="21" fill="#bc4676"/>
<rect x="2121" y="509" width="22" height="21" fill="#bc5e8e"/>
<rect x="2143" y="509" width="21" height="21" fill="#984296"/>
<rect x="2164" y="509" width="22" height="21" fill="#7c2696"/>
<rect x="2186" y="509" width="22" height="21" fill="#6e1996"/>
<rect x="2208" y="509" width="22" height="21" fill="#671296"/>
<rect x="2230" y="509" width="21" height="21" fill="#640e96"/>
<rect x="2251" y="509" width="44" height="21" fill="#620c96"/>
<rect x="2295" y="509" width="43" height="21" fill="#610c96"/>
<rect x="1730" y="530" width="43" height="22" fill="#8f0050" fill-opacity=".6"/>
<rect x="1773" y="530" width="22" height="22" fill="#bc0c3c"/>
<rect x="1795" y="530" width="22" height="22" fill="#bc0b3b"/>
<rect x="1817" y="530" width="22" height="22" fill="#bc0c3c"/>
<rect x="1839" y="530" width="21" height="22" fill="#bc0f3f"/>
<rect x="1860" y="530" width="22" height="22" fill="#bc1242"/>
<rect x="1882" y="530" width="22" height="22" fill="#bc1545"/>
<rect x="1904" y="530" width="21" height="22" fill="#bc1949"/>
<rect x="1925" y="530" width="22" height="22" fill="#bc1c4c"/>
<rect x="1947" y="530" width="22" height="22" fill="#bc2050"/>
<rect x="1969" y="530" width="22" height="22" fill="#bc2353"/>
<rect x="1991" y="530" width="21" height="22" fill="#bc2757"/>
<rect x="2012" y="530" width="44" height="22" fill="#bc2858"/>
<rect x="2056" y="530" width="22" height="22" fill="#bc2e5e"/>
<rect x="2078" y="530" width="21" height="22" fill="#bc3c6c"/>
<rect x="2099" y="530" width="22" height="22" fill="#bc5181"/>
<rect x="2121" y="530" width="22" height="22" fill="#aa5496"/>
<rect x="2143" y="530" width="21" height="22" fill="#873196"/>
<rect x="2164" y="530" width="22" height="22" fill="#751f96"/>
<rect x="2186" y="530" width="22" height="22" fill="#6b1596"/>
<rect x="2208" y="530" width="22" height="22" fill="#661096"/>
<rect x="2230" y="530" width="21" height="22" fill="#630d96"/>
<rect x="2251" y="530" width="22" height="22" fill="#620c96"/>
<rect x="2273" y="530" width="22" height="22" fill="#610c96"/>
<rect x="2295" y="530" width="22" height="22" fill="#610b96"/>
<rect x="2317" y="530" width="21" height="22" fill="#610c96"/>
<rect x="1730" y="552" width="43" height="22" fill="#8f0050" fill-opacity=".6"/>
<rect x="1773" y="552" width="66" height="22" fill="#bc0939"/>
<rect x="1839" y="552" width="21" height="22" fill="#bc0c3c"/>
<rect x="1860" y="552" width="22" height="22" fill="#bc0f3f"/>
<rect x="1882" y="552" width="22" height="22" fill="#bc1343"/>
<rect x="1904" y="552" width="21" height="22" fill="#bc1747"/>
<rect x="1925" y="552" width="22" height="22" fill="#bc1c4c"/>
<rect x="1947" y="552" width="22" height="22" fill="#bc2151"/>
<rect x="1969" y="552" width="22" height="22" fill="#bc2757"/>
<rect x="1991" y="552" width="21" height="22" fill="#bc2e5e"/>
<rect x="2012" y="552" width="44" height="22" fill="#bc3161"/>
<rect x="2056" y="552" width="22" height="22" fill="#bc3666"/>
<rect x="2078" y="552" width="21" height="22" fill="#bc4575"/>
<rect x="2099" y="552" width="22" height="22" fill="#bc5e8e"/>
<rect x="2121" y="552" width="22" height="22" fill="#964096"/>
<rect x="2143" y="552" width="21" height="22" fill="#7c2696"/>
<rect x="2164" y="552" width="22" height="22" fill="#6e1996"/>
<rect x="2186" y="552" width="22" height="22" fill="#681296"/>
<rect x="2208" y="552" width="22" height="22" fill="#640e96"/>
<rect x="2230" y="552" width="21" height="22" fill="#620c96"/>
<rect x="2251" y="552" width="87" height="22" fill="#610b96"/>
<rect x="1730" y="574" width="43" height="21" fill="#8f0050" fill-opacity=".6"/>
<rect x="1773" y="574" width="22" height="21" fill="#bc0838"/>
<rect x="1795" y="574" width="22" height="21" fill="#bc0737"/>
<rect x="1817" y="574" width="22" height="21" fill="#bc0838"/>
<rect x="1839" y="574" width="21" height="21" fill="#bc0a3a"/>
<rect x="1860" y="574" width="22" height="21" fill="#bc0e3e"/>
<rect x="1882" y="574" width="22" height="21" fill="#bc1242"/>
<rect x="1904" y="574" width="21" height="21" fill="#bc1747"/>
<rect x="1925" y="574" width="22" height="21" fill="#bc1c4c"/>
<rect x="1947" y="574" width="22" height="21" fill="#bc2353"/>
<rect x="1969" y="574" width="22" height="21" fill="#bc2c5c"/>
<rect x="1991" y="574" width="21" height="21" fill="#bc3969"/>
<rect x="2012" y="574" width="22" height="21" fill="#bc4272"/>
<rect x="2034" y="574" width="22" height="21" fill="#bc4171"/>
<rect x="2056" y="574" width="22" height="21" fill="#bc4878"/>
<rect x="2078" y="574" width="21" height="21" fill="#bc5989"/>
<rect x="2099" y="574" width="22" height="21" fill="#a44f96"/>
<rect x="2121" y="574" width="22" height="21" fill="#873196"/>
<rect x="2143" y="574" width="21" height="21" fill="#751f96"/>
<rect x="2164" y="574" width="22" height="21" fill="#6b1596"/>
<rect x="2186" y="574" width="22" height="21" fill="#650f96"/>
<rect x="2208" y="574" width="22" height="21" fill="#620c96"/>
<rect x="2230" y="574" width="21" height="21" fill="#610b96"/>
<rect x="2251" y="574" width="44" height="21" fill="#600a96"/>
<rect x="2295" y="574" width="22" height="21" fill="#600b96"/>
<rect x="2317" y="574" width="21" height="21" fill="#610b96"/>
<rect x="1730" y="595" width="43" height="22" fill="#8f0050" fill-opacity=".6"/>
<rect x="1773" y="595" width="22" height="22" fill="#bc0939"/>
<rect x="1795" y="595" width="44" height="22" fill="#bc0838"/>
<rect x="1839" y="595" width="21" height="22" fill="#bc0a3a"/>
<rect x="1860" y="595" width="22" height="22" fill="#bc0d3d"/>
<rect x="1882" y="595" width="22" height="22" fill="#bc1141"/>
<rect x="1904" y="595" width="21" height="22" fill="#bc1646"/>
<rect x="1925" y="595" width="22" height="22" fill="#bc1c4c"/>
<rect x="1947" y="595" width="22" height="22" fill="#bc2555"/>
<rect x="1969" y="595" width="22" height="22" fill="#bc3262"/>
<rect x="1991" y="595" width="21" height="22" fill="#bc4575"/>
<rect x="2012" y="595" width="22" height="22" fill="#bc6494"/>
<rect x="2034" y="595" width="22" height="22" fill="#bc6191"/>
<rect x="2056" y="595" width="22" height="22" fill="#b76196"/>
<rect x="2078" y="595" width="21" height="22" fill="#9e4996"/>
<rect x="2099" y="595" width="22" height="22" fill="#893396"/>
<rect x="2121" y="595" width="22" height="22" fill="#792396"/>
<rect x="2143" y="595" width="21" height="22" fill="#6f1996"/>
<rect x="2164" y="595" width="22" height="22" fill="#681296"/>
<rect x="2186" y="595" width="22" height="22" fill="#640e96"/>
<rect x="2208" y="595" width="22" height="22" fill="#610b96"/>
<rect x="2230" y="595" width="21" height="22" fill="#600a96"/>
<rect x="2251" y="595" width="44" height="22" fill="#5f0996"/>
<rect x="2295" y="595" width="43" height="22" fill="#600a96"/>
<rect x="1730" y="617" width="43" height="22" fill="#8f0050" fill-opacity=".6"/>
<rect x="1773" y="617" width="22" height="22" fill="#bc0a3a"/>
<rect x="1795" y="617" width="22" height="22" fill="#bc0939"/>
<rect x="1817" y="617" width="22" height="22" fill="#bc0a3a"/>
<rect x="1839" y="617" width="21" height="22" fill="#bc0b3b"/>
<rect x="1860" y="617" width="22" height="22" fill="#bc0e3e"/>
<rect x="1882" y="617" width="22" height="22" fill="#bc1242"/>
<rect x="1904" y="617" width="21" height="22" fill="#bc1646"/>
<rect x="1925" y="617" width="22" height="22" fill="#bc1d4d"/>
<rect x="1947" y="617" width="22" height="22" fill="#bc2656"/>
<rect x="1969" y="617" width="22" height="22" fill="#bc3868"/>
<rect x="1991" y="617" width="21" height="22" fill="#bc5888"/>
<rect x="2012" y="617" width="22" height="22" fill="#9c4696"/>
<rect x="2034" y="617" width="22" height="22" fill="#8f3996"/>
<rect x="2056" y="617" width="22" height="22" fill="#8a3496"/>
<rect x="2078" y="617" width="21" height="22" fill="#802b96"/>
<rect x="2099" y="617" width="22" height="22" fill="#792396"/>
<rect x="2121" y="617" width="22" height="22" fill="#701b96"/>
<rect x="2143" y="617" width="21" height="22" fill="#6a1496"/>
<rect x="2164" y="617" width="22" height="22" fill="#651096"/>
<rect x="2186" y="617" width="22" height="22" fill="#620c96"/>
<rect x="2208" y="617" width="22" height="22" fill="#600a96"/>
<rect x="2230" y="617" width="21" height="22" fill="#5f0996"/>
<rect x="2251" y="617" width="44" height="22" fill="#5e0896"/>
<rect x="2295" y="617" width="22" height="22" fill="#5f0996"/>
<rect x="2317" y="617" width="21" height="22" fill="#600a96"/>
<rect x="1730" y="639" width="43" height="21" fill="#8f0050" fill-opacity=".6"/>
<rect x="1773" y="639" width="22" height="21" fill="#bc0d3d"/>
<rect x="1795" y="639" width="44" height="21" fill="#bc0c3c"/>
<rect x="1839" y="639" width="21" height="21" fill="#bc0d3d"/>
<rect x="1860" y="639" width="22" height="21" fill="#bc1040"/>
<rect x="1882" y="639" width="22" height="21" fill="#bc1343"/>
<rect x="1904" y="639" width="21" height="21" fill="#bc1747"/>
<rect x="1925" y="639" width="22" height="21" fill="#bc1e4e"/>
<rect x="1947" y="639" width="22" height="21" fill="#bc2959"/>
<rect x="1969" y="639" width="22" height="21" fill="#bc3f6f"/>
<rect x="1991" y="639" width="21" height="21" fill="#b86296"/>
<rect x="2012" y="639" width="22" height="21" fill="#8c3796"/>
<rect x="2034" y="639" width="22" height="21" fill="#782296"/>
<rect x="2056" y="639" width="22" height="21" fill="#772196"/>
<rect x="2078" y="639" width="21" height="21" fill="#741e96"/>
<rect x="2099" y="639" width="22" height="21" fill="#6f1996"/>
<rect x="2121" y="639" width="22" height="21" fill="#6b1596"/>
<rect x="2143" y="639" width="21" height="21" fill="#671296"/>
<rect x="2164" y="639" width="22" height="21" fill="#640e96"/>
<rect x="2186" y="639" width="22" height="21" fill="#610c96"/>
<rect x="2208" y="639" width="22" height="21" fill="#5f0a96"/>
<rect x="2230" y="639" width="65" height="21" fill="#5e0896"/>
<rect x="2295" y="639" width="22" height="21" fill="#5f0996"/>
<rect x="2317" y="639" width="21" height="21" fill="#600a96"/>
<rect x="1730" y="660" width="43" height="22" fill="#8f0050" fill-opacity=".6"/>
<rect x="1773" y="660" width="66" height="22" fill="#bc0f3f"/>
<rect x="1839" y="660" width="21" height="22" fill="#bc1040"/>
<rect x="1860" y="660" width="22" height="22" fill="#bc1242"/>
<rect x="1882" y="660" width="22" height="22" fill="#bc1444"/>
<rect x="1904" y="660" width="21" height="22" fill="#bc1949"/>
<rect x="1925" y="660" width="22" height="22" fill="#bc2050"/>
<rect x="1947" y="660" width="22" height="22" fill="#bc2d5d"/>
<rect x="1969" y="660" width="22" height="22" fill="#bc4676"/>
<rect x="1991" y="660" width="21" height="22" fill="#a95496"/>
<rect x="2012" y="660" width="22" height="22" fill="#842e96"/>
<rect x="2034" y="660" width="22" height="22" fill="#741e96"/>
<rect x="2056" y="660" width="22" height="22" fill="#6d1796"/>
<rect x="2078" y="660" width="21" height="22" fill="#6c1796"/>
<rect x="2099" y="660" width="22" height="22" fill="#6b1596"/>
<rect x="2121" y="660" width="22" height="22" fill="#681396"/>
<rect x="2143" y="660" width="21" height="22" fill="#661096"/>
<rect x="2164" y="660" width="22" height="22" fill="#640e96"/>
<rect x="2186" y="660" width="22" height="22" fill="#610b96"/>
<rect x="2208" y="660" width="22" height="22" fill="#5f0996"/>
<rect x="2230" y="660" width="65" height="22" fill="#5e0896"/>
<rect x="2295" y="660" width="22" height="22" fill="#5f0996"/>
<rect x="2317" y="660" width="21" height="22" fill="#600a96"/>
<rect x="1730" y="682" width="43" height="22" fill="#8f0050" fill-opacity=".6"/>
<rect x="1773" y="682" width="66" height="22" fill="#bc1141"/>
<rect x="1839" y="682" width="21" height="22" fill="#bc1242"/>
<rect x="1860" y="682" width="22" height="22" fill="#bc1343"/>
<rect x="1882" y="682" width="22" height="22" fill="#bc1646"/>
<rect x="1904" y="682" width="21" height="22" fill="#bc1a4a"/>
<rect x="1925" y="682" width="22" height="22" fill="#bc2151"/>
<rect x="1947" y="682" width="22" height="22" fill="#bc3060"/>
<rect x="1969" y="682" width="22" height="22" fill="#bc4d7d"/>
<rect x="1991" y="682" width="21" height="22" fill="#a04a96"/>
<rect x="2012" y="682" width="22" height="22" fill="#7f2996"/>
<rect x="2034" y="682" width="22" height="22" fill="#721c96"/>
<rect x="2056" y="682" width="22" height="22" fill="#6b1596"/>
<rect x="2078" y="682" width="21" height="22" fill="#691396"/>
<rect x="2099" y="682" width="22" height="22" fill="#681396"/>
<rect x="2121" y="682" width="22" height="22" fill="#671196"/>
<rect x="2143" y="682" width="21" height="22" fill="#651096"/>
<rect x="2164" y="682" width="22" height="22" fill="#630e96"/>
<rect x="2186" y="682" width="22" height="22" fill="#610c96"/>
<rect x="2208" y="682" width="22" height="22" fill="#600a96"/>
<rect x="2230" y="682" width="21" height="22" fill="#5f0996"/>
<rect x="2251" y="682" width="44" height="22" fill="#5e0896"/>
<rect x="2295" y="682" width="22" height="22" fill="#5f0996"/>
<rect x="2317" y="682" width="21" height="22" fill="#600a96"/>
<rect x="1730" y="704" width="43" height="22" fill="#8f0050" fill-opacity=".6"/>
<rect x="1773" y="704" width="66" height="22" fill="#bc1242"/>
<rect x="1839" y="704" width="21" height="22" fill="#bc1343"/>
<rect x="1860" y="704" width="22" height="22" fill="#bc1444"/>
<rect x="1882" y="704" width="22" height="22" fill="#bc1646"/>
<rect x="1904" y="704" width="21" height="22" fill="#bc1a4a"/>
<rect x="1925" y="704" width="22" height="22" fill="#bc2252"/>
<rect x="1947" y="704" width="22" height="22" fill="#bc3161"/>
<rect x="1969" y="704" width="22" height="22" fill="#bc4d7d"/>
<rect x="1991" y="704" width="21" height="22" fill="#9f4a96"/>
<rect x="2012" y="704" width="22" height="22" fill="#7e2996"/>
<rect x="2034" y="704" width="22" height="22" fill="#711b96"/>
<rect x="2056" y="704" width="22" height="22" fill="#6b1596"/>
<rect x="2078" y="704" width="21" height="22" fill="#681296"/>
<rect x="2099" y="704" width="22" height="22" fill="#671196"/>
<rect x="2121" y="704" width="22" height="22" fill="#661096"/>
<rect x="2143" y="704" width="21" height="22" fill="#650f96"/>
<rect x="2164" y="704" width="22" height="22" fill="#630e96"/>
<rect x="2186" y="704" width="22" height="22" fill="#620c96"/>
<rect x="2208" y="704" width="22" height="22" fill="#600b96"/>
<rect x="2230" y="704" width="21" height="22" fill="#5f0a96"/>
<rect x="2251" y="704" width="44" height="22" fill="#5f0996"/>
<rect x="2295" y="704" width="43" height="22" fill="#600a96"/>
<rect x="1730" y="726" width="43" height="21" fill="#8f0050" fill-opacity=".6"/>
<rect x="1773" y="726" width="44" height="21" fill="#bc1242"/>
<rect x="1817" y="726" width="22" height="21" fill="#bc1343"/>
<rect x="1839" y="726" width="21" height="21" fill="#bc1444"/>
<rect x="1860" y="726" width="22" height="21" fill="#bc1646"/>
<rect x="1882" y="726" width="22" height="21" fill="#bc1848"/>
<rect x="1904" y="726" width="21" height="21" fill="#bc1c4c"/>
<rect x="1925" y="726" width="22" height="21" fill="#bc2454"/>
<rect x="1947" y="726" width="22" height="21" fill="#bc3565"/>
<rect x="1969" y="726" width="22" height="21" fill="#bc5686"/>
<rect x="1991" y="726" width="21" height="21" fill="#984296"/>
<rect x="2012" y="726" width="22" height="21" fill="#7c2796"/>
<rect x="2034" y="726" width="22" height="21" fill="#701a96"/>
<rect x="2056" y="726" width="22" height="21" fill="#6a1496"/>
<rect x="2078" y="726" width="21" height="21" fill="#681296"/>
<rect x="2099" y="726" width="22" height="21" fill="#671196"/>
<rect x="2121" y="726" width="22" height="21" fill="#661096"/>
<rect x="2143" y="726" width="21" height="21" fill="#650f96"/>
<rect x="2164" y="726" width="22" height="21" fill="#630e96"/>
<rect x="2186" y="726" width="22" height="21" fill="#620c96"/>
<rect x="2208" y="726" width="22" height="21" fill="#610b96"/>
<rect x="2230" y="726" width="65" height="21" fill="#600a96"/>
<rect x="2295" y="726" width="22" height="21" fill="#600b96"/>
<rect x="2317" y="726" width="21" height="21" fill="#610b96"/>
<rect x="1730" y="747" width="43" height="22" fill="#8f0050" fill-opacity=".6"/>
<rect x="1773" y="747" width="22" height="22" fill="#bc1242"/>
<rect x="1795" y="747" width="22" height="22" fill="#bc1343"/>
<rect x="1817" y="747" width="22" height="22" fill="#bc1444"/>
<rect x="1839" y="747" width="21" height="22" fill="#bc1747"/>
<rect x="1860" y="747" width="22" height="22" fill="#bc1a4a"/>
<rect x="1882" y="747" width="22" height="22" fill="#bc1d4d"/>
<rect x="1904" y="747" width="21" height="22" fill="#bc2151"/>
<rect x="1925" y="747" width="22" height="22" fill="#bc2858"/>
<rect x="1947" y="747" width="22" height="22" fill="#bc3c6c"/>
<rect x="1969" y="747" width="22" height="22" fill="#bc6191"/>
<rect x="1991" y="747" width="21" height="22" fill="#8f3996"/>
<rect x="2012" y="747" width="22" height="22" fill="#782396"/>
<rect x="2034" y="747" width="22" height="22" fill="#6e1896"/>
<rect x="2056" y="747" width="22" height="22" fill="#691396"/>
<rect x="2078" y="747" width="21" height="22" fill="#671196"/>
<rect x="2099" y="747" width="22" height="22" fill="#661096"/>
<rect x="2121" y="747" width="22" height="22" fill="#650f96"/>
<rect x="2143" y="747" width="21" height="22" fill="#640e96"/>
<rect x="2164" y="747" width="22" height="22" fill="#630d96"/>
<rect x="2186" y="747" width="44" height="22" fill="#620c96"/>
<rect x="2230" y="747" width="108" height="22" fill="#610b96"/>
<rect x="1730" y="769" width="43" height="22" fill="#8f0050" fill-opacity=".6"/>
<rect x="1773" y="769" width="22" height="22" fill="#bc1242"/>
<rect x="1795" y="769" width="22" height="22" fill="#bc1343"/>
<rect x="1817" y="769" width="22" height="22" fill="#bc1646"/>
<rect x="1839" y="769" width="21" height="22" fill="#bc1b4b"/>
<rect x="1860" y="769" width="22" height="22" fill="#bc2252"/>
<rect x="1882" y="769" width="22" height="22" fill="#bc2858"/>
<rect x="1904" y="769" width="21" height="22" fill="#bc2e5e"/>
<rect x="1925" y="769" width="22" height="22" fill="#bc3565"/>
<rect x="1947" y="769" width="22" height="22" fill="#bc4979"/>
<rect x="1969" y="769" width="22" height="22" fill="#ae5896"/>
<rect x="1991" y="769" width="21" height="22" fill="#873196"/>
<rect x="2012" y="769" width="22" height="22" fill="#741e96"/>
<rect x="2034" y="769" width="22" height="22" fill="#6b1696"/>
<rect x="2056" y="769" width="22" height="22" fill="#671296"/>
<rect x="2078" y="769" width="43" height="22" fill="#661096"/>
<rect x="2121" y="769" width="22" height="22" fill="#640f96"/>
<rect x="2143" y="769" width="21" height="22" fill="#620d96"/>
<rect x="2164" y="769" width="44" height="22" fill="#610c96"/>
<rect x="2208" y="769" width="43" height="22" fill="#620c96"/>
<rect x="2251" y="769" width="66" height="22" fill="#610c96"/>
<rect x="2317" y="769" width="21" height="22" fill="#620c96"/>
<rect x="1730" y="791" width="43" height="21" fill="#8f0050" fill-opacity=".6"/>
<rect x="1773" y="791" width="22" height="21" fill="#bc1141"/>
<rect x="1795" y="791" width="22" height="21" fill="#bc1343"/>
<rect x="1817" y="791" width="22" height="21" fill="#bc1848"/>
<rect x="1839" y="791" width="21" height="21" fill="#bc2151"/>
<rect x="1860" y="791" width="22" height="21" fill="#bc2d5d"/>
<rect x="1882" y="791" width="22" height="21" fill="#bc3d6d"/>
<rect x="1904" y="791" width="21" height="21" fill="#bc4777"/>
<rect x="1925" y="791" width="22" height="21" fill="#bc5585"/>
<rect x="1947" y="791" width="22" height="21" fill="#bc6494"/>
<rect x="1969" y="791" width="22" height="21" fill="#943e96"/>
<rect x="1991" y="791" width="21" height="21" fill="#7d2796"/>
<rect x="2012" y="791" width="22" height="21" fill="#701a96"/>
<rect x="2034" y="791" width="22" height="21" fill="#691496"/>
<rect x="2056" y="791" width="43" height="21" fill="#681296"/>
<rect x="2099" y="791" width="22" height="21" fill="#671196"/>
<rect x="2121" y="791" width="22" height="21" fill="#640e96"/>
<rect x="2143" y="791" width="21" height="21" fill="#600a96"/>
<rect x="2164" y="791" width="22" height="21" fill="#5f0996"/>
<rect x="2186" y="791" width="22" height="21" fill="#600a96"/>
<rect x="2208" y="791" width="22" height="21" fill="#610c96"/>
<rect x="2230" y="791" width="108" height="21" fill="#620c96"/>
<rect x="1730" y="812" width="43" height="22" fill="#8f0050" fill-opacity=".6"/>
<rect x="1773" y="812" width="22" height="22" fill="#bc1141"/>
<rect x="1795" y="812" width="22" height="22" fill="#bc1343"/>
<rect x="1817" y="812" width="22" height="22" fill="#bc1a4a"/>
<rect x="1839" y="812" width="21" height="22" fill="#bc2656"/>
<rect x="1860" y="812" width="22" height="22" fill="#bc3565"/>
<rect x="1882" y="812" width="22" height="22" fill="#bc4c7c"/>
<rect x="1904" y="812" width="21" height="22" fill="#b35d96"/>
<rect x="1925" y="812" width="22" height="22" fill="#a04a96"/>
<rect x="1947" y="812" width="22" height="22" fill="#903a96"/>
<rect x="1969" y="812" width="22" height="22" fill="#822c96"/>
<rect x="1991" y="812" width="21" height="22" fill="#731d96"/>
<rect x="2012" y="812" width="22" height="22" fill="#6b1696"/>
<rect x="2034" y="812" width="22" height="22" fill="#6a1496"/>
<rect x="2056" y="812" width="22" height="22" fill="#6d1796"/>
<rect x="2078" y="812" width="21" height="22" fill="#6e1896"/>
<rect x="2099" y="812" width="22" height="22" fill="#6c1696"/>
<rect x="2121" y="812" width="22" height="22" fill="#671196"/>
<rect x="2143" y="812" width="21" height="22" fill="#610b96"/>
<rect x="2164" y="812" width="22" height="22" fill="#5e0896"/>
<rect x="2186" y="812" width="22" height="22" fill="#5f0a96"/>
<rect x="2208" y="812" width="22" height="22" fill="#610c96"/>
<rect x="2230" y="812" width="21" height="22" fill="#620c96"/>
<rect x="2251" y="812" width="22" height="22" fill="#620d96"/>
<rect x="2273" y="812" width="65" height="22" fill="#620c96"/>
<rect x="1730" y="834" width="43" height="22" fill="#8f0050" fill-opacity=".6"/>
<rect x="1773" y="834" width="22" height="22" fill="#bc1141"/>
<rect x="1795" y="834" width="22" height="22" fill="#bc1343"/>
<rect x="1817" y="834" width="22" height="22" fill="#bc1a4a"/>
<rect x="1839" y="834" width="21" height="22" fill="#bc2555"/>
<rect x="1860" y="834" width="22" height="22" fill="#bc3363"/>
<rect x="1882" y="834" width="22" height="22" fill="#bc4777"/>
<rect x="1904" y="834" width="21" height="22" fill="#bc6595"/>
<rect x="1925" y="834" width="22" height="22" fill="#9a4496"/>
<rect x="1947" y="834" width="22" height="22" fill="#812b96"/>
<rect x="1969" y="834" width="22" height="22" fill="#772296"/>
<rect x="1991" y="834" width="21" height="22" fill="#721c96"/>
<rect x="2012" y="834" width="22" height="22" fill="#6d1796"/>
<rect x="2034" y="834" width="22" height="22" fill="#701b96"/>
<rect x="2056" y="834" width="22" height="22" fill="#772196"/>
<rect x="2078" y="834" width="21" height="22" fill="#7b2596"/>
<rect x="2099" y="834" width="22" height="22" fill="#7a2496"/>
<rect x="2121" y="834" width="22" height="22" fill="#721c96"/>
<rect x="2143" y="834" width="21" height="22" fill="#691396"/>
<rect x="2164" y="834" width="22" height="22" fill="#630d96"/>
<rect x="2186" y="834" width="22" height="22" fill="#620c96"/>
<rect x="2208" y="834" width="65" height="22" fill="#630d96"/>
<rect x="2273" y="834" width="22" height="22" fill="#620d96"/>
<rect x="2295" y="834" width="43" height="22" fill="#620c96"/>
<rect x="1730" y="856" width="43" height="21" fill="#8f0050" fill-opacity=".6"/>
<rect x="1773" y="856" width="22" height="21" fill="#bc1141"/>
<rect x="1795" y="856" width="22" height="21" fill="#bc1343"/>
<rect x="1817" y="856" width="22" height="21" fill="#bc1848"/>
<rect x="1839" y="856" width="21" height="21" fill="#bc2050"/>
<rect x="1860" y="856" width="22" height="21" fill="#bc2b5b"/>
<rect x="1882" y="856" width="22" height="21" fill="#bc3767"/>
<rect x="1904" y="856" width="21" height="21" fill="#bc4b7b"/>
<rect x="1925" y="856" width="22" height="21" fill="#b86396"/>
<rect x="1947" y="856" width="22" height="21" fill="#9e4896"/>
<rect x="1969" y="856" width="22" height="21" fill="#8d3896"/>
<rect x="1991" y="856" width="21" height="21" fill="#812b96"/>
<rect x="2012" y="856" width="22" height="21" fill="#792396"/>
<rect x="2034" y="856" width="22" height="21" fill="#7e2896"/>
<rect x="2056" y="856" width="22" height="21" fill="#8a3596"/>
<rect x="2078" y="856" width="43" height="21" fill="#994396"/>
<rect x="2121" y="856" width="22" height="21" fill="#8c3696"/>
<rect x="2143" y="856" width="21" height="21" fill="#792396"/>
<rect x="2164" y="856" width="22" height="21" fill="#6c1696"/>
<rect x="2186" y="856" width="22" height="21" fill="#671196"/>
<rect x="2208" y="856" width="22" height="21" fill="#650f96"/>
<rect x="2230" y="856" width="21" height="21" fill="#640e96"/>
<rect x="2251" y="856" width="44" height="21" fill="#630d96"/>
<rect x="2295" y="856" width="22" height="21" fill="#620d96"/>
<rect x="2317" y="856" width="21" height="21" fill="#620c96"/>
<rect x="1730" y="877" width="43" height="22" fill="#8f0050" fill-opacity=".6"/>
<rect x="1773" y="877" width="22" height="22" fill="#bc1141"/>
<rect x="1795" y="877" width="22" height="22" fill="#bc1242"/>
<rect x="1817" y="877" width="22" height="22" fill="#bc1545"/>
<rect x="1839" y="877" width="21" height="22" fill="#bc1a4a"/>
<rect x="1860" y="877" width="22" height="22" fill="#bc2050"/>
<rect x="1882" y="877" width="22" height="22" fill="#bc2858"/>
<rect x="1904" y="877" width="21" height="22" fill="#bc3666"/>
<rect x="1925" y="877" width="22" height="22" fill="#bc4373"/>
<rect x="1947" y="877" width="22" height="22" fill="#bc5484"/>
<rect x="1969" y="877" width="22" height="22" fill="#ba6496"/>
<rect x="1991" y="877" width="21" height="22" fill="#9e4896"/>
<rect x="2012" y="877" width="22" height="22" fill="#923c96"/>
<rect x="2034" y="877" width="22" height="22" fill="#994496"/>
<rect x="2056" y="877" width="22" height="22" fill="#af5996"/>
<rect x="2078" y="877" width="21" height="22" fill="#bc5686"/>
<rect x="2099" y="877" width="22" height="22" fill="#bc5585"/>
<rect x="2121" y="877" width="22" height="22" fill="#b45e96"/>
<rect x="2143" y="877" width="21" height="22" fill="#8e3896"/>
<rect x="2164" y="877" width="22" height="22" fill="#782296"/>
<rect x="2186" y="877" width="22" height="22" fill="#6d1896"/>
<rect x="2208" y="877" width="22" height="22" fill="#681296"/>
<rect x="2230" y="877" width="21" height="22" fill="#650f96"/>
<rect x="2251" y="877" width="22" height="22" fill="#640e96"/>
<rect x="2273" y="877" width="44" height="22" fill="#630d96"/>
<rect x="2317" y="877" width="21" height="22" fill="#620c96"/>
<rect x="1730" y="899" width="43" height="22" fill="#8f0050" fill-opacity=".6"/>
<rect x="1773" y="899" width="44" height="22" fill="#bc1242"/>
<rect x="1817" y="899" width="22" height="22" fill="#bc1444"/>
<rect x="1839" y="899" width="21" height="22" fill="#bc1646"/>
<rect x="1860" y="899" width="22" height="22" fill="#bc1a4a"/>
<rect x="1882" y="899" width="22" height="22" fill="#bc1e4e"/>
<rect x="1904" y="899" width="21" height="22" fill="#bc2454"/>
<rect x="1925" y="899" width="22" height="22" fill="#bc2b5b"/>
<rect x="1947" y="899" width="22" height="22" fill="#bc3767"/>
<rect x="1969" y="899" width="22" height="22" fill="#bc4272"/>
<rect x="1991" y="899" width="21" height="22" fill="#bc5383"/>
<rect x="2012" y="899" width="22" height="22" fill="#bc5e8e"/>
<rect x="2034" y="899" width="22" height="22" fill="#bc5787"/>
<rect x="2056" y="899" width="22" height="22" fill="#bc4777"/>
<rect x="2078" y="899" width="21" height="22" fill="#bc3868"/>
<rect x="2099" y="899" width="22" height="22" fill="#bc3767"/>
<rect x="2121" y="899" width="22" height="22" fill="#bc5080"/>
<rect x="2143" y="899" width="21" height="22" fill="#a44e96"/>
<rect x="2164" y="899" width="22" height="22" fill="#812c96"/>
<rect x="2186" y="899" width="22" height="22" fill="#721c96"/>
<rect x="2208" y="899" width="22" height="22" fill="#6a1496"/>
<rect x="2230" y="899" width="21" height="22" fill="#661096"/>
<rect x="2251" y="899" width="22" height="22" fill="#640f96"/>
<rect x="2273" y="899" width="44" height="22" fill="#630d96"/>
<rect x="2317" y="899" width="21" height="22" fill="#620d96"/>
<rect x="1730" y="921" width="43" height="22" fill="#8f0050" fill-opacity=".6"/>
<rect x="1773" y="921" width="22" height="22" fill="#bc1343"/>
<rect x="1795" y="921" width="22" height="22" fill="#bc1242"/>
<rect x="1817" y="921" width="22" height="22" fill="#bc1343"/>
<rect x="1839" y="921" width="21" height="22" fill="#bc1444"/>
<rect x="1860" y="921" width="22" height="22" fill="#bc1646"/>
<rect x="1882" y="921" width="22" height="22" fill="#bc1949"/>
<rect x="1904" y="921" width="21" height="22" fill="#bc1c4c"/>
<rect x="1925" y="921" width="22" height="22" fill="#bc2050"/>
<rect x="1947" y="921" width="22" height="22" fill="#bc2555"/>
<rect x="1969" y="921" width="22" height="22" fill="#bc2d5d"/>
<rect x="1991" y="921" width="21" height="22" fill="#bc3767"/>
<rect x="2012" y="921" width="22" height="22" fill="#bc3c6c"/>
<rect x="2034" y="921" width="22" height="22" fill="#bc3969"/>
<rect x="2056" y="921" width="22" height="22" fill="#bc3262"/>
<rect x="2078" y="921" width="21" height="22" fill="#bc2b5b"/>
<rect x="2099" y="921" width="22" height="22" fill="#bc2f5f"/>
<rect x="2121" y="921" width="22" height="22" fill="#bc4575"/>
<rect x="2143" y="921" width="21" height="22" fill="#b25d96"/>
<rect x="2164" y="921" width="22" height="22" fill="#863096"/>
<rect x="2186" y="921" width="22" height="22" fill="#731d96"/>
<rect x="2208" y="921" width="22" height="22" fill="#6b1596"/>
<rect x="2230" y="921" width="21" height="22" fill="#661196"/>
<rect x="2251" y="921" width="22" height="22" fill="#640f96"/>
<rect x="2273" y="921" width="22" height="22" fill="#630e96"/>
<rect x="2295" y="921" width="22" height="22" fill="#630d96"/>
<rect x="2317" y="921" width="21" height="22" fill="#620d96"/>
<rect x="1730" y="943" width="43" height="21" fill="#8f0050" fill-opacity=".6"/>
<rect x="1773" y="943" width="22" height="21" fill="#bc1343"/>
<rect x="1795" y="943" width="87" height="21" fill="#bc1242"/>
<rect x="1882" y="943" width="22" height="21" fill="#bc1444"/>
<rect x="1904" y="943" width="21" height="21" fill="#bc1646"/>
<rect x="1925" y="943" width="22" height="21" fill="#bc1848"/>
<rect x="1947" y="943" width="22" height="21" fill="#bc1c4c"/>
<rect x="1969" y="943" width="22" height="21" fill="#bc2252"/>
<rect x="1991" y="943" width="21" height="21" fill="#bc2656"/>
<rect x="2012" y="943" width="22" height="21" fill="#bc2959"/>
<rect x="2034" y="943" width="22" height="21" fill="#bc2858"/>
<rect x="2056" y="943" width="22" height="21" fill="#bc2656"/>
<rect x="2078" y="943" width="21" height="21" fill="#bc2a5a"/>
<rect x="2099" y="943" width="22" height="21" fill="#bc3969"/>
<rect x="2121" y="943" width="22" height="21" fill="#bc5080"/>
<rect x="2143" y="943" width="21" height="21" fill="#a34d96"/>
<rect x="2164" y="943" width="22" height="21" fill="#7c2696"/>
<rect x="2186" y="943" width="22" height="21" fill="#6f1996"/>
<rect x="2208" y="943" width="22" height="21" fill="#681396"/>
<rect x="2230" y="943" width="21" height="21" fill="#661096"/>
<rect x="2251" y="943" width="22" height="21" fill="#640e96"/>
<rect x="2273" y="943" width="22" height="21" fill="#630e96"/>
<rect x="2295" y="943" width="22" height="21" fill="#630d96"/>
<rect x="2317" y="943" width="21" height="21" fill="#620d96"/>
<rect x="1730" y="964" width="43" height="22" fill="#8f0050" fill-opacity=".6"/>
<rect x="1773" y="964" width="22" height="22" fill="#bc1242"/>
<rect x="1795" y="964" width="22" height="22" fill="#bc1141"/>
<rect x="1817" y="964" width="22" height="22" fill="#bc1040"/>
<rect x="1839" y="964" width="65" height="22" fill="#bc0f3f"/>
<rect x="1904" y="964" width="21" height="22" fill="#bc1141"/>
<rect x="1925" y="964" width="22" height="22" fill="#bc1343"/>
<rect x="1947" y="964" width="22" height="22" fill="#bc1646"/>
<rect x="1969" y="964" width="22" height="22" fill="#bc1a4a"/>
<rect x="1991" y="964" width="21" height="22" fill="#bc1d4d"/>
<rect x="2012" y="964" width="44" height="22" fill="#bc2050"/>
<rect x="2056" y="964" width="22" height="22" fill="#bc2555"/>
<rect x="2078" y="964" width="21" height="22" fill="#bc3262"/>
<rect x="2099" y="964" width="22" height="22" fill="#bc4676"/>
<rect x="2121" y="964" width="22" height="22" fill="#bc6696"/>
<rect x="2143" y="964" width="21" height="22" fill="#863196"/>
<rect x="2164" y="964" width="22" height="22" fill="#731d96"/>
<rect x="2186" y="964" width="22" height="22" fill="#6a1596"/>
<rect x="2208" y="964" width="22" height="22" fill="#671196"/>
<rect x="2230" y="964" width="21" height="22" fill="#650f96"/>
<rect x="2251" y="964" width="22" height="22" fill="#640e96"/>
<rect x="2273" y="964" width="22" height="22" fill="#630e96"/>
<rect x="2295" y="964" width="43" height="22" fill="#630d96"/>
<rect x="1730" y="986" width="43" height="22" fill="#8f0050" fill-opacity=".6"/>
<rect x="1773" y="986" width="22" height="22" fill="#bc1141"/>
<rect x="1795" y="986" width="22" height="22" fill="#bc0f3f"/>
<rect x="1817" y="986" width="22" height="22" fill="#bc0d3d"/>
<rect x="1839" y="986" width="21" height="22" fill="#bc0b3b"/>
<rect x="1860" y="986" width="44" height="22" fill="#bc0a3a"/>
<rect x="1904" y="986" width="21" height="22" fill="#bc0c3c"/>
<rect x="1925" y="986" width="22" height="22" fill="#bc0e3e"/>
<rect x="1947" y="986" width="22" height="22" fill="#bc1141"/>
<rect x="1969" y="986" width="22" height="22" fill="#bc1444"/>
<rect x="1991" y="986" width="21" height="22" fill="#bc1747"/>
<rect x="2012" y="986" width="22" height="22" fill="#bc1a4a"/>
<rect x="2034" y="986" width="22" height="22" fill="#bc1f4f"/>
<rect x="2056" y="986" width="22" height="22" fill="#bc2959"/>
<rect x="2078" y="986" width="21" height="22" fill="#bc3868"/>
<rect x="2099" y="986" width="22" height="22" fill="#bc5181"/>
<rect x="2121" y="986" width="22" height="22" fill="#994396"/>
<rect x="2143" y="986" width="21" height="22" fill="#731d96"/>
<rect x="2164" y="986" width="22" height="22" fill="#6a1496"/>
<rect x="2186" y="986" width="22" height="22" fill="#671196"/>
<rect x="2208" y="986" width="22" height="22" fill="#661096"/>
<rect x="2230" y="986" width="21" height="22" fill="#650f96"/>
<rect x="2251" y="986" width="44" height="22" fill="#640e96"/>
<rect x="2295" y="986" width="43" height="22" fill="#630d96"/>
<rect x="1730" y="1008" width="43" height="21" fill="#8f0050" fill-opacity=".6"/>
<rect x="1773" y="1008" width="22" height="21" fill="#bc0f3f"/>
<rect x="1795" y="1008" width="22" height="21" fill="#bc0c3c"/>
<rect x="1817" y="1008" width="22" height="21" fill="#bc0a3a"/>
<rect x="1839" y="1008" width="21" height="21" fill="#bc0737"/>
<rect x="1860" y="1008" width="44" height="21" fill="#bc0636"/>
<rect x="1904" y="1008" width="21" height="21" fill="#bc0737"/>
<rect x="1925" y="1008" width="22" height="21" fill="#bc0a3a"/>
<rect x="1947" y="1008" width="22" height="21" fill="#bc0d3d"/>
<rect x="1969" y="1008" width="22" height="21" fill="#bc1040"/>
<rect x="1991" y="1008" width="21" height="21" fill="#bc1444"/>
<rect x="2012" y="1008" width="22" height="21" fill="#bc1949"/>
<rect x="2034" y="1008" width="22" height="21" fill="#bc2050"/>
<rect x="2056" y="1008" width="22" height="21" fill="#bc2b5b"/>
<rect x="2078" y="1008" width="21" height="21" fill="#bc3d6d"/>
<rect x="2099" y="1008" width="22" height="21" fill="#bc5989"/>
<rect x="2121" y="1008" width="22" height="21" fill="#883296"/>
<rect x="2143" y="1008" width="21" height="21" fill="#6e1896"/>
<rect x="2164" y="1008" width="22" height="21" fill="#681296"/>
<rect x="2186" y="1008" width="22" height="21" fill="#661096"/>
<rect x="2208" y="1008" width="22" height="21" fill="#651096"/>
<rect x="2230" y="1008" width="21" height="21" fill="#650f96"/>
<rect x="2251" y="1008" width="44" height="21" fill="#640e96"/>
<rect x="2295" y="1008" width="43" height="21" fill="#630d96"/>
<rect x="1730" y="1029" width="43" height="22" fill="#8f0050" fill-opacity=".6"/>
<rect x="1773" y="1029" width="22" height="22" fill="#bc0e3e"/>
<rect x="1795" y="1029" width="22" height="22" fill="#bc0a3a"/>
<rect x="1817" y="1029" width="22" height="22" fill="#bc0737"/>
<rect x="1839" y="1029" width="21" height="22" fill="#bc0434"/>
<rect x="1860" y="1029" width="44" height="22" fill="#bc0232"/>
<rect x="1904" y="1029" width="21" height="22" fill="#bc0434"/>
<rect x="1925" y="1029" width="22" height="22" fill="#bc0737"/>
<rect x="1947" y="1029" width="22" height="22" fill="#bc0b3b"/>
<rect x="1969" y="1029" width="22" height="22" fill="#bc0e3e"/>
<rect x="1991" y="1029" width="21" height="22" fill="#bc1343"/>
<rect x="2012" y="1029" width="22" height="22" fill="#bc1848"/>
<rect x="2034" y="1029" width="22" height="22" fill="#bc1f4f"/>
<rect x="2056" y="1029" width="22" height="22" fill="#bc2959"/>
<rect x="2078" y="1029" width="21" height="22" fill="#bc3767"/>
<rect x="2099" y="1029" width="22" height="22" fill="#bc4d7d"/>
<rect x="2121" y="1029" width="22" height="22" fill="#a65096"/>
<rect x="2143" y="1029" width="21" height="22" fill="#7a2496"/>
<rect x="2164" y="1029" width="22" height="22" fill="#6d1796"/>
<rect x="2186" y="1029" width="22" height="22" fill="#671196"/>
<rect x="2208" y="1029" width="22" height="22" fill="#651096"/>
<rect x="2230" y="1029" width="21" height="22" fill="#650f96"/>
<rect x="2251" y="1029" width="22" height="22" fill="#640e96"/>
<rect x="2273" y="1029" width="22" height="22" fill="#630e96"/>
<rect x="2295" y="1029" width="43" height="22" fill="#630d96"/>
<rect x="1730" y="1051" width="43" height="22" fill="#8f0050" fill-opacity=".6"/>
<rect x="1773" y="1051" width="22" height="22" fill="#bc0d3d"/>
<rect x="1795" y="1051" width="22" height="22" fill="#bc0939"/>
<rect x="1817" y="1051" width="22" height="22" fill="#bc0535"/>
<rect x="1839" y="1051" width="21" height="22" fill="#bc0232"/>
<rect x="1860" y="1051" width="44" height="22" fill="#bc0131"/>
<rect x="1904" y="1051" width="21" height="22" fill="#bc0333"/>
<rect x="1925" y="1051" width="22" height="22" fill="#bc0636"/>
<rect x="1947" y="1051" width="22" height="22" fill="#bc0a3a"/>
<rect x="1969" y="1051" width="22" height="22" fill="#bc0f3f"/>
<rect x="1991" y="1051" width="21" height="22" fill="#bc1343"/>
<rect x="2012" y="1051" width="22" height="22" fill="#bc1848"/>
<rect x="2034" y="1051" width="22" height="22" fill="#bc1d4d"/>
<rect x="2056" y="1051" width="22" height="22" fill="#bc2555"/>
<rect x="2078" y="1051" width="21" height="22" fill="#bc3060"/>
<rect x="2099" y="1051" width="22" height="22" fill="#bc4070"/>
<rect x="2121" y="1051" width="22" height="22" fill="#bc5383"/>
<rect x="2143" y="1051" width="21" height="22" fill="#a14b96"/>
<rect x="2164" y="1051" width="22" height="22" fill="#741e96"/>
<rect x="2186" y="1051" width="22" height="22" fill="#691396"/>
<rect x="2208" y="1051" width="22" height="22" fill="#651096"/>
<rect x="2230" y="1051" width="43" height="22" fill="#640e96"/>
<rect x="2273" y="1051" width="44" height="22" fill="#630d96"/>
<rect x="2317" y="1051" width="21" height="22" fill="#620d96"/>
<rect x="1730" y="1073" width="43" height="21" fill="#8f0050" fill-opacity=".6"/>
<rect x="1773" y="1073" width="22" height="21" fill="#bc0d3d"/>
<rect x="1795" y="1073" width="22" height="21" fill="#bc0939"/>
<rect x="1817" y="1073" width="22" height="21" fill="#bc0636"/>
<rect x="1839" y="1073" width="21" height="21" fill="#bc0333"/>
<rect x="1860" y="1073" width="22" height="21" fill="#bc0131"/>
<rect x="1882" y="1073" width="22" height="21" fill="#bc0232"/>
<rect x="1904" y="1073" width="21" height="21" fill="#bc0434"/>
<rect x="1925" y="1073" width="22" height="21" fill="#bc0737"/>
<rect x="1947" y="1073" width="22" height="21" fill="#bc0b3b"/>
<rect x="1969" y="1073" width="22" height="21" fill="#bc0f3f"/>
<rect x="1991" y="1073" width="21" height="21" fill="#bc1343"/>
<rect x="2012" y="1073" width="22" height="21" fill="#bc1747"/>
<rect x="2034" y="1073" width="22" height="21" fill="#bc1c4c"/>
<rect x="2056" y="1073" width="22" height="21" fill="#bc2151"/>
<rect x="2078" y="1073" width="21" height="21" fill="#bc2959"/>
<rect x="2099" y="1073" width="22" height="21" fill="#bc3262"/>
<rect x="2121" y="1073" width="22" height="21" fill="#bc4272"/>
<rect x="2143" y="1073" width="21" height="21" fill="#bc6191"/>
<rect x="2164" y="1073" width="22" height="21" fill="#7c2796"/>
<rect x="2186" y="1073" width="22" height="21" fill="#6a1496"/>
<rect x="2208" y="1073" width="22" height="21" fill="#650f96"/>
<rect x="2230" y="1073" width="21" height="21" fill="#640e96"/>
<rect x="2251" y="1073" width="66" height="21" fill="#630d96"/>
<rect x="2317" y="1073" width="21" height="21" fill="#620d96"/>
<rect x="1730" y="1094" width="87" height="22" fill="#8f0050" fill-opacity=".6"/>
<rect x="1817" y="1094" width="22" height="22" fill="#bc0737"/>
<rect x="1839" y="1094" width="21" height="22" fill="#bc0535"/>
<rect x="1860" y="1094" width="22" height="22" fill="#bc0333"/>
<rect x="1882" y="1094" width="22" height="22" fill="#bc0434"/>
<rect x="1904" y="1094" width="21" height="22" fill="#bc0636"/>
<rect x="1925" y="1094" width="22" height="22" fill="#bc0939"/>
<rect x="1947" y="1094" width="22" height="22" fill="#bc0d3d"/>
<rect x="1969" y="1094" width="22" height="22" fill="#bc1040"/>
<rect x="1991" y="1094" width="21" height="22" fill="#bc1343"/>
<rect x="2012" y="1094" width="22" height="22" fill="#bc1747"/>
<rect x="2034" y="1094" width="22" height="22" fill="#bc1a4a"/>
<rect x="2056" y="1094" width="22" height="22" fill="#bc1e4e"/>
<rect x="2078" y="1094" width="21" height="22" fill="#bc2353"/>
<rect x="2099" y="1094" width="22" height="22" fill="#bc2e5e"/>
<rect x="2121" y="1094" width="22" height="22" fill="#bc3f6f"/>
<rect x="2143" y="1094" width="21" height="22" fill="#bc5d8d"/>
<rect x="2164" y="1094" width="22" height="22" fill="#802a96"/>
<rect x="2186" y="1094" width="22" height="22" fill="#6a1496"/>
<rect x="2208" y="1094" width="22" height="22" fill="#650f96"/>
<rect x="2230" y="1094" width="21" height="22" fill="#630e96"/>
<rect x="2251" y="1094" width="44" height="22" fill="#630d96"/>
<rect x="2295" y="1094" width="22" height="22" fill="#620d96"/>
<rect x="2317" y="1094" width="21" height="22" fill="#620c96"/>
<rect x="1730" y="1116" width="195" height="22" fill="#8f0050" fill-opacity=".6"/>
<rect x="1925" y="1116" width="22" height="22" fill="#bc0c3c"/>
<rect x="1947" y="1116" width="22" height="22" fill="#bc0f3f"/>
<rect x="1969" y="1116" width="22" height="22" fill="#bc1141"/>
<rect x="1991" y="1116" width="21" height="22" fill="#bc1444"/>
<rect x="2012" y="1116" width="22" height="22" fill="#bc1646"/>
<rect x="2034" y="1116" width="22" height="22" fill="#bc1949"/>
<rect x="2056" y="1116" width="22" height="22" fill="#bc1e4e"/>
<rect x="2078" y="1116" width="21" height="22" fill="#bc2454"/>
<rect x="2099" y="1116" width="22" height="22" fill="#bc3060"/>
<rect x="2121" y="1116" width="22" height="22" fill="#bc4272"/>
<rect x="2143" y="1116" width="21" height="22" fill="#bc6292"/>
<rect x="2164" y="1116" width="22" height="22" fill="#7b2596"/>
<rect x="2186" y="1116" width="22" height="22" fill="#691396"/>
<rect x="2208" y="1116" width="22" height="22" fill="#640e96"/>
<rect x="2230" y="1116" width="43" height="22" fill="#630d96"/>
<rect x="2273" y="1116" width="22" height="22" fill="#620d96"/>
<rect x="2295" y="1116" width="43" height="22" fill="#620c96"/>
<rect x="1730" y="1138" width="304" height="22" fill="#8f0050" fill-opacity=".6"/>
<rect x="2034" y="1138" width="22" height="22" fill="#bc1a4a"/>
<rect x="2056" y="1138" width="22" height="22" fill="#bc1e4e"/>
<rect x="2078" y="1138" width="21" height="22" fill="#bc2656"/>
<rect x="2099" y="1138" width="22" height="22" fill="#bc3262"/>
<rect x="2121" y="1138" width="22" height="22" fill="#bc4676"/>
<rect x="2143" y="1138" width="21" height="22" fill="#b86296"/>
<rect x="2164" y="1138" width="22" height="22" fill="#772196"/>
<rect x="2186" y="1138" width="22" height="22" fill="#671296"/>
<rect x="2208" y="1138" width="22" height="22" fill="#640e96"/>
<rect x="2230" y="1138" width="21" height="22" fill="#630d96"/>
<rect x="2251" y="1138" width="22" height="22" fill="#620d96"/>
<rect x="2273" y="1138" width="65" height="22" fill="#620c96"/>
<rect x="1730" y="1160" width="413" height="21" fill="#8f0050" fill-opacity=".6"/>
<rect x="2143" y="1160" width="21" height="21" fill="#a95496"/>
<rect x="2164" y="1160" width="22" height="21" fill="#731e96"/>
<rect x="2186" y="1160" width="22" height="21" fill="#661196"/>
<rect x="2208" y="1160" width="22" height="21" fill="#630d96"/>
<rect x="2230" y="1160" width="21" height="21" fill="#620d96"/>
<rect x="2251" y="1160" width="87" height="21" fill="#620c96"/>
<rect x="1730" y="1181" width="521" height="22" fill="#8f0050" fill-opacity=".6"/>
<rect x="2251" y="1181" width="87" height="22" fill="#620c96"/>
<rect x="1730" y="1203" width="608" height="22" fill="#8f0050" fill-opacity=".6"/>
<rect x="1730" y="1225" width="608" height="21" fill="#8f0050" fill-opacity=".6"/>
<rect x="1730" y="1246" width="608" height="22" fill="#8f0050" fill-opacity=".6"/>
</g>
<g fill="#000"><circle cx="2141.0" cy="64.5" r="1.6"/><circle cx="2148.1" cy="86.5" r="1.6"/><circle cx="2154.4" cy="94.4" r="1.6"/><circle cx="2170.1" cy="107.5" r="1.6"/><circle cx="2175.0" cy="112.4" r="1.6"/><circle cx="2193.3" cy="129.5" r="1.6"/><circle cx="2197.1" cy="133.3" r="1.6"/><circle cx="2207.2" cy="151.6" r="1.6"/><circle cx="2205.0" cy="172.5" r="1.6"/><circle cx="2197.1" cy="183.7" r="1.6"/><circle cx="2187.3" cy="194.6" r="1.6"/><circle cx="2180.2" cy="216.6" r="1.6"/><circle cx="2181.3" cy="237.6" r="1.6"/><circle cx="2179.4" cy="259.6" r="1.6"/><circle cx="2175.0" cy="273.7" r="1.6"/><circle cx="2174.2" cy="281.6" r="1.6"/><circle cx="2170.1" cy="303.4" r="1.6"/><circle cx="2169.1" cy="324.4" r="1.6"/><circle cx="2168.2" cy="346.4" r="1.6"/><circle cx="2170.1" cy="368.4" r="1.6"/><circle cx="2175.3" cy="389.9" r="1.6"/><circle cx="2184.0" cy="411.4" r="1.6"/><circle cx="2182.4" cy="433.5" r="1.6"/><circle cx="2175.0" cy="441.6" r="1.6"/><circle cx="2164.2" cy="454.4" r="1.6"/><circle cx="2153.5" cy="475.9" r="1.6"/><circle cx="2147.3" cy="498.5" r="1.6"/><circle cx="2138.3" cy="519.5" r="1.6"/><circle cx="2132.0" cy="529.5" r="1.6"/><circle cx="2125.2" cy="541.5" r="1.6"/><circle cx="2115.5" cy="563.5" r="1.6"/><circle cx="2110.3" cy="572.5" r="1.6"/><circle cx="2098.3" cy="585.6" r="1.6"/><circle cx="2089.3" cy="593.5" r="1.6"/><circle cx="2067.6" cy="604.6" r="1.6"/><circle cx="2054.5" cy="606.5" r="1.6"/><circle cx="2045.2" cy="608.4" r="1.6"/><circle cx="2024.0" cy="607.3" r="1.6"/><circle cx="2008.2" cy="628.3" r="1.6"/><circle cx="2002.5" cy="646.5" r="1.6"/><circle cx="2000.1" cy="650.6" r="1.6"/><circle cx="1995.5" cy="671.6" r="1.6"/><circle cx="1991.4" cy="693.6" r="1.6"/><circle cx="1991.4" cy="715.4" r="1.6"/><circle cx="1987.3" cy="736.6" r="1.6"/><circle cx="1982.1" cy="758.6" r="1.6"/><circle cx="1980.2" cy="764.6" r="1.6"/><circle cx="1975.3" cy="780.4" r="1.6"/><circle cx="1959.0" cy="803.0" r="1.6"/><circle cx="1937.5" cy="810.6" r="1.6"/><circle cx="1915.5" cy="823.9" r="1.6"/><circle cx="1920.1" cy="845.4" r="1.6"/><circle cx="1937.5" cy="867.2" r="1.6"/><circle cx="1958.2" cy="879.5" r="1.6"/><circle cx="1979.7" cy="888.7" r="1.6"/><circle cx="2002.3" cy="901.5" r="1.6"/><circle cx="2024.0" cy="906.7" r="1.6"/><circle cx="2045.2" cy="903.4" r="1.6"/><circle cx="2067.3" cy="893.6" r="1.6"/><circle cx="2074.4" cy="888.4" r="1.6"/><circle cx="2089.3" cy="880.5" r="1.6"/><circle cx="2110.0" cy="880.5" r="1.6"/><circle cx="2129.3" cy="888.4" r="1.6"/><circle cx="2132.0" cy="892.5" r="1.6"/><circle cx="2145.1" cy="910.5" r="1.6"/><circle cx="2151.4" cy="932.5" r="1.6"/><circle cx="2146.2" cy="953.7" r="1.6"/><circle cx="2132.0" cy="976.1" r="1.6"/><circle cx="2123.3" cy="997.4" r="1.6"/><circle cx="2118.2" cy="1018.6" r="1.6"/><circle cx="2127.2" cy="1040.4" r="1.6"/><circle cx="2132.0" cy="1046.4" r="1.6"/><circle cx="2148.1" cy="1062.2" r="1.6"/><circle cx="2154.4" cy="1073.6" r="1.6"/><circle cx="2157.4" cy="1084.5" r="1.6"/><circle cx="2159.3" cy="1105.7" r="1.6"/><circle cx="2156.3" cy="1127.5" r="1.6"/></g>
</svg>
</body></html>
